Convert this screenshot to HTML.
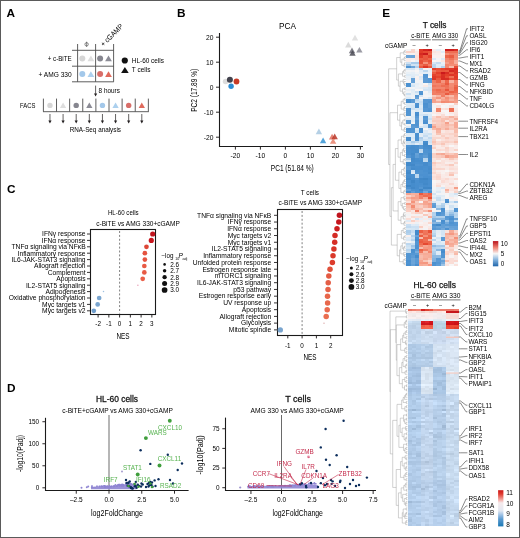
<!DOCTYPE html>
<html><head><meta charset="utf-8"><style>
html,body{margin:0;padding:0;background:#fff;}
svg{display:block;filter:blur(0.35px);}
text{font-family:"Liberation Sans", sans-serif;}
</style></head><body>
<svg width="520" height="538" viewBox="0 0 520 538" font-family='"Liberation Sans", sans-serif'>
<rect width="520" height="538" fill="#fff"/>
<text x="6.60" y="16.90" font-size="11.8" fill="#000" font-weight="bold" >A</text>
<text x="177.00" y="16.80" font-size="11.8" fill="#000" font-weight="bold" >B</text>
<text x="7.00" y="192.90" font-size="11.8" fill="#000" font-weight="bold" >C</text>
<text x="7.00" y="392.00" font-size="11.8" fill="#000" font-weight="bold" >D</text>
<text x="382.20" y="16.80" font-size="11.8" fill="#000" font-weight="bold" >E</text>
<line x1="72.00" y1="50.30" x2="113.80" y2="50.30" stroke="#4d4d4d" stroke-width="0.9" />
<line x1="72.00" y1="66.20" x2="113.80" y2="66.20" stroke="#4d4d4d" stroke-width="0.9" />
<line x1="72.00" y1="81.80" x2="113.80" y2="81.80" stroke="#4d4d4d" stroke-width="0.9" />
<line x1="77.60" y1="44.00" x2="77.60" y2="81.80" stroke="#4d4d4d" stroke-width="0.9" />
<line x1="95.60" y1="44.00" x2="95.60" y2="81.80" stroke="#4d4d4d" stroke-width="0.9" />
<line x1="113.60" y1="44.00" x2="113.60" y2="81.80" stroke="#4d4d4d" stroke-width="0.9" />
<circle cx="86.6" cy="44.3" r="1.7" fill="none" stroke="#333" stroke-width="0.55"/>
<line x1="86.60" y1="41.70" x2="86.60" y2="46.90" stroke="#333" stroke-width="0.55" />
<text x="103.40" y="47.00" font-size="7.4" textLength="28.50" lengthAdjust="spacingAndGlyphs" transform="rotate(-45 103.40 47.00)" >+ cGAMP</text>
<text x="71.70" y="61.00" font-size="6.8" text-anchor="end" textLength="24.00" lengthAdjust="spacingAndGlyphs" >+ c-BiTE</text>
<text x="71.70" y="76.90" font-size="6.8" text-anchor="end" textLength="33.20" lengthAdjust="spacingAndGlyphs" >+ AMG 330</text>
<circle cx="82.30" cy="58.40" r="3.00" fill="#d6d6d6" />
<path d="M87.50,61.35 L90.90,55.45 L94.30,61.35 Z" fill="#dedede" />
<circle cx="100.10" cy="58.40" r="3.00" fill="#86868f" />
<path d="M105.10,61.35 L108.50,55.45 L111.90,61.35 Z" fill="#8b8b95" />
<circle cx="82.30" cy="74.10" r="3.00" fill="#a3c8ea" />
<path d="M87.50,77.05 L90.90,71.15 L94.30,77.05 Z" fill="#acd0ee" />
<circle cx="100.10" cy="74.10" r="3.00" fill="#d86e69" />
<path d="M105.10,77.05 L108.50,71.15 L111.90,77.05 Z" fill="#e06a5c" />
<circle cx="124.80" cy="60.50" r="3.10" fill="#111" />
<path d="M121.10,72.90 L124.90,67.10 L128.70,72.90 Z" fill="#111" />
<text x="131.80" y="62.80" font-size="6.8" textLength="32.20" lengthAdjust="spacingAndGlyphs" >HL-60 cells</text>
<text x="131.80" y="72.20" font-size="6.8" textLength="18.60" lengthAdjust="spacingAndGlyphs" >T cells</text>
<line x1="95.60" y1="85.60" x2="95.60" y2="93.90" stroke="#231f20" stroke-width="0.7" />
<path d="M94.00,93.40 L95.60,96.40 L97.20,93.40 Z" fill="#231f20"/>
<text x="98.60" y="92.70" font-size="6.8" textLength="21.30" lengthAdjust="spacingAndGlyphs" >8 hours</text>
<text x="20.00" y="108.30" font-size="6.8" textLength="15.40" lengthAdjust="spacingAndGlyphs" >FACS</text>
<line x1="43.40" y1="98.60" x2="43.40" y2="111.70" stroke="#4d4d4d" stroke-width="0.9" />
<line x1="56.52" y1="98.60" x2="56.52" y2="111.70" stroke="#4d4d4d" stroke-width="0.9" />
<line x1="69.64" y1="98.60" x2="69.64" y2="111.70" stroke="#4d4d4d" stroke-width="0.9" />
<line x1="82.76" y1="98.60" x2="82.76" y2="111.70" stroke="#4d4d4d" stroke-width="0.9" />
<line x1="95.88" y1="98.60" x2="95.88" y2="111.70" stroke="#4d4d4d" stroke-width="0.9" />
<line x1="109.00" y1="98.60" x2="109.00" y2="111.70" stroke="#4d4d4d" stroke-width="0.9" />
<line x1="122.12" y1="98.60" x2="122.12" y2="111.70" stroke="#4d4d4d" stroke-width="0.9" />
<line x1="135.24" y1="98.60" x2="135.24" y2="111.70" stroke="#4d4d4d" stroke-width="0.9" />
<line x1="148.36" y1="98.60" x2="148.36" y2="111.70" stroke="#4d4d4d" stroke-width="0.9" />
<line x1="43.00" y1="111.70" x2="148.76" y2="111.70" stroke="#4d4d4d" stroke-width="0.9" />
<circle cx="49.96" cy="105.40" r="2.70" fill="#d6d6d6" />
<line x1="49.96" y1="114.00" x2="49.96" y2="121.10" stroke="#231f20" stroke-width="0.7" />
<path d="M48.36,120.60 L49.96,123.60 L51.56,120.60 Z" fill="#231f20"/>
<path d="M59.93,107.95 L63.08,102.45 L66.23,107.95 Z" fill="#dedede" />
<line x1="63.08" y1="114.00" x2="63.08" y2="121.10" stroke="#231f20" stroke-width="0.7" />
<path d="M61.48,120.60 L63.08,123.60 L64.68,120.60 Z" fill="#231f20"/>
<circle cx="76.20" cy="105.40" r="2.70" fill="#86868f" />
<line x1="76.20" y1="114.00" x2="76.20" y2="121.10" stroke="#231f20" stroke-width="0.7" />
<path d="M74.60,120.60 L76.20,123.60 L77.80,120.60 Z" fill="#231f20"/>
<path d="M86.17,107.95 L89.32,102.45 L92.47,107.95 Z" fill="#8b8b95" />
<line x1="89.32" y1="114.00" x2="89.32" y2="121.10" stroke="#231f20" stroke-width="0.7" />
<path d="M87.72,120.60 L89.32,123.60 L90.92,120.60 Z" fill="#231f20"/>
<circle cx="102.44" cy="105.40" r="2.70" fill="#a3c8ea" />
<line x1="102.44" y1="114.00" x2="102.44" y2="121.10" stroke="#231f20" stroke-width="0.7" />
<path d="M100.84,120.60 L102.44,123.60 L104.04,120.60 Z" fill="#231f20"/>
<path d="M112.41,107.95 L115.56,102.45 L118.71,107.95 Z" fill="#acd0ee" />
<line x1="115.56" y1="114.00" x2="115.56" y2="121.10" stroke="#231f20" stroke-width="0.7" />
<path d="M113.96,120.60 L115.56,123.60 L117.16,120.60 Z" fill="#231f20"/>
<circle cx="128.68" cy="105.40" r="2.70" fill="#d86e69" />
<line x1="128.68" y1="114.00" x2="128.68" y2="121.10" stroke="#231f20" stroke-width="0.7" />
<path d="M127.08,120.60 L128.68,123.60 L130.28,120.60 Z" fill="#231f20"/>
<path d="M138.65,107.95 L141.80,102.45 L144.95,107.95 Z" fill="#e06a5c" />
<line x1="141.80" y1="114.00" x2="141.80" y2="121.10" stroke="#231f20" stroke-width="0.7" />
<path d="M140.20,120.60 L141.80,123.60 L143.40,120.60 Z" fill="#231f20"/>
<text x="69.70" y="132.00" font-size="6.8" textLength="51.30" lengthAdjust="spacingAndGlyphs" >RNA-Seq analysis</text>
<text x="287.60" y="29.20" font-size="8.4" text-anchor="middle" textLength="17.00" lengthAdjust="spacingAndGlyphs" >PCA</text>
<line x1="219.50" y1="33.00" x2="219.50" y2="147.00" stroke="#1a1a1a" stroke-width="1.1" />
<line x1="219.00" y1="146.50" x2="363.00" y2="146.50" stroke="#1a1a1a" stroke-width="1.1" />
<line x1="216.00" y1="37.20" x2="219.00" y2="37.20" stroke="#231f20" stroke-width="0.95" />
<text x="213.40" y="39.50" font-size="6.7" text-anchor="end" >20</text>
<line x1="216.00" y1="62.20" x2="219.00" y2="62.20" stroke="#231f20" stroke-width="0.95" />
<text x="213.40" y="64.50" font-size="6.7" text-anchor="end" >10</text>
<line x1="216.00" y1="87.20" x2="219.00" y2="87.20" stroke="#231f20" stroke-width="0.95" />
<text x="213.40" y="89.50" font-size="6.7" text-anchor="end" >0</text>
<line x1="216.00" y1="112.20" x2="219.00" y2="112.20" stroke="#231f20" stroke-width="0.95" />
<text x="213.40" y="114.50" font-size="6.7" text-anchor="end" >-10</text>
<line x1="216.00" y1="137.20" x2="219.00" y2="137.20" stroke="#231f20" stroke-width="0.95" />
<text x="213.40" y="139.50" font-size="6.7" text-anchor="end" >-20</text>
<line x1="235.40" y1="146.50" x2="235.40" y2="149.60" stroke="#231f20" stroke-width="0.95" />
<text x="235.40" y="158.30" font-size="6.7" text-anchor="middle" >-20</text>
<line x1="260.40" y1="146.50" x2="260.40" y2="149.60" stroke="#231f20" stroke-width="0.95" />
<text x="260.40" y="158.30" font-size="6.7" text-anchor="middle" >-10</text>
<line x1="285.40" y1="146.50" x2="285.40" y2="149.60" stroke="#231f20" stroke-width="0.95" />
<text x="285.40" y="158.30" font-size="6.7" text-anchor="middle" >0</text>
<line x1="310.40" y1="146.50" x2="310.40" y2="149.60" stroke="#231f20" stroke-width="0.95" />
<text x="310.40" y="158.30" font-size="6.7" text-anchor="middle" >10</text>
<line x1="335.40" y1="146.50" x2="335.40" y2="149.60" stroke="#231f20" stroke-width="0.95" />
<text x="335.40" y="158.30" font-size="6.7" text-anchor="middle" >20</text>
<line x1="360.40" y1="146.50" x2="360.40" y2="149.60" stroke="#231f20" stroke-width="0.95" />
<text x="360.40" y="158.30" font-size="6.7" text-anchor="middle" >30</text>
<text x="292.30" y="170.90" font-size="8.2" text-anchor="middle" textLength="43.00" lengthAdjust="spacingAndGlyphs" >PC1 (51.84 %)</text>
<text x="197.40" y="90.30" font-size="8.2" text-anchor="middle" textLength="43.00" lengthAdjust="spacingAndGlyphs" transform="rotate(-90 197.40 90.30)" >PC2 (17.89 %)</text>
<circle cx="225.60" cy="81.50" r="2.80" fill="#d8d8d8" fill-opacity="0.9"/>
<circle cx="229.90" cy="79.80" r="3.00" fill="#33333f" fill-opacity="0.92"/>
<circle cx="236.50" cy="81.50" r="2.90" fill="#c4301a" fill-opacity="0.95"/>
<circle cx="231.10" cy="86.30" r="2.70" fill="#2a8cd4" />
<path d="M351.80,40.40 L355.00,34.80 L358.20,40.40 Z" fill="#dcdcdc" fill-opacity="0.85"/>
<path d="M345.10,47.40 L348.30,41.80 L351.50,47.40 Z" fill="#d2d2d2" fill-opacity="0.8"/>
<path d="M348.80,53.20 L352.00,47.60 L355.20,53.20 Z" fill="#6a6a74" fill-opacity="0.85"/>
<path d="M356.20,52.60 L359.40,47.00 L362.60,52.60 Z" fill="#8a8a94" fill-opacity="0.85"/>
<path d="M349.30,55.80 L352.50,50.20 L355.70,55.80 Z" fill="#4a4a54" fill-opacity="0.85"/>
<path d="M315.70,134.20 L318.90,128.60 L322.10,134.20 Z" fill="#a8c8e0" fill-opacity="0.85"/>
<path d="M319.90,143.20 L323.10,137.60 L326.30,143.20 Z" fill="#4a9fd8" fill-opacity="0.95"/>
<path d="M328.90,139.40 L332.10,133.80 L335.30,139.40 Z" fill="#e07060" fill-opacity="0.85"/>
<path d="M331.50,139.20 L334.70,133.60 L337.90,139.20 Z" fill="#b83424" fill-opacity="0.85"/>
<path d="M329.90,143.80 L333.10,138.20 L336.30,143.80 Z" fill="#e8806a" fill-opacity="0.85"/>
<rect x="90.50" y="229.50" width="65.00" height="85.00" fill="none" stroke="#1a1a1a" stroke-width="1.1"/>
<line x1="119.60" y1="231.00" x2="119.60" y2="313.50" stroke="#4a4a4a" stroke-width="0.7" stroke-dasharray="2.0,1.9"/>
<text x="123.30" y="215.10" font-size="6.8" text-anchor="middle" textLength="30.80" lengthAdjust="spacingAndGlyphs" >HL-60 cells</text>
<text x="96.30" y="225.60" font-size="6.8" textLength="83.50" lengthAdjust="spacingAndGlyphs" >c-BiTE vs AMG 330+cGAMP</text>
<line x1="87.00" y1="234.00" x2="90.60" y2="234.00" stroke="#231f20" stroke-width="0.9" />
<text x="85.60" y="236.30" font-size="6.7" text-anchor="end" >IFNγ response</text>
<circle cx="152.71" cy="234.00" r="2.60" fill="#c0141e" />
<line x1="87.00" y1="240.40" x2="90.60" y2="240.40" stroke="#231f20" stroke-width="0.9" />
<text x="85.60" y="242.70" font-size="6.7" text-anchor="end" >IFNα response</text>
<circle cx="151.31" cy="240.40" r="2.60" fill="#c8161e" />
<line x1="87.00" y1="246.80" x2="90.60" y2="246.80" stroke="#231f20" stroke-width="0.9" />
<text x="85.60" y="249.10" font-size="6.7" text-anchor="end" >TNFα signaling via NFκB</text>
<circle cx="146.47" cy="246.80" r="2.35" fill="#dd4637" />
<line x1="87.00" y1="253.20" x2="90.60" y2="253.20" stroke="#231f20" stroke-width="0.9" />
<text x="85.60" y="255.50" font-size="6.7" text-anchor="end" >Inflammatory response</text>
<circle cx="144.86" cy="253.20" r="2.35" fill="#e5533f" />
<line x1="87.00" y1="259.60" x2="90.60" y2="259.60" stroke="#231f20" stroke-width="0.9" />
<text x="85.60" y="261.90" font-size="6.7" text-anchor="end" >IL6-JAK-STAT3 signaling</text>
<circle cx="144.86" cy="259.60" r="2.35" fill="#e5533f" />
<line x1="87.00" y1="266.00" x2="90.60" y2="266.00" stroke="#231f20" stroke-width="0.9" />
<text x="85.60" y="268.30" font-size="6.7" text-anchor="end" >Allograft rejection</text>
<circle cx="144.32" cy="266.00" r="2.35" fill="#e85a44" />
<line x1="87.00" y1="272.40" x2="90.60" y2="272.40" stroke="#231f20" stroke-width="0.9" />
<text x="85.60" y="274.70" font-size="6.7" text-anchor="end" >Complement</text>
<circle cx="144.32" cy="272.40" r="2.35" fill="#e85a44" />
<line x1="87.00" y1="278.80" x2="90.60" y2="278.80" stroke="#231f20" stroke-width="0.9" />
<text x="85.60" y="281.10" font-size="6.7" text-anchor="end" >Apoptosis</text>
<circle cx="142.71" cy="278.80" r="2.35" fill="#ea5f48" />
<line x1="87.00" y1="285.20" x2="90.60" y2="285.20" stroke="#231f20" stroke-width="0.9" />
<text x="85.60" y="287.50" font-size="6.7" text-anchor="end" >IL2-STAT5 signaling</text>
<circle cx="137.88" cy="285.20" r="0.75" fill="#e8a0b8" />
<line x1="87.00" y1="291.60" x2="90.60" y2="291.60" stroke="#231f20" stroke-width="0.9" />
<text x="85.60" y="293.90" font-size="6.7" text-anchor="end" >Adipogenesis</text>
<circle cx="103.47" cy="291.60" r="0.75" fill="#9ec0e0" />
<line x1="87.00" y1="298.00" x2="90.60" y2="298.00" stroke="#231f20" stroke-width="0.9" />
<text x="85.60" y="300.30" font-size="6.7" text-anchor="end" >Oxidative phosphorylation</text>
<circle cx="99.17" cy="298.00" r="2.35" fill="#7aa5cf" />
<line x1="87.00" y1="304.40" x2="90.60" y2="304.40" stroke="#231f20" stroke-width="0.9" />
<text x="85.60" y="306.70" font-size="6.7" text-anchor="end" >Myc targets v1</text>
<circle cx="97.67" cy="304.40" r="2.35" fill="#7aa5cf" />
<line x1="87.00" y1="310.80" x2="90.60" y2="310.80" stroke="#231f20" stroke-width="0.9" />
<text x="85.60" y="313.10" font-size="6.7" text-anchor="end" >Myc targets v2</text>
<circle cx="93.80" cy="310.80" r="2.35" fill="#6d9ccb" />
<line x1="98.10" y1="314.50" x2="98.10" y2="317.50" stroke="#231f20" stroke-width="0.95" />
<text x="98.10" y="325.60" font-size="6.3" text-anchor="middle" >-2</text>
<line x1="108.85" y1="314.50" x2="108.85" y2="317.50" stroke="#231f20" stroke-width="0.95" />
<text x="108.85" y="325.60" font-size="6.3" text-anchor="middle" >-1</text>
<line x1="119.60" y1="314.50" x2="119.60" y2="317.50" stroke="#231f20" stroke-width="0.95" />
<text x="119.60" y="325.60" font-size="6.3" text-anchor="middle" >0</text>
<line x1="130.35" y1="314.50" x2="130.35" y2="317.50" stroke="#231f20" stroke-width="0.95" />
<text x="130.35" y="325.60" font-size="6.3" text-anchor="middle" >1</text>
<line x1="141.10" y1="314.50" x2="141.10" y2="317.50" stroke="#231f20" stroke-width="0.95" />
<text x="141.10" y="325.60" font-size="6.3" text-anchor="middle" >2</text>
<line x1="151.85" y1="314.50" x2="151.85" y2="317.50" stroke="#231f20" stroke-width="0.95" />
<text x="151.85" y="325.60" font-size="6.3" text-anchor="middle" >3</text>
<text x="123.00" y="338.90" font-size="8.4" text-anchor="middle" textLength="13.20" lengthAdjust="spacingAndGlyphs" >NES</text>
<text x="161.40" y="258.00" font-size="6.3" >−log</text>
<text x="175.30" y="259.50" font-size="3.6" >10</text>
<text x="178.60" y="258.00" font-size="6.5" font-style="italic">P</text>
<text x="182.60" y="259.80" font-size="3.6" >adj</text>
<circle cx="164.60" cy="264.40" r="1.30" fill="#111" />
<text x="170.20" y="266.70" font-size="6.4" >2.6</text>
<circle cx="164.60" cy="270.80" r="1.75" fill="#111" />
<text x="170.20" y="273.10" font-size="6.4" >2.7</text>
<circle cx="164.60" cy="277.20" r="2.15" fill="#111" />
<text x="170.20" y="279.50" font-size="6.4" >2.8</text>
<circle cx="164.60" cy="283.60" r="2.50" fill="#111" />
<text x="170.20" y="285.90" font-size="6.4" >2.9</text>
<circle cx="164.60" cy="290.00" r="2.85" fill="#111" />
<text x="170.20" y="292.30" font-size="6.4" >3.0</text>
<rect x="277.50" y="209.50" width="65.00" height="126.00" fill="none" stroke="#1a1a1a" stroke-width="1.1"/>
<line x1="302.10" y1="211.00" x2="302.10" y2="334.50" stroke="#4a4a4a" stroke-width="0.7" stroke-dasharray="2.0,1.9"/>
<text x="309.90" y="194.60" font-size="6.8" text-anchor="middle" textLength="18.20" lengthAdjust="spacingAndGlyphs" >T cells</text>
<text x="278.60" y="204.60" font-size="6.8" textLength="83.40" lengthAdjust="spacingAndGlyphs" >c-BiTE vs AMG 330+cGAMP</text>
<line x1="274.00" y1="215.30" x2="277.70" y2="215.30" stroke="#231f20" stroke-width="0.9" />
<text x="271.20" y="217.60" font-size="6.7" text-anchor="end" >TNFα signaling via NFκB</text>
<circle cx="339.40" cy="215.30" r="2.75" fill="#c0141e" />
<line x1="274.00" y1="222.04" x2="277.70" y2="222.04" stroke="#231f20" stroke-width="0.9" />
<text x="271.20" y="224.34" font-size="6.7" text-anchor="end" >IFNγ response</text>
<circle cx="338.80" cy="222.04" r="2.75" fill="#c6161e" />
<line x1="274.00" y1="228.78" x2="277.70" y2="228.78" stroke="#231f20" stroke-width="0.9" />
<text x="271.20" y="231.08" font-size="6.7" text-anchor="end" >IFNα response</text>
<circle cx="337.00" cy="228.78" r="2.75" fill="#cc1e20" />
<line x1="274.00" y1="235.52" x2="277.70" y2="235.52" stroke="#231f20" stroke-width="0.9" />
<text x="271.20" y="237.82" font-size="6.7" text-anchor="end" >Myc targets v2</text>
<circle cx="335.00" cy="235.52" r="2.75" fill="#d42a24" />
<line x1="274.00" y1="242.26" x2="277.70" y2="242.26" stroke="#231f20" stroke-width="0.9" />
<text x="271.20" y="244.56" font-size="6.7" text-anchor="end" >Myc targets v1</text>
<circle cx="334.70" cy="242.26" r="2.75" fill="#d62e26" />
<line x1="274.00" y1="249.00" x2="277.70" y2="249.00" stroke="#231f20" stroke-width="0.9" />
<text x="271.20" y="251.30" font-size="6.7" text-anchor="end" >IL2-STAT5 signaling</text>
<circle cx="333.90" cy="249.00" r="2.75" fill="#d83428" />
<line x1="274.00" y1="255.74" x2="277.70" y2="255.74" stroke="#231f20" stroke-width="0.9" />
<text x="271.20" y="258.04" font-size="6.7" text-anchor="end" >Inflammatory response</text>
<circle cx="333.00" cy="255.74" r="2.75" fill="#da382a" />
<line x1="274.00" y1="262.48" x2="277.70" y2="262.48" stroke="#231f20" stroke-width="0.9" />
<text x="271.20" y="264.78" font-size="6.7" text-anchor="end" >Unfolded protein response</text>
<circle cx="332.40" cy="262.48" r="2.75" fill="#dc3c2c" />
<line x1="274.00" y1="269.22" x2="277.70" y2="269.22" stroke="#231f20" stroke-width="0.9" />
<text x="271.20" y="271.52" font-size="6.7" text-anchor="end" >Estrogen response late</text>
<circle cx="330.00" cy="269.22" r="2.75" fill="#e0503a" />
<line x1="274.00" y1="275.96" x2="277.70" y2="275.96" stroke="#231f20" stroke-width="0.9" />
<text x="271.20" y="278.26" font-size="6.7" text-anchor="end" >mTORC1 signaling</text>
<circle cx="328.80" cy="275.96" r="2.75" fill="#e45a42" />
<line x1="274.00" y1="282.70" x2="277.70" y2="282.70" stroke="#231f20" stroke-width="0.9" />
<text x="271.20" y="285.00" font-size="6.7" text-anchor="end" >IL6-JAK-STAT3 signaling</text>
<circle cx="328.20" cy="282.70" r="2.75" fill="#e45e46" />
<line x1="274.00" y1="289.44" x2="277.70" y2="289.44" stroke="#231f20" stroke-width="0.9" />
<text x="271.20" y="291.74" font-size="6.7" text-anchor="end" >p53 pathway</text>
<circle cx="328.00" cy="289.44" r="2.75" fill="#e66248" />
<line x1="274.00" y1="296.18" x2="277.70" y2="296.18" stroke="#231f20" stroke-width="0.9" />
<text x="271.20" y="298.48" font-size="6.7" text-anchor="end" >Estrogen response early</text>
<circle cx="327.50" cy="296.18" r="2.75" fill="#e8664a" />
<line x1="274.00" y1="302.92" x2="277.70" y2="302.92" stroke="#231f20" stroke-width="0.9" />
<text x="271.20" y="305.22" font-size="6.7" text-anchor="end" >UV response up</text>
<circle cx="327.60" cy="302.92" r="2.75" fill="#e8684c" />
<line x1="274.00" y1="309.66" x2="277.70" y2="309.66" stroke="#231f20" stroke-width="0.9" />
<text x="271.20" y="311.96" font-size="6.7" text-anchor="end" >Apoptosis</text>
<circle cx="327.20" cy="309.66" r="2.75" fill="#ea6a4e" />
<line x1="274.00" y1="316.40" x2="277.70" y2="316.40" stroke="#231f20" stroke-width="0.9" />
<text x="271.20" y="318.70" font-size="6.7" text-anchor="end" >Allograft rejection</text>
<circle cx="326.20" cy="316.40" r="2.75" fill="#ea6e50" />
<line x1="274.00" y1="323.14" x2="277.70" y2="323.14" stroke="#231f20" stroke-width="0.9" />
<text x="271.20" y="325.44" font-size="6.7" text-anchor="end" >Glycolysis</text>
<circle cx="324.00" cy="323.14" r="0.70" fill="#d8a0a0" />
<line x1="274.00" y1="329.88" x2="277.70" y2="329.88" stroke="#231f20" stroke-width="0.9" />
<text x="271.20" y="332.18" font-size="6.7" text-anchor="end" >Mitotic spindle</text>
<circle cx="280.30" cy="329.88" r="2.70" fill="#7aa5cf" />
<line x1="287.80" y1="335.40" x2="287.80" y2="338.40" stroke="#231f20" stroke-width="0.95" />
<text x="287.80" y="347.60" font-size="6.3" text-anchor="middle" >-1</text>
<line x1="302.10" y1="335.40" x2="302.10" y2="338.40" stroke="#231f20" stroke-width="0.95" />
<text x="302.10" y="347.60" font-size="6.3" text-anchor="middle" >0</text>
<line x1="316.40" y1="335.40" x2="316.40" y2="338.40" stroke="#231f20" stroke-width="0.95" />
<text x="316.40" y="347.60" font-size="6.3" text-anchor="middle" >1</text>
<line x1="330.70" y1="335.40" x2="330.70" y2="338.40" stroke="#231f20" stroke-width="0.95" />
<text x="330.70" y="347.60" font-size="6.3" text-anchor="middle" >2</text>
<text x="310.00" y="360.00" font-size="8.4" text-anchor="middle" textLength="13.00" lengthAdjust="spacingAndGlyphs" >NES</text>
<text x="346.20" y="261.00" font-size="6.3" >−log</text>
<text x="360.10" y="262.50" font-size="3.6" >10</text>
<text x="363.40" y="261.00" font-size="6.5" font-style="italic">P</text>
<text x="367.40" y="262.80" font-size="3.6" >adj</text>
<circle cx="351.40" cy="268.00" r="1.50" fill="#111" />
<text x="355.70" y="270.30" font-size="6.4" >2.4</text>
<circle cx="351.40" cy="274.30" r="2.00" fill="#111" />
<text x="355.70" y="276.60" font-size="6.4" >2.6</text>
<circle cx="351.40" cy="280.60" r="2.45" fill="#111" />
<text x="355.70" y="282.90" font-size="6.4" >2.8</text>
<circle cx="351.40" cy="286.90" r="2.85" fill="#111" />
<text x="355.70" y="289.20" font-size="6.4" >3.0</text>
<text x="117.00" y="402.40" font-size="9.0" text-anchor="middle" textLength="42.00" lengthAdjust="spacingAndGlyphs" stroke="#282828" stroke-width="0.3">HL-60 cells</text>
<text x="62.20" y="412.60" font-size="6.8" textLength="110.60" lengthAdjust="spacingAndGlyphs" >c-BiTE+cGAMP vs AMG 330+cGAMP</text>
<line x1="109.00" y1="415.00" x2="109.00" y2="490.50" stroke="#7a7a7a" stroke-width="1.1" />
<line x1="45.50" y1="417.80" x2="45.50" y2="491.00" stroke="#1a1a1a" stroke-width="1.1" />
<line x1="45.00" y1="490.50" x2="188.60" y2="490.50" stroke="#1a1a1a" stroke-width="1.1" />
<line x1="42.40" y1="487.80" x2="45.70" y2="487.80" stroke="#231f20" stroke-width="0.95" />
<text x="39.20" y="490.00" font-size="6.4" text-anchor="end" >0</text>
<line x1="42.40" y1="465.78" x2="45.70" y2="465.78" stroke="#231f20" stroke-width="0.95" />
<text x="39.20" y="467.98" font-size="6.4" text-anchor="end" >50</text>
<line x1="42.40" y1="443.75" x2="45.70" y2="443.75" stroke="#231f20" stroke-width="0.95" />
<text x="39.20" y="445.95" font-size="6.4" text-anchor="end" >100</text>
<line x1="42.40" y1="421.73" x2="45.70" y2="421.73" stroke="#231f20" stroke-width="0.95" />
<text x="39.20" y="423.93" font-size="6.4" text-anchor="end" >150</text>
<line x1="76.25" y1="490.70" x2="76.25" y2="493.70" stroke="#231f20" stroke-width="0.95" />
<text x="76.25" y="502.10" font-size="6.5" text-anchor="middle" >–2.5</text>
<line x1="109.00" y1="490.70" x2="109.00" y2="493.70" stroke="#231f20" stroke-width="0.95" />
<text x="109.00" y="502.10" font-size="6.5" text-anchor="middle" >0.0</text>
<line x1="141.75" y1="490.70" x2="141.75" y2="493.70" stroke="#231f20" stroke-width="0.95" />
<text x="141.75" y="502.10" font-size="6.5" text-anchor="middle" >2.5</text>
<line x1="174.50" y1="490.70" x2="174.50" y2="493.70" stroke="#231f20" stroke-width="0.95" />
<text x="174.50" y="502.10" font-size="6.5" text-anchor="middle" >5.0</text>
<text x="117.00" y="515.80" font-size="9.0" text-anchor="middle" textLength="52.00" lengthAdjust="spacingAndGlyphs" >log2FoldChange</text>
<text x="22.90" y="453.50" font-size="8.2" text-anchor="middle" textLength="37.00" lengthAdjust="spacingAndGlyphs" transform="rotate(-90 22.90 453.50)" >-log10(Padj)</text>
<path d="M91,489.2 L91,487.0 C98,486.6 104,486.4 110,486.0 C118,485.4 126,484.4 131,483.6 L136,484.6 L136.5,489.2 Z" fill="#8e84d2" fill-opacity="0.9"/>
<circle cx="101.71" cy="486.78" r="0.80" fill="#8e84d2" />
<circle cx="107.65" cy="486.65" r="0.80" fill="#8e84d2" />
<circle cx="119.16" cy="484.64" r="0.80" fill="#8e84d2" />
<circle cx="91.59" cy="487.31" r="0.80" fill="#8e84d2" />
<circle cx="102.67" cy="486.22" r="0.80" fill="#8e84d2" />
<circle cx="135.80" cy="483.87" r="0.80" fill="#8e84d2" />
<circle cx="128.64" cy="484.53" r="0.80" fill="#8e84d2" />
<circle cx="119.76" cy="484.74" r="0.80" fill="#8e84d2" />
<circle cx="119.57" cy="486.05" r="0.80" fill="#8e84d2" />
<circle cx="114.54" cy="486.28" r="0.80" fill="#8e84d2" />
<circle cx="121.21" cy="484.46" r="0.80" fill="#8e84d2" />
<circle cx="125.12" cy="485.05" r="0.80" fill="#8e84d2" />
<circle cx="104.56" cy="485.86" r="0.80" fill="#8e84d2" />
<circle cx="129.95" cy="484.41" r="0.80" fill="#8e84d2" />
<circle cx="123.35" cy="485.73" r="0.80" fill="#8e84d2" />
<circle cx="123.14" cy="485.83" r="0.80" fill="#8e84d2" />
<circle cx="108.77" cy="486.90" r="0.80" fill="#8e84d2" />
<circle cx="111.01" cy="486.94" r="0.80" fill="#8e84d2" />
<circle cx="130.55" cy="483.68" r="0.80" fill="#8e84d2" />
<circle cx="97.12" cy="486.19" r="0.80" fill="#8e84d2" />
<circle cx="134.45" cy="483.93" r="0.80" fill="#8e84d2" />
<circle cx="119.20" cy="485.06" r="0.80" fill="#8e84d2" />
<circle cx="113.83" cy="485.70" r="0.80" fill="#8e84d2" />
<circle cx="106.79" cy="486.69" r="0.80" fill="#8e84d2" />
<circle cx="117.29" cy="486.32" r="0.80" fill="#8e84d2" />
<circle cx="121.69" cy="485.97" r="0.80" fill="#8e84d2" />
<circle cx="129.54" cy="485.38" r="0.80" fill="#8e84d2" />
<circle cx="121.21" cy="484.63" r="0.80" fill="#8e84d2" />
<circle cx="129.73" cy="485.31" r="0.80" fill="#8e84d2" />
<circle cx="131.71" cy="484.42" r="0.80" fill="#8e84d2" />
<circle cx="123.12" cy="484.55" r="0.80" fill="#8e84d2" />
<circle cx="128.42" cy="484.72" r="0.80" fill="#8e84d2" />
<circle cx="103.82" cy="485.91" r="0.80" fill="#8e84d2" />
<circle cx="129.43" cy="485.38" r="0.80" fill="#8e84d2" />
<circle cx="94.98" cy="487.24" r="0.80" fill="#8e84d2" />
<circle cx="109.47" cy="485.67" r="0.80" fill="#8e84d2" />
<circle cx="104.23" cy="487.18" r="0.80" fill="#8e84d2" />
<circle cx="130.27" cy="483.60" r="0.80" fill="#8e84d2" />
<circle cx="118.65" cy="484.65" r="0.80" fill="#8e84d2" />
<circle cx="123.33" cy="484.75" r="0.80" fill="#8e84d2" />
<circle cx="130.64" cy="485.26" r="0.80" fill="#8e84d2" />
<circle cx="113.74" cy="486.81" r="0.80" fill="#8e84d2" />
<circle cx="104.94" cy="485.94" r="0.80" fill="#8e84d2" />
<circle cx="117.99" cy="484.69" r="0.80" fill="#8e84d2" />
<circle cx="99.88" cy="486.53" r="0.80" fill="#8e84d2" />
<circle cx="118.47" cy="484.87" r="0.80" fill="#8e84d2" />
<circle cx="92.91" cy="487.36" r="0.80" fill="#8e84d2" />
<circle cx="105.12" cy="487.51" r="0.80" fill="#8e84d2" />
<circle cx="131.35" cy="484.11" r="0.80" fill="#8e84d2" />
<circle cx="111.72" cy="486.13" r="0.80" fill="#8e84d2" />
<circle cx="119.97" cy="485.52" r="0.80" fill="#8e84d2" />
<circle cx="116.17" cy="485.91" r="0.80" fill="#8e84d2" />
<circle cx="133.33" cy="484.16" r="0.80" fill="#8e84d2" />
<circle cx="110.40" cy="486.61" r="0.80" fill="#8e84d2" />
<circle cx="101.69" cy="486.34" r="0.80" fill="#8e84d2" />
<circle cx="135.00" cy="484.04" r="0.80" fill="#8e84d2" />
<circle cx="115.68" cy="484.86" r="0.80" fill="#8e84d2" />
<circle cx="109.68" cy="486.42" r="0.80" fill="#8e84d2" />
<circle cx="91.90" cy="486.91" r="0.80" fill="#8e84d2" />
<circle cx="119.45" cy="484.61" r="0.80" fill="#8e84d2" />
<circle cx="119.23" cy="485.36" r="0.80" fill="#8e84d2" />
<circle cx="121.57" cy="484.94" r="0.80" fill="#8e84d2" />
<circle cx="122.81" cy="485.53" r="0.80" fill="#8e84d2" />
<circle cx="92.00" cy="485.91" r="0.80" fill="#8e84d2" />
<circle cx="121.42" cy="486.06" r="0.80" fill="#8e84d2" />
<circle cx="102.30" cy="486.62" r="0.80" fill="#8e84d2" />
<circle cx="117.67" cy="485.24" r="0.80" fill="#8e84d2" />
<circle cx="107.38" cy="486.15" r="0.80" fill="#8e84d2" />
<circle cx="107.61" cy="486.64" r="0.80" fill="#8e84d2" />
<circle cx="104.52" cy="486.48" r="0.80" fill="#8e84d2" />
<circle cx="125.75" cy="483.98" r="0.80" fill="#8e84d2" />
<circle cx="116.62" cy="486.08" r="0.80" fill="#8e84d2" />
<circle cx="104.95" cy="486.20" r="0.80" fill="#8e84d2" />
<circle cx="127.17" cy="484.23" r="0.80" fill="#8e84d2" />
<circle cx="99.43" cy="486.58" r="0.80" fill="#8e84d2" />
<circle cx="122.41" cy="484.42" r="0.80" fill="#8e84d2" />
<circle cx="105.49" cy="486.36" r="0.80" fill="#8e84d2" />
<circle cx="128.51" cy="484.47" r="0.80" fill="#8e84d2" />
<circle cx="129.50" cy="483.90" r="0.80" fill="#8e84d2" />
<circle cx="106.15" cy="486.87" r="0.80" fill="#8e84d2" />
<circle cx="130.82" cy="484.29" r="0.80" fill="#8e84d2" />
<circle cx="101.13" cy="486.02" r="0.80" fill="#8e84d2" />
<circle cx="114.83" cy="485.26" r="0.80" fill="#8e84d2" />
<circle cx="127.30" cy="485.30" r="0.80" fill="#8e84d2" />
<circle cx="99.26" cy="486.30" r="0.80" fill="#8e84d2" />
<circle cx="127.33" cy="484.95" r="0.80" fill="#8e84d2" />
<circle cx="127.28" cy="484.42" r="0.80" fill="#8e84d2" />
<circle cx="96.84" cy="486.33" r="0.80" fill="#8e84d2" />
<circle cx="126.72" cy="484.33" r="0.80" fill="#8e84d2" />
<circle cx="106.59" cy="486.41" r="0.80" fill="#8e84d2" />
<circle cx="81.50" cy="487.80" r="1.00" fill="#8e84d2" />
<circle cx="86.80" cy="487.20" r="1.00" fill="#8e84d2" />
<circle cx="88.20" cy="486.60" r="1.00" fill="#8e84d2" />
<circle cx="122.00" cy="471.60" r="1.00" fill="#a89ed0" />
<circle cx="140.60" cy="450.20" r="1.20" fill="#0b2d5c" />
<circle cx="167.80" cy="454.80" r="1.20" fill="#0b2d5c" />
<circle cx="182.00" cy="463.50" r="1.20" fill="#0b2d5c" />
<circle cx="150.30" cy="463.90" r="1.20" fill="#0b2d5c" />
<circle cx="177.70" cy="470.00" r="1.20" fill="#0b2d5c" />
<circle cx="170.00" cy="480.00" r="1.20" fill="#0b2d5c" />
<circle cx="173.00" cy="483.50" r="1.20" fill="#0b2d5c" />
<circle cx="158.50" cy="479.30" r="1.20" fill="#0b2d5c" />
<circle cx="154.60" cy="480.40" r="1.20" fill="#0b2d5c" />
<circle cx="150.30" cy="482.00" r="1.20" fill="#0b2d5c" />
<circle cx="148.50" cy="486.50" r="1.20" fill="#0b2d5c" />
<circle cx="151.50" cy="485.00" r="1.20" fill="#0b2d5c" />
<circle cx="141.50" cy="483.50" r="1.20" fill="#0b2d5c" />
<circle cx="126.00" cy="480.00" r="1.20" fill="#0b2d5c" />
<circle cx="147.50" cy="484.00" r="1.20" fill="#0b2d5c" />
<circle cx="149.50" cy="483.00" r="1.20" fill="#0b2d5c" />
<circle cx="152.50" cy="486.80" r="1.20" fill="#0b2d5c" />
<circle cx="146.00" cy="487.00" r="1.20" fill="#0b2d5c" />
<circle cx="155.50" cy="486.00" r="1.20" fill="#0b2d5c" />
<circle cx="131.89" cy="488.22" r="1.20" fill="#0b2d5c" />
<circle cx="129.28" cy="486.29" r="1.20" fill="#0b2d5c" />
<circle cx="128.21" cy="482.86" r="1.20" fill="#0b2d5c" />
<circle cx="151.98" cy="482.57" r="1.20" fill="#0b2d5c" />
<circle cx="142.69" cy="484.44" r="1.20" fill="#0b2d5c" />
<circle cx="137.78" cy="484.71" r="1.20" fill="#0b2d5c" />
<circle cx="131.00" cy="487.23" r="1.20" fill="#0b2d5c" />
<circle cx="128.33" cy="482.76" r="1.20" fill="#0b2d5c" />
<circle cx="126.52" cy="483.00" r="1.20" fill="#0b2d5c" />
<circle cx="136.60" cy="487.77" r="1.20" fill="#0b2d5c" />
<circle cx="135.86" cy="481.85" r="1.20" fill="#0b2d5c" />
<circle cx="132.72" cy="488.44" r="1.20" fill="#0b2d5c" />
<circle cx="127.64" cy="485.65" r="1.20" fill="#0b2d5c" />
<circle cx="135.81" cy="485.96" r="1.20" fill="#0b2d5c" />
<circle cx="134.80" cy="486.18" r="1.20" fill="#0b2d5c" />
<circle cx="138.94" cy="485.87" r="1.20" fill="#0b2d5c" />
<circle cx="149.44" cy="485.36" r="1.20" fill="#0b2d5c" />
<circle cx="129.70" cy="481.48" r="1.20" fill="#0b2d5c" />
<circle cx="150.60" cy="484.67" r="1.20" fill="#0b2d5c" />
<circle cx="131.04" cy="488.10" r="1.20" fill="#0b2d5c" />
<circle cx="141.05" cy="486.47" r="1.20" fill="#0b2d5c" />
<circle cx="148.90" cy="483.14" r="1.20" fill="#0b2d5c" />
<circle cx="169.80" cy="420.80" r="1.95" fill="#3f9e3c" />
<circle cx="145.90" cy="438.10" r="1.95" fill="#3f9e3c" />
<circle cx="159.50" cy="465.50" r="1.95" fill="#3f9e3c" />
<circle cx="137.70" cy="474.50" r="1.95" fill="#3f9e3c" />
<circle cx="134.60" cy="484.00" r="1.30" fill="#3f9e3c" />
<circle cx="150.30" cy="483.50" r="1.30" fill="#3f9e3c" />
<circle cx="128.50" cy="486.00" r="1.30" fill="#3f9e3c" />
<circle cx="138.50" cy="486.80" r="1.30" fill="#3f9e3c" />
<circle cx="152.00" cy="487.00" r="1.30" fill="#3f9e3c" />
<text x="158.00" y="429.80" font-size="6.9" textLength="23.99" lengthAdjust="spacingAndGlyphs" fill="#55b24e" >CXCL10</text>
<text x="147.90" y="435.20" font-size="6.9" textLength="18.81" lengthAdjust="spacingAndGlyphs" fill="#55b24e" >WARS</text>
<text x="157.70" y="460.70" font-size="6.9" textLength="23.52" lengthAdjust="spacingAndGlyphs" fill="#55b24e" >CXCL11</text>
<text x="123.00" y="469.60" font-size="6.9" textLength="18.81" lengthAdjust="spacingAndGlyphs" fill="#55b24e" >STAT1</text>
<text x="103.80" y="481.90" font-size="6.9" textLength="13.76" lengthAdjust="spacingAndGlyphs" fill="#55b24e" >IRF7</text>
<text x="136.00" y="481.60" font-size="6.9" textLength="14.47" lengthAdjust="spacingAndGlyphs" fill="#55b24e" >IFI16</text>
<text x="160.00" y="487.60" font-size="6.9" textLength="21.17" lengthAdjust="spacingAndGlyphs" fill="#55b24e" >RSAD2</text>
<text x="298.10" y="402.20" font-size="9.0" text-anchor="middle" textLength="25.80" lengthAdjust="spacingAndGlyphs" stroke="#282828" stroke-width="0.3">T cells</text>
<text x="250.50" y="412.80" font-size="6.8" textLength="93.30" lengthAdjust="spacingAndGlyphs" >AMG 330 vs AMG 330+cGAMP</text>
<line x1="281.50" y1="415.00" x2="281.50" y2="490.50" stroke="#6a6a6a" stroke-width="1.0" />
<line x1="225.50" y1="417.60" x2="225.50" y2="491.00" stroke="#1a1a1a" stroke-width="1.1" />
<line x1="225.00" y1="490.50" x2="376.00" y2="490.50" stroke="#1a1a1a" stroke-width="1.1" />
<line x1="222.30" y1="487.70" x2="225.60" y2="487.70" stroke="#231f20" stroke-width="0.95" />
<text x="219.60" y="489.90" font-size="6.4" text-anchor="end" >0</text>
<line x1="222.30" y1="468.05" x2="225.60" y2="468.05" stroke="#231f20" stroke-width="0.95" />
<text x="219.60" y="470.25" font-size="6.4" text-anchor="end" >25</text>
<line x1="222.30" y1="448.40" x2="225.60" y2="448.40" stroke="#231f20" stroke-width="0.95" />
<text x="219.60" y="450.60" font-size="6.4" text-anchor="end" >50</text>
<line x1="222.30" y1="428.75" x2="225.60" y2="428.75" stroke="#231f20" stroke-width="0.95" />
<text x="219.60" y="430.95" font-size="6.4" text-anchor="end" >75</text>
<line x1="250.95" y1="491.00" x2="250.95" y2="494.00" stroke="#231f20" stroke-width="0.95" />
<text x="250.95" y="502.30" font-size="6.5" text-anchor="middle" >–2.5</text>
<line x1="281.50" y1="491.00" x2="281.50" y2="494.00" stroke="#231f20" stroke-width="0.95" />
<text x="281.50" y="502.30" font-size="6.5" text-anchor="middle" >0.0</text>
<line x1="312.05" y1="491.00" x2="312.05" y2="494.00" stroke="#231f20" stroke-width="0.95" />
<text x="312.05" y="502.30" font-size="6.5" text-anchor="middle" >2.5</text>
<line x1="342.60" y1="491.00" x2="342.60" y2="494.00" stroke="#231f20" stroke-width="0.95" />
<text x="342.60" y="502.30" font-size="6.5" text-anchor="middle" >5.0</text>
<line x1="373.15" y1="491.00" x2="373.15" y2="494.00" stroke="#231f20" stroke-width="0.95" />
<text x="373.15" y="502.30" font-size="6.5" text-anchor="middle" >7.5</text>
<text x="297.70" y="515.80" font-size="9.0" text-anchor="middle" textLength="50.50" lengthAdjust="spacingAndGlyphs" >log2FoldChange</text>
<text x="203.50" y="454.90" font-size="8.2" text-anchor="middle" textLength="39.00" lengthAdjust="spacingAndGlyphs" transform="rotate(-90 203.50 454.90)" >-log10(Padj)</text>
<path d="M247.5,488.4 L247.5,486.2 C262,485.9 280,485.6 290,484.8 C296,484.0 300,483.4 305,483.8 L318,485.2 L318,488.4 Z" fill="#8e84d2" fill-opacity="0.9"/>
<circle cx="290.36" cy="485.78" r="0.80" fill="#8e84d2" />
<circle cx="302.07" cy="485.15" r="0.80" fill="#8e84d2" />
<circle cx="298.31" cy="485.42" r="0.80" fill="#8e84d2" />
<circle cx="249.97" cy="486.20" r="0.80" fill="#8e84d2" />
<circle cx="312.15" cy="483.90" r="0.80" fill="#8e84d2" />
<circle cx="309.26" cy="483.33" r="0.80" fill="#8e84d2" />
<circle cx="279.90" cy="485.87" r="0.80" fill="#8e84d2" />
<circle cx="284.98" cy="485.96" r="0.80" fill="#8e84d2" />
<circle cx="248.89" cy="485.83" r="0.80" fill="#8e84d2" />
<circle cx="267.00" cy="486.87" r="0.80" fill="#8e84d2" />
<circle cx="300.07" cy="484.13" r="0.80" fill="#8e84d2" />
<circle cx="302.21" cy="483.93" r="0.80" fill="#8e84d2" />
<circle cx="289.99" cy="484.89" r="0.80" fill="#8e84d2" />
<circle cx="248.12" cy="486.81" r="0.80" fill="#8e84d2" />
<circle cx="262.24" cy="485.82" r="0.80" fill="#8e84d2" />
<circle cx="314.80" cy="484.02" r="0.80" fill="#8e84d2" />
<circle cx="267.67" cy="486.94" r="0.80" fill="#8e84d2" />
<circle cx="284.67" cy="486.14" r="0.80" fill="#8e84d2" />
<circle cx="261.93" cy="486.91" r="0.80" fill="#8e84d2" />
<circle cx="294.96" cy="485.75" r="0.80" fill="#8e84d2" />
<circle cx="308.77" cy="483.65" r="0.80" fill="#8e84d2" />
<circle cx="272.56" cy="485.75" r="0.80" fill="#8e84d2" />
<circle cx="257.91" cy="485.60" r="0.80" fill="#8e84d2" />
<circle cx="268.49" cy="486.40" r="0.80" fill="#8e84d2" />
<circle cx="248.23" cy="486.52" r="0.80" fill="#8e84d2" />
<circle cx="270.98" cy="485.96" r="0.80" fill="#8e84d2" />
<circle cx="303.66" cy="484.33" r="0.80" fill="#8e84d2" />
<circle cx="269.47" cy="486.22" r="0.80" fill="#8e84d2" />
<circle cx="295.92" cy="484.31" r="0.80" fill="#8e84d2" />
<circle cx="314.31" cy="482.79" r="0.80" fill="#8e84d2" />
<circle cx="298.99" cy="485.25" r="0.80" fill="#8e84d2" />
<circle cx="249.23" cy="486.68" r="0.80" fill="#8e84d2" />
<circle cx="272.90" cy="486.37" r="0.80" fill="#8e84d2" />
<circle cx="248.62" cy="485.57" r="0.80" fill="#8e84d2" />
<circle cx="260.30" cy="486.93" r="0.80" fill="#8e84d2" />
<circle cx="261.36" cy="486.63" r="0.80" fill="#8e84d2" />
<circle cx="311.22" cy="484.42" r="0.80" fill="#8e84d2" />
<circle cx="271.42" cy="486.03" r="0.80" fill="#8e84d2" />
<circle cx="283.68" cy="486.37" r="0.80" fill="#8e84d2" />
<circle cx="255.35" cy="486.62" r="0.80" fill="#8e84d2" />
<circle cx="302.21" cy="485.01" r="0.80" fill="#8e84d2" />
<circle cx="250.49" cy="486.92" r="0.80" fill="#8e84d2" />
<circle cx="254.20" cy="486.01" r="0.80" fill="#8e84d2" />
<circle cx="289.54" cy="486.11" r="0.80" fill="#8e84d2" />
<circle cx="271.12" cy="486.89" r="0.80" fill="#8e84d2" />
<circle cx="285.07" cy="485.56" r="0.80" fill="#8e84d2" />
<circle cx="269.54" cy="485.77" r="0.80" fill="#8e84d2" />
<circle cx="253.32" cy="485.72" r="0.80" fill="#8e84d2" />
<circle cx="294.86" cy="485.81" r="0.80" fill="#8e84d2" />
<circle cx="258.98" cy="485.57" r="0.80" fill="#8e84d2" />
<circle cx="315.10" cy="483.49" r="0.80" fill="#8e84d2" />
<circle cx="275.60" cy="485.86" r="0.80" fill="#8e84d2" />
<circle cx="288.39" cy="486.07" r="0.80" fill="#8e84d2" />
<circle cx="278.99" cy="486.13" r="0.80" fill="#8e84d2" />
<circle cx="251.79" cy="486.87" r="0.80" fill="#8e84d2" />
<circle cx="250.23" cy="486.24" r="0.80" fill="#8e84d2" />
<circle cx="305.01" cy="483.69" r="0.80" fill="#8e84d2" />
<circle cx="297.75" cy="485.50" r="0.80" fill="#8e84d2" />
<circle cx="290.87" cy="485.81" r="0.80" fill="#8e84d2" />
<circle cx="255.25" cy="486.15" r="0.80" fill="#8e84d2" />
<circle cx="258.15" cy="486.77" r="0.80" fill="#8e84d2" />
<circle cx="268.05" cy="486.18" r="0.80" fill="#8e84d2" />
<circle cx="315.95" cy="483.90" r="0.80" fill="#8e84d2" />
<circle cx="314.37" cy="483.43" r="0.80" fill="#8e84d2" />
<circle cx="281.19" cy="486.50" r="0.80" fill="#8e84d2" />
<circle cx="280.57" cy="485.89" r="0.80" fill="#8e84d2" />
<circle cx="275.46" cy="485.72" r="0.80" fill="#8e84d2" />
<circle cx="273.64" cy="486.98" r="0.80" fill="#8e84d2" />
<circle cx="313.27" cy="483.78" r="0.80" fill="#8e84d2" />
<circle cx="281.95" cy="485.85" r="0.80" fill="#8e84d2" />
<circle cx="254.06" cy="485.91" r="0.80" fill="#8e84d2" />
<circle cx="301.18" cy="485.11" r="0.80" fill="#8e84d2" />
<circle cx="272.57" cy="486.68" r="0.80" fill="#8e84d2" />
<circle cx="300.69" cy="484.89" r="0.80" fill="#8e84d2" />
<circle cx="293.15" cy="485.59" r="0.80" fill="#8e84d2" />
<circle cx="272.71" cy="486.56" r="0.80" fill="#8e84d2" />
<circle cx="267.10" cy="486.23" r="0.80" fill="#8e84d2" />
<circle cx="300.34" cy="484.91" r="0.80" fill="#8e84d2" />
<circle cx="267.98" cy="486.92" r="0.80" fill="#8e84d2" />
<circle cx="292.18" cy="485.40" r="0.80" fill="#8e84d2" />
<circle cx="240.20" cy="487.50" r="1.10" fill="#9a90cc" />
<circle cx="343.60" cy="420.70" r="1.20" fill="#0b2d5c" />
<circle cx="325.60" cy="429.00" r="1.20" fill="#0b2d5c" />
<circle cx="320.80" cy="447.40" r="1.20" fill="#0b2d5c" />
<circle cx="336.60" cy="455.20" r="1.20" fill="#0b2d5c" />
<circle cx="326.00" cy="459.80" r="1.20" fill="#0b2d5c" />
<circle cx="329.70" cy="465.00" r="1.20" fill="#0b2d5c" />
<circle cx="347.20" cy="467.00" r="1.20" fill="#0b2d5c" />
<circle cx="366.90" cy="477.60" r="1.20" fill="#0b2d5c" />
<circle cx="316.50" cy="471.00" r="1.20" fill="#0b2d5c" />
<circle cx="323.00" cy="478.00" r="1.20" fill="#0b2d5c" />
<circle cx="331.00" cy="480.00" r="1.20" fill="#0b2d5c" />
<circle cx="340.00" cy="482.00" r="1.20" fill="#0b2d5c" />
<circle cx="350.00" cy="484.00" r="1.20" fill="#0b2d5c" />
<circle cx="356.00" cy="486.00" r="1.20" fill="#0b2d5c" />
<circle cx="345.00" cy="488.00" r="1.20" fill="#0b2d5c" />
<circle cx="335.00" cy="486.00" r="1.20" fill="#0b2d5c" />
<circle cx="327.00" cy="484.00" r="1.20" fill="#0b2d5c" />
<circle cx="311.00" cy="483.00" r="1.20" fill="#0b2d5c" />
<circle cx="306.00" cy="486.00" r="1.20" fill="#0b2d5c" />
<circle cx="318.00" cy="487.00" r="1.20" fill="#0b2d5c" />
<circle cx="359.00" cy="485.00" r="1.20" fill="#0b2d5c" />
<circle cx="353.00" cy="480.00" r="1.20" fill="#0b2d5c" />
<circle cx="320.84" cy="483.17" r="1.20" fill="#0b2d5c" />
<circle cx="306.23" cy="487.37" r="1.20" fill="#0b2d5c" />
<circle cx="300.29" cy="484.27" r="1.20" fill="#0b2d5c" />
<circle cx="340.42" cy="480.69" r="1.20" fill="#0b2d5c" />
<circle cx="324.94" cy="485.24" r="1.20" fill="#0b2d5c" />
<circle cx="301.84" cy="483.22" r="1.20" fill="#0b2d5c" />
<circle cx="331.66" cy="483.84" r="1.20" fill="#0b2d5c" />
<circle cx="332.63" cy="481.34" r="1.20" fill="#0b2d5c" />
<circle cx="308.50" cy="456.90" r="1.40" fill="#e890a8" />
<line x1="269.20" y1="473.80" x2="299.00" y2="485.00" stroke="#c42c4c" stroke-width="0.6" />
<line x1="284.00" y1="466.50" x2="297.00" y2="484.50" stroke="#c42c4c" stroke-width="0.6" />
<line x1="291.00" y1="477.50" x2="298.00" y2="485.00" stroke="#c42c4c" stroke-width="0.6" />
<line x1="306.00" y1="469.50" x2="300.00" y2="484.50" stroke="#c42c4c" stroke-width="0.6" />
<line x1="313.00" y1="478.00" x2="304.00" y2="484.50" stroke="#c42c4c" stroke-width="0.6" />
<line x1="338.50" y1="474.50" x2="322.00" y2="484.80" stroke="#c42c4c" stroke-width="0.6" />
<line x1="266.50" y1="485.50" x2="292.00" y2="486.00" stroke="#c42c4c" stroke-width="0.6" />
<line x1="309.00" y1="458.00" x2="308.60" y2="456.90" stroke="#c42c4c" stroke-width="0.6" />
<text x="295.40" y="454.30" font-size="6.9" textLength="18.34" lengthAdjust="spacingAndGlyphs" fill="#c42c4c" >GZMB</text>
<text x="276.80" y="465.90" font-size="6.9" textLength="15.16" lengthAdjust="spacingAndGlyphs" fill="#c42c4c" >IFNG</text>
<text x="301.50" y="468.80" font-size="6.9" textLength="13.41" lengthAdjust="spacingAndGlyphs" fill="#c42c4c" >IL7R</text>
<text x="252.70" y="475.80" font-size="6.9" textLength="17.28" lengthAdjust="spacingAndGlyphs" fill="#c42c4c" >CCR7</text>
<text x="274.30" y="477.90" font-size="6.9" textLength="17.64" lengthAdjust="spacingAndGlyphs" fill="#c42c4c" >IL2RA</text>
<text x="301.30" y="477.90" font-size="6.9" textLength="25.75" lengthAdjust="spacingAndGlyphs" fill="#c42c4c" >CDKN1A</text>
<text x="338.60" y="476.10" font-size="6.9" textLength="23.29" lengthAdjust="spacingAndGlyphs" fill="#c42c4c" >ZBTB32</text>
<text x="248.00" y="487.80" font-size="6.9" textLength="16.23" lengthAdjust="spacingAndGlyphs" fill="#c42c4c" >CD69</text>
<text x="322.50" y="487.70" font-size="6.9" textLength="16.23" lengthAdjust="spacingAndGlyphs" fill="#c42c4c" >LAG3</text>
<g shape-rendering="crispEdges">
<rect x="406.20" y="49.20" width="4.32" height="2.08" fill="#f5f5f6"/>
<rect x="410.52" y="49.20" width="4.32" height="2.08" fill="#f9d5cc"/>
<rect x="414.83" y="49.20" width="4.32" height="2.08" fill="#f8f5f4"/>
<rect x="419.15" y="49.20" width="4.32" height="2.08" fill="#e03a28"/>
<rect x="423.47" y="49.20" width="4.32" height="2.08" fill="#d22420"/>
<rect x="427.78" y="49.20" width="4.32" height="2.08" fill="#cc1a1c"/>
<rect x="432.10" y="49.20" width="4.32" height="2.08" fill="#f9ece9"/>
<rect x="436.42" y="49.20" width="4.32" height="2.08" fill="#e5eef6"/>
<rect x="440.73" y="49.20" width="4.32" height="2.08" fill="#f8f6f6"/>
<rect x="445.05" y="49.20" width="4.32" height="2.08" fill="#cc1b1c"/>
<rect x="449.37" y="49.20" width="4.32" height="2.08" fill="#ce1d1d"/>
<rect x="453.68" y="49.20" width="4.32" height="2.08" fill="#d72c22"/>
<rect x="406.20" y="51.28" width="4.32" height="2.08" fill="#f9d2c7"/>
<rect x="410.52" y="51.28" width="4.32" height="2.08" fill="#f9d5cc"/>
<rect x="414.83" y="51.28" width="4.32" height="2.08" fill="#f9e9e5"/>
<rect x="419.15" y="51.28" width="4.32" height="2.08" fill="#e23c29"/>
<rect x="423.47" y="51.28" width="4.32" height="2.08" fill="#e64932"/>
<rect x="427.78" y="51.28" width="4.32" height="2.08" fill="#e9563c"/>
<rect x="432.10" y="51.28" width="4.32" height="2.08" fill="#fae4df"/>
<rect x="436.42" y="51.28" width="4.32" height="2.08" fill="#f9e9e6"/>
<rect x="440.73" y="51.28" width="4.32" height="2.08" fill="#e1ecf6"/>
<rect x="445.05" y="51.28" width="4.32" height="2.08" fill="#ed6b50"/>
<rect x="449.37" y="51.28" width="4.32" height="2.08" fill="#ee6d52"/>
<rect x="453.68" y="51.28" width="4.32" height="2.08" fill="#ee6d52"/>
<rect x="406.20" y="53.37" width="4.32" height="2.08" fill="#f9f0ee"/>
<rect x="410.52" y="53.37" width="4.32" height="2.08" fill="#f8f1ef"/>
<rect x="414.83" y="53.37" width="4.32" height="2.08" fill="#f9e9e6"/>
<rect x="419.15" y="53.37" width="4.32" height="2.08" fill="#d62a22"/>
<rect x="423.47" y="53.37" width="4.32" height="2.08" fill="#cc1a1c"/>
<rect x="427.78" y="53.37" width="4.32" height="2.08" fill="#ec6246"/>
<rect x="432.10" y="53.37" width="4.32" height="2.08" fill="#f9ece9"/>
<rect x="436.42" y="53.37" width="4.32" height="2.08" fill="#f9edea"/>
<rect x="440.73" y="53.37" width="4.32" height="2.08" fill="#f8f5f5"/>
<rect x="445.05" y="53.37" width="4.32" height="2.08" fill="#f48f77"/>
<rect x="449.37" y="53.37" width="4.32" height="2.08" fill="#f17e65"/>
<rect x="453.68" y="53.37" width="4.32" height="2.08" fill="#f2846b"/>
<rect x="406.20" y="55.45" width="4.32" height="2.08" fill="#6ca5d9"/>
<rect x="410.52" y="55.45" width="4.32" height="2.08" fill="#69a3d8"/>
<rect x="414.83" y="55.45" width="4.32" height="2.08" fill="#fae0da"/>
<rect x="419.15" y="55.45" width="4.32" height="2.08" fill="#e03a28"/>
<rect x="423.47" y="55.45" width="4.32" height="2.08" fill="#ea593f"/>
<rect x="427.78" y="55.45" width="4.32" height="2.08" fill="#e5422c"/>
<rect x="432.10" y="55.45" width="4.32" height="2.08" fill="#f8f1f0"/>
<rect x="436.42" y="55.45" width="4.32" height="2.08" fill="#f9f0ee"/>
<rect x="440.73" y="55.45" width="4.32" height="2.08" fill="#f9f0ee"/>
<rect x="445.05" y="55.45" width="4.32" height="2.08" fill="#ec6549"/>
<rect x="449.37" y="55.45" width="4.32" height="2.08" fill="#ea5c41"/>
<rect x="453.68" y="55.45" width="4.32" height="2.08" fill="#f2876f"/>
<rect x="406.20" y="57.53" width="4.32" height="2.08" fill="#f9ebe8"/>
<rect x="410.52" y="57.53" width="4.32" height="2.08" fill="#f9ecea"/>
<rect x="414.83" y="57.53" width="4.32" height="2.08" fill="#fae2dd"/>
<rect x="419.15" y="57.53" width="4.32" height="2.08" fill="#eb5e43"/>
<rect x="423.47" y="57.53" width="4.32" height="2.08" fill="#e9563d"/>
<rect x="427.78" y="57.53" width="4.32" height="2.08" fill="#ed694d"/>
<rect x="432.10" y="57.53" width="4.32" height="2.08" fill="#ddeaf6"/>
<rect x="436.42" y="57.53" width="4.32" height="2.08" fill="#f2f4f6"/>
<rect x="440.73" y="57.53" width="4.32" height="2.08" fill="#dceaf6"/>
<rect x="445.05" y="57.53" width="4.32" height="2.08" fill="#f2866d"/>
<rect x="449.37" y="57.53" width="4.32" height="2.08" fill="#ef755a"/>
<rect x="453.68" y="57.53" width="4.32" height="2.08" fill="#f48e76"/>
<rect x="406.20" y="59.62" width="4.32" height="2.08" fill="#f9ebe7"/>
<rect x="410.52" y="59.62" width="4.32" height="2.08" fill="#f8f5f5"/>
<rect x="414.83" y="59.62" width="4.32" height="2.08" fill="#eaf0f6"/>
<rect x="419.15" y="59.62" width="4.32" height="2.08" fill="#e74f37"/>
<rect x="423.47" y="59.62" width="4.32" height="2.08" fill="#ec6247"/>
<rect x="427.78" y="59.62" width="4.32" height="2.08" fill="#e85138"/>
<rect x="432.10" y="59.62" width="4.32" height="2.08" fill="#f8f6f6"/>
<rect x="436.42" y="59.62" width="4.32" height="2.08" fill="#f8f1f0"/>
<rect x="440.73" y="59.62" width="4.32" height="2.08" fill="#fae5e0"/>
<rect x="445.05" y="59.62" width="4.32" height="2.08" fill="#f38c74"/>
<rect x="449.37" y="59.62" width="4.32" height="2.08" fill="#f2876e"/>
<rect x="453.68" y="59.62" width="4.32" height="2.08" fill="#f6ac99"/>
<rect x="406.20" y="61.70" width="4.32" height="2.08" fill="#cbe0f2"/>
<rect x="410.52" y="61.70" width="4.32" height="2.08" fill="#a8cbea"/>
<rect x="414.83" y="61.70" width="4.32" height="2.08" fill="#a7cae9"/>
<rect x="419.15" y="61.70" width="4.32" height="2.08" fill="#e85138"/>
<rect x="423.47" y="61.70" width="4.32" height="2.08" fill="#f4927a"/>
<rect x="427.78" y="61.70" width="4.32" height="2.08" fill="#eb6145"/>
<rect x="432.10" y="61.70" width="4.32" height="2.08" fill="#d6e6f5"/>
<rect x="436.42" y="61.70" width="4.32" height="2.08" fill="#c4dcf1"/>
<rect x="440.73" y="61.70" width="4.32" height="2.08" fill="#e8eff6"/>
<rect x="445.05" y="61.70" width="4.32" height="2.08" fill="#f59c86"/>
<rect x="449.37" y="61.70" width="4.32" height="2.08" fill="#f2866d"/>
<rect x="453.68" y="61.70" width="4.32" height="2.08" fill="#f6ae9b"/>
<rect x="406.20" y="63.79" width="4.32" height="2.08" fill="#9cc3e6"/>
<rect x="410.52" y="63.79" width="4.32" height="2.08" fill="#d0e3f3"/>
<rect x="414.83" y="63.79" width="4.32" height="2.08" fill="#cfe2f3"/>
<rect x="419.15" y="63.79" width="4.32" height="2.08" fill="#ef7257"/>
<rect x="423.47" y="63.79" width="4.32" height="2.08" fill="#ea5c41"/>
<rect x="427.78" y="63.79" width="4.32" height="2.08" fill="#f17d64"/>
<rect x="432.10" y="63.79" width="4.32" height="2.08" fill="#bad6ee"/>
<rect x="436.42" y="63.79" width="4.32" height="2.08" fill="#e0ecf6"/>
<rect x="440.73" y="63.79" width="4.32" height="2.08" fill="#dfebf6"/>
<rect x="445.05" y="63.79" width="4.32" height="2.08" fill="#f2856c"/>
<rect x="449.37" y="63.79" width="4.32" height="2.08" fill="#f48e76"/>
<rect x="453.68" y="63.79" width="4.32" height="2.08" fill="#f38b73"/>
<rect x="406.20" y="65.87" width="4.32" height="2.08" fill="#4f93d1"/>
<rect x="410.52" y="65.87" width="4.32" height="2.08" fill="#6da5d9"/>
<rect x="414.83" y="65.87" width="4.32" height="2.08" fill="#b2d1ec"/>
<rect x="419.15" y="65.87" width="4.32" height="2.08" fill="#ea5b40"/>
<rect x="423.47" y="65.87" width="4.32" height="2.08" fill="#dd3626"/>
<rect x="427.78" y="65.87" width="4.32" height="2.08" fill="#ea5a40"/>
<rect x="432.10" y="65.87" width="4.32" height="2.08" fill="#b8d5ee"/>
<rect x="436.42" y="65.87" width="4.32" height="2.08" fill="#dceaf6"/>
<rect x="440.73" y="65.87" width="4.32" height="2.08" fill="#b2d1ed"/>
<rect x="445.05" y="65.87" width="4.32" height="2.08" fill="#f2886f"/>
<rect x="449.37" y="65.87" width="4.32" height="2.08" fill="#f8bcab"/>
<rect x="453.68" y="65.87" width="4.32" height="2.08" fill="#e74c34"/>
<rect x="406.20" y="67.95" width="4.32" height="2.08" fill="#dae9f6"/>
<rect x="410.52" y="67.95" width="4.32" height="2.08" fill="#d6e6f5"/>
<rect x="414.83" y="67.95" width="4.32" height="2.08" fill="#ecf1f6"/>
<rect x="419.15" y="67.95" width="4.32" height="2.08" fill="#bad6ee"/>
<rect x="423.47" y="67.95" width="4.32" height="2.08" fill="#f8f2f1"/>
<rect x="427.78" y="67.95" width="4.32" height="2.08" fill="#ecf1f6"/>
<rect x="432.10" y="67.95" width="4.32" height="2.08" fill="#e4412b"/>
<rect x="436.42" y="67.95" width="4.32" height="2.08" fill="#e74f36"/>
<rect x="440.73" y="67.95" width="4.32" height="2.08" fill="#e5452e"/>
<rect x="445.05" y="67.95" width="4.32" height="2.08" fill="#e23c29"/>
<rect x="449.37" y="67.95" width="4.32" height="2.08" fill="#e03928"/>
<rect x="453.68" y="67.95" width="4.32" height="2.08" fill="#d82d23"/>
<rect x="406.20" y="70.04" width="4.32" height="2.08" fill="#f2f4f6"/>
<rect x="410.52" y="70.04" width="4.32" height="2.08" fill="#f0f2f6"/>
<rect x="414.83" y="70.04" width="4.32" height="2.08" fill="#f8f5f5"/>
<rect x="419.15" y="70.04" width="4.32" height="2.08" fill="#dfebf6"/>
<rect x="423.47" y="70.04" width="4.32" height="2.08" fill="#bdd8ef"/>
<rect x="427.78" y="70.04" width="4.32" height="2.08" fill="#e7eff6"/>
<rect x="432.10" y="70.04" width="4.32" height="2.08" fill="#ef775d"/>
<rect x="436.42" y="70.04" width="4.32" height="2.08" fill="#ea5a40"/>
<rect x="440.73" y="70.04" width="4.32" height="2.08" fill="#e9573d"/>
<rect x="445.05" y="70.04" width="4.32" height="2.08" fill="#ea5b40"/>
<rect x="449.37" y="70.04" width="4.32" height="2.08" fill="#d52821"/>
<rect x="453.68" y="70.04" width="4.32" height="2.08" fill="#dc3325"/>
<rect x="406.20" y="72.12" width="4.32" height="2.08" fill="#e9f0f6"/>
<rect x="410.52" y="72.12" width="4.32" height="2.08" fill="#e5eef6"/>
<rect x="414.83" y="72.12" width="4.32" height="2.08" fill="#f1f3f6"/>
<rect x="419.15" y="72.12" width="4.32" height="2.08" fill="#e5eef6"/>
<rect x="423.47" y="72.12" width="4.32" height="2.08" fill="#e0ecf6"/>
<rect x="427.78" y="72.12" width="4.32" height="2.08" fill="#ebf0f6"/>
<rect x="432.10" y="72.12" width="4.32" height="2.08" fill="#ea5a40"/>
<rect x="436.42" y="72.12" width="4.32" height="2.08" fill="#e43f2a"/>
<rect x="440.73" y="72.12" width="4.32" height="2.08" fill="#cc1a1c"/>
<rect x="445.05" y="72.12" width="4.32" height="2.08" fill="#d92e24"/>
<rect x="449.37" y="72.12" width="4.32" height="2.08" fill="#e9553b"/>
<rect x="453.68" y="72.12" width="4.32" height="2.08" fill="#dd3426"/>
<rect x="406.20" y="74.20" width="4.32" height="2.08" fill="#ddebf6"/>
<rect x="410.52" y="74.20" width="4.32" height="2.08" fill="#e1ecf6"/>
<rect x="414.83" y="74.20" width="4.32" height="2.08" fill="#e4eef6"/>
<rect x="419.15" y="74.20" width="4.32" height="2.08" fill="#f8f1f0"/>
<rect x="423.47" y="74.20" width="4.32" height="2.08" fill="#5295d2"/>
<rect x="427.78" y="74.20" width="4.32" height="2.08" fill="#e5eef6"/>
<rect x="432.10" y="74.20" width="4.32" height="2.08" fill="#e5432d"/>
<rect x="436.42" y="74.20" width="4.32" height="2.08" fill="#e75037"/>
<rect x="440.73" y="74.20" width="4.32" height="2.08" fill="#da3124"/>
<rect x="445.05" y="74.20" width="4.32" height="2.08" fill="#e33f2a"/>
<rect x="449.37" y="74.20" width="4.32" height="2.08" fill="#dd3526"/>
<rect x="453.68" y="74.20" width="4.32" height="2.08" fill="#e23d29"/>
<rect x="406.20" y="76.29" width="4.32" height="2.08" fill="#e9f0f6"/>
<rect x="410.52" y="76.29" width="4.32" height="2.08" fill="#dae9f6"/>
<rect x="414.83" y="76.29" width="4.32" height="2.08" fill="#f8f2f1"/>
<rect x="419.15" y="76.29" width="4.32" height="2.08" fill="#dae9f6"/>
<rect x="423.47" y="76.29" width="4.32" height="2.08" fill="#5496d3"/>
<rect x="427.78" y="76.29" width="4.32" height="2.08" fill="#f7f6f6"/>
<rect x="432.10" y="76.29" width="4.32" height="2.08" fill="#df3927"/>
<rect x="436.42" y="76.29" width="4.32" height="2.08" fill="#e5432c"/>
<rect x="440.73" y="76.29" width="4.32" height="2.08" fill="#d92e23"/>
<rect x="445.05" y="76.29" width="4.32" height="2.08" fill="#e74b33"/>
<rect x="449.37" y="76.29" width="4.32" height="2.08" fill="#ef7257"/>
<rect x="453.68" y="76.29" width="4.32" height="2.08" fill="#df3827"/>
<rect x="406.20" y="78.37" width="4.32" height="2.08" fill="#eaf0f6"/>
<rect x="410.52" y="78.37" width="4.32" height="2.08" fill="#66a1d7"/>
<rect x="414.83" y="78.37" width="4.32" height="2.08" fill="#f9f0ef"/>
<rect x="419.15" y="78.37" width="4.32" height="2.08" fill="#e0ecf6"/>
<rect x="423.47" y="78.37" width="4.32" height="2.08" fill="#5c9bd5"/>
<rect x="427.78" y="78.37" width="4.32" height="2.08" fill="#5597d3"/>
<rect x="432.10" y="78.37" width="4.32" height="2.08" fill="#dd3526"/>
<rect x="436.42" y="78.37" width="4.32" height="2.08" fill="#e9583e"/>
<rect x="440.73" y="78.37" width="4.32" height="2.08" fill="#d72b22"/>
<rect x="445.05" y="78.37" width="4.32" height="2.08" fill="#d82d23"/>
<rect x="449.37" y="78.37" width="4.32" height="2.08" fill="#e74c34"/>
<rect x="453.68" y="78.37" width="4.32" height="2.08" fill="#e23c29"/>
<rect x="406.20" y="80.45" width="4.32" height="2.08" fill="#f7f5f6"/>
<rect x="410.52" y="80.45" width="4.32" height="2.08" fill="#65a0d7"/>
<rect x="414.83" y="80.45" width="4.32" height="2.08" fill="#f1f3f6"/>
<rect x="419.15" y="80.45" width="4.32" height="2.08" fill="#f1f3f6"/>
<rect x="423.47" y="80.45" width="4.32" height="2.08" fill="#5d9bd5"/>
<rect x="427.78" y="80.45" width="4.32" height="2.08" fill="#5999d4"/>
<rect x="432.10" y="80.45" width="4.32" height="2.08" fill="#f07c62"/>
<rect x="436.42" y="80.45" width="4.32" height="2.08" fill="#ec6347"/>
<rect x="440.73" y="80.45" width="4.32" height="2.08" fill="#f4957e"/>
<rect x="445.05" y="80.45" width="4.32" height="2.08" fill="#ed674b"/>
<rect x="449.37" y="80.45" width="4.32" height="2.08" fill="#f7b5a3"/>
<rect x="453.68" y="80.45" width="4.32" height="2.08" fill="#f18168"/>
<rect x="406.20" y="82.54" width="4.32" height="2.08" fill="#4b91d0"/>
<rect x="410.52" y="82.54" width="4.32" height="2.08" fill="#deebf6"/>
<rect x="414.83" y="82.54" width="4.32" height="2.08" fill="#e6eef6"/>
<rect x="419.15" y="82.54" width="4.32" height="2.08" fill="#edf1f6"/>
<rect x="423.47" y="82.54" width="4.32" height="2.08" fill="#f8f5f4"/>
<rect x="427.78" y="82.54" width="4.32" height="2.08" fill="#d4e5f4"/>
<rect x="432.10" y="82.54" width="4.32" height="2.08" fill="#f2866d"/>
<rect x="436.42" y="82.54" width="4.32" height="2.08" fill="#f2866d"/>
<rect x="440.73" y="82.54" width="4.32" height="2.08" fill="#f17e64"/>
<rect x="445.05" y="82.54" width="4.32" height="2.08" fill="#ea5a40"/>
<rect x="449.37" y="82.54" width="4.32" height="2.08" fill="#f38b73"/>
<rect x="453.68" y="82.54" width="4.32" height="2.08" fill="#f17f65"/>
<rect x="406.20" y="84.62" width="4.32" height="2.08" fill="#4d92d1"/>
<rect x="410.52" y="84.62" width="4.32" height="2.08" fill="#d1e4f4"/>
<rect x="414.83" y="84.62" width="4.32" height="2.08" fill="#eaf0f6"/>
<rect x="419.15" y="84.62" width="4.32" height="2.08" fill="#f0f3f6"/>
<rect x="423.47" y="84.62" width="4.32" height="2.08" fill="#f9ebe8"/>
<rect x="427.78" y="84.62" width="4.32" height="2.08" fill="#e1ecf6"/>
<rect x="432.10" y="84.62" width="4.32" height="2.08" fill="#ef765c"/>
<rect x="436.42" y="84.62" width="4.32" height="2.08" fill="#f17d64"/>
<rect x="440.73" y="84.62" width="4.32" height="2.08" fill="#ee6d52"/>
<rect x="445.05" y="84.62" width="4.32" height="2.08" fill="#ee7056"/>
<rect x="449.37" y="84.62" width="4.32" height="2.08" fill="#f38c73"/>
<rect x="453.68" y="84.62" width="4.32" height="2.08" fill="#ed6a4f"/>
<rect x="406.20" y="86.71" width="4.32" height="2.08" fill="#f4f4f6"/>
<rect x="410.52" y="86.71" width="4.32" height="2.08" fill="#f1f3f6"/>
<rect x="414.83" y="86.71" width="4.32" height="2.08" fill="#ebf0f6"/>
<rect x="419.15" y="86.71" width="4.32" height="2.08" fill="#e8eff6"/>
<rect x="423.47" y="86.71" width="4.32" height="2.08" fill="#ddeaf6"/>
<rect x="427.78" y="86.71" width="4.32" height="2.08" fill="#d3e5f4"/>
<rect x="432.10" y="86.71" width="4.32" height="2.08" fill="#f2866d"/>
<rect x="436.42" y="86.71" width="4.32" height="2.08" fill="#f2866e"/>
<rect x="440.73" y="86.71" width="4.32" height="2.08" fill="#f2866d"/>
<rect x="445.05" y="86.71" width="4.32" height="2.08" fill="#ef7459"/>
<rect x="449.37" y="86.71" width="4.32" height="2.08" fill="#f2866d"/>
<rect x="453.68" y="86.71" width="4.32" height="2.08" fill="#ea5d42"/>
<rect x="406.20" y="88.79" width="4.32" height="2.08" fill="#e8eff6"/>
<rect x="410.52" y="88.79" width="4.32" height="2.08" fill="#e0ecf6"/>
<rect x="414.83" y="88.79" width="4.32" height="2.08" fill="#f8f5f5"/>
<rect x="419.15" y="88.79" width="4.32" height="2.08" fill="#f8f6f6"/>
<rect x="423.47" y="88.79" width="4.32" height="2.08" fill="#d2e4f4"/>
<rect x="427.78" y="88.79" width="4.32" height="2.08" fill="#d2e4f4"/>
<rect x="432.10" y="88.79" width="4.32" height="2.08" fill="#ef765b"/>
<rect x="436.42" y="88.79" width="4.32" height="2.08" fill="#ed684c"/>
<rect x="440.73" y="88.79" width="4.32" height="2.08" fill="#f07c62"/>
<rect x="445.05" y="88.79" width="4.32" height="2.08" fill="#e9543b"/>
<rect x="449.37" y="88.79" width="4.32" height="2.08" fill="#f2876e"/>
<rect x="453.68" y="88.79" width="4.32" height="2.08" fill="#ec6347"/>
<rect x="406.20" y="90.87" width="4.32" height="2.08" fill="#f3f4f6"/>
<rect x="410.52" y="90.87" width="4.32" height="2.08" fill="#e4eef6"/>
<rect x="414.83" y="90.87" width="4.32" height="2.08" fill="#cbe0f2"/>
<rect x="419.15" y="90.87" width="4.32" height="2.08" fill="#5496d3"/>
<rect x="423.47" y="90.87" width="4.32" height="2.08" fill="#f3f4f6"/>
<rect x="427.78" y="90.87" width="4.32" height="2.08" fill="#deebf6"/>
<rect x="432.10" y="90.87" width="4.32" height="2.08" fill="#f17f66"/>
<rect x="436.42" y="90.87" width="4.32" height="2.08" fill="#ef745a"/>
<rect x="440.73" y="90.87" width="4.32" height="2.08" fill="#ef755b"/>
<rect x="445.05" y="90.87" width="4.32" height="2.08" fill="#f07b61"/>
<rect x="449.37" y="90.87" width="4.32" height="2.08" fill="#eb6246"/>
<rect x="453.68" y="90.87" width="4.32" height="2.08" fill="#ed6a4f"/>
<rect x="406.20" y="92.96" width="4.32" height="2.08" fill="#cce1f2"/>
<rect x="410.52" y="92.96" width="4.32" height="2.08" fill="#e7eff6"/>
<rect x="414.83" y="92.96" width="4.32" height="2.08" fill="#deebf6"/>
<rect x="419.15" y="92.96" width="4.32" height="2.08" fill="#4e93d1"/>
<rect x="423.47" y="92.96" width="4.32" height="2.08" fill="#eff2f6"/>
<rect x="427.78" y="92.96" width="4.32" height="2.08" fill="#eaf0f6"/>
<rect x="432.10" y="92.96" width="4.32" height="2.08" fill="#f17e64"/>
<rect x="436.42" y="92.96" width="4.32" height="2.08" fill="#f18067"/>
<rect x="440.73" y="92.96" width="4.32" height="2.08" fill="#f2836a"/>
<rect x="445.05" y="92.96" width="4.32" height="2.08" fill="#ea5a40"/>
<rect x="449.37" y="92.96" width="4.32" height="2.08" fill="#f07b61"/>
<rect x="453.68" y="92.96" width="4.32" height="2.08" fill="#f2836a"/>
<rect x="406.20" y="95.04" width="4.32" height="2.08" fill="#eaf0f6"/>
<rect x="410.52" y="95.04" width="4.32" height="2.08" fill="#edf1f6"/>
<rect x="414.83" y="95.04" width="4.32" height="2.08" fill="#5798d3"/>
<rect x="419.15" y="95.04" width="4.32" height="2.08" fill="#d2e4f4"/>
<rect x="423.47" y="95.04" width="4.32" height="2.08" fill="#f3f4f6"/>
<rect x="427.78" y="95.04" width="4.32" height="2.08" fill="#f1f3f6"/>
<rect x="432.10" y="95.04" width="4.32" height="2.08" fill="#f9c9bc"/>
<rect x="436.42" y="95.04" width="4.32" height="2.08" fill="#f7b5a4"/>
<rect x="440.73" y="95.04" width="4.32" height="2.08" fill="#f17d64"/>
<rect x="445.05" y="95.04" width="4.32" height="2.08" fill="#f6ac98"/>
<rect x="449.37" y="95.04" width="4.32" height="2.08" fill="#f8bcab"/>
<rect x="453.68" y="95.04" width="4.32" height="2.08" fill="#f48f77"/>
<rect x="406.20" y="97.12" width="4.32" height="2.08" fill="#ddebf6"/>
<rect x="410.52" y="97.12" width="4.32" height="2.08" fill="#eef2f6"/>
<rect x="414.83" y="97.12" width="4.32" height="2.08" fill="#639fd7"/>
<rect x="419.15" y="97.12" width="4.32" height="2.08" fill="#f6f5f6"/>
<rect x="423.47" y="97.12" width="4.32" height="2.08" fill="#ebf0f6"/>
<rect x="427.78" y="97.12" width="4.32" height="2.08" fill="#dae9f6"/>
<rect x="432.10" y="97.12" width="4.32" height="2.08" fill="#f7af9c"/>
<rect x="436.42" y="97.12" width="4.32" height="2.08" fill="#f4957e"/>
<rect x="440.73" y="97.12" width="4.32" height="2.08" fill="#f7b09d"/>
<rect x="445.05" y="97.12" width="4.32" height="2.08" fill="#f48e75"/>
<rect x="449.37" y="97.12" width="4.32" height="2.08" fill="#f6a691"/>
<rect x="453.68" y="97.12" width="4.32" height="2.08" fill="#f4947c"/>
<rect x="406.20" y="99.21" width="4.32" height="2.08" fill="#4a90d0"/>
<rect x="410.52" y="99.21" width="4.32" height="2.08" fill="#5999d4"/>
<rect x="414.83" y="99.21" width="4.32" height="2.08" fill="#c2dbf0"/>
<rect x="419.15" y="99.21" width="4.32" height="2.08" fill="#dae9f6"/>
<rect x="423.47" y="99.21" width="4.32" height="2.08" fill="#5396d2"/>
<rect x="427.78" y="99.21" width="4.32" height="2.08" fill="#5596d3"/>
<rect x="432.10" y="99.21" width="4.32" height="2.08" fill="#f5a18c"/>
<rect x="436.42" y="99.21" width="4.32" height="2.08" fill="#f9cabd"/>
<rect x="440.73" y="99.21" width="4.32" height="2.08" fill="#f6a48f"/>
<rect x="445.05" y="99.21" width="4.32" height="2.08" fill="#f59881"/>
<rect x="449.37" y="99.21" width="4.32" height="2.08" fill="#f7b4a2"/>
<rect x="453.68" y="99.21" width="4.32" height="2.08" fill="#f59e89"/>
<rect x="406.20" y="101.29" width="4.32" height="2.08" fill="#478ece"/>
<rect x="410.52" y="101.29" width="4.32" height="2.08" fill="#5b9bd5"/>
<rect x="414.83" y="101.29" width="4.32" height="2.08" fill="#d0e3f3"/>
<rect x="419.15" y="101.29" width="4.32" height="2.08" fill="#c9dff2"/>
<rect x="423.47" y="101.29" width="4.32" height="2.08" fill="#5697d3"/>
<rect x="427.78" y="101.29" width="4.32" height="2.08" fill="#5194d2"/>
<rect x="432.10" y="101.29" width="4.32" height="2.08" fill="#f5a18c"/>
<rect x="436.42" y="101.29" width="4.32" height="2.08" fill="#f6ab98"/>
<rect x="440.73" y="101.29" width="4.32" height="2.08" fill="#f38970"/>
<rect x="445.05" y="101.29" width="4.32" height="2.08" fill="#f38d75"/>
<rect x="449.37" y="101.29" width="4.32" height="2.08" fill="#f4957e"/>
<rect x="453.68" y="101.29" width="4.32" height="2.08" fill="#f5a18c"/>
<rect x="406.20" y="103.38" width="4.32" height="2.08" fill="#ddebf6"/>
<rect x="410.52" y="103.38" width="4.32" height="2.08" fill="#ddeaf6"/>
<rect x="414.83" y="103.38" width="4.32" height="2.08" fill="#4f93d1"/>
<rect x="419.15" y="103.38" width="4.32" height="2.08" fill="#d0e3f3"/>
<rect x="423.47" y="103.38" width="4.32" height="2.08" fill="#4b91d0"/>
<rect x="427.78" y="103.38" width="4.32" height="2.08" fill="#5d9bd5"/>
<rect x="432.10" y="103.38" width="4.32" height="2.08" fill="#f9ece9"/>
<rect x="436.42" y="103.38" width="4.32" height="2.08" fill="#f6f5f6"/>
<rect x="440.73" y="103.38" width="4.32" height="2.08" fill="#f9ecea"/>
<rect x="445.05" y="103.38" width="4.32" height="2.08" fill="#f8f3f2"/>
<rect x="449.37" y="103.38" width="4.32" height="2.08" fill="#f8f6f6"/>
<rect x="453.68" y="103.38" width="4.32" height="2.08" fill="#f9d2c8"/>
<rect x="406.20" y="105.46" width="4.32" height="2.08" fill="#dbeaf6"/>
<rect x="410.52" y="105.46" width="4.32" height="2.08" fill="#d5e6f4"/>
<rect x="414.83" y="105.46" width="4.32" height="2.08" fill="#4c91d1"/>
<rect x="419.15" y="105.46" width="4.32" height="2.08" fill="#ddebf6"/>
<rect x="423.47" y="105.46" width="4.32" height="2.08" fill="#4d92d1"/>
<rect x="427.78" y="105.46" width="4.32" height="2.08" fill="#5b9ad4"/>
<rect x="432.10" y="105.46" width="4.32" height="2.08" fill="#f1f3f6"/>
<rect x="436.42" y="105.46" width="4.32" height="2.08" fill="#fae4e0"/>
<rect x="440.73" y="105.46" width="4.32" height="2.08" fill="#f8f6f6"/>
<rect x="445.05" y="105.46" width="4.32" height="2.08" fill="#f4f4f6"/>
<rect x="449.37" y="105.46" width="4.32" height="2.08" fill="#fae5e0"/>
<rect x="453.68" y="105.46" width="4.32" height="2.08" fill="#f3f4f6"/>
<rect x="406.20" y="107.54" width="4.32" height="2.08" fill="#5396d2"/>
<rect x="410.52" y="107.54" width="4.32" height="2.08" fill="#cde1f3"/>
<rect x="414.83" y="107.54" width="4.32" height="2.08" fill="#d8e8f5"/>
<rect x="419.15" y="107.54" width="4.32" height="2.08" fill="#d6e7f5"/>
<rect x="423.47" y="107.54" width="4.32" height="2.08" fill="#5596d3"/>
<rect x="427.78" y="107.54" width="4.32" height="2.08" fill="#5094d2"/>
<rect x="432.10" y="107.54" width="4.32" height="2.08" fill="#f8f5f5"/>
<rect x="436.42" y="107.54" width="4.32" height="2.08" fill="#f2856c"/>
<rect x="440.73" y="107.54" width="4.32" height="2.08" fill="#fae4e0"/>
<rect x="445.05" y="107.54" width="4.32" height="2.08" fill="#faded8"/>
<rect x="449.37" y="107.54" width="4.32" height="2.08" fill="#ee6f54"/>
<rect x="453.68" y="107.54" width="4.32" height="2.08" fill="#f9ebe8"/>
<rect x="406.20" y="109.63" width="4.32" height="2.08" fill="#5194d2"/>
<rect x="410.52" y="109.63" width="4.32" height="2.08" fill="#e8eff6"/>
<rect x="414.83" y="109.63" width="4.32" height="2.08" fill="#d9e8f5"/>
<rect x="419.15" y="109.63" width="4.32" height="2.08" fill="#e6eef6"/>
<rect x="423.47" y="109.63" width="4.32" height="2.08" fill="#5496d3"/>
<rect x="427.78" y="109.63" width="4.32" height="2.08" fill="#4c91d0"/>
<rect x="432.10" y="109.63" width="4.32" height="2.08" fill="#f9efed"/>
<rect x="436.42" y="109.63" width="4.32" height="2.08" fill="#f2856c"/>
<rect x="440.73" y="109.63" width="4.32" height="2.08" fill="#f8f6f6"/>
<rect x="445.05" y="109.63" width="4.32" height="2.08" fill="#f7f6f6"/>
<rect x="449.37" y="109.63" width="4.32" height="2.08" fill="#ee6f54"/>
<rect x="453.68" y="109.63" width="4.32" height="2.08" fill="#f9e7e3"/>
<rect x="406.20" y="111.71" width="4.32" height="2.08" fill="#5295d2"/>
<rect x="410.52" y="111.71" width="4.32" height="2.08" fill="#e5eef6"/>
<rect x="414.83" y="111.71" width="4.32" height="2.08" fill="#4a90d0"/>
<rect x="419.15" y="111.71" width="4.32" height="2.08" fill="#e0ecf6"/>
<rect x="423.47" y="111.71" width="4.32" height="2.08" fill="#e7eff6"/>
<rect x="427.78" y="111.71" width="4.32" height="2.08" fill="#e6eef6"/>
<rect x="432.10" y="111.71" width="4.32" height="2.08" fill="#f9ece9"/>
<rect x="436.42" y="111.71" width="4.32" height="2.08" fill="#f9e7e3"/>
<rect x="440.73" y="111.71" width="4.32" height="2.08" fill="#f9f0ee"/>
<rect x="445.05" y="111.71" width="4.32" height="2.08" fill="#f8f6f6"/>
<rect x="449.37" y="111.71" width="4.32" height="2.08" fill="#f9e9e6"/>
<rect x="453.68" y="111.71" width="4.32" height="2.08" fill="#fae5e0"/>
<rect x="406.20" y="113.79" width="4.32" height="2.08" fill="#5396d2"/>
<rect x="410.52" y="113.79" width="4.32" height="2.08" fill="#e8eff6"/>
<rect x="414.83" y="113.79" width="4.32" height="2.08" fill="#498fcf"/>
<rect x="419.15" y="113.79" width="4.32" height="2.08" fill="#d7e7f5"/>
<rect x="423.47" y="113.79" width="4.32" height="2.08" fill="#cbe0f2"/>
<rect x="427.78" y="113.79" width="4.32" height="2.08" fill="#dbeaf6"/>
<rect x="432.10" y="113.79" width="4.32" height="2.08" fill="#f8f4f3"/>
<rect x="436.42" y="113.79" width="4.32" height="2.08" fill="#f9ecea"/>
<rect x="440.73" y="113.79" width="4.32" height="2.08" fill="#faded7"/>
<rect x="445.05" y="113.79" width="4.32" height="2.08" fill="#f7f5f6"/>
<rect x="449.37" y="113.79" width="4.32" height="2.08" fill="#f9f0ef"/>
<rect x="453.68" y="113.79" width="4.32" height="2.08" fill="#fae1db"/>
<rect x="406.20" y="115.88" width="4.32" height="2.08" fill="#f0f3f6"/>
<rect x="410.52" y="115.88" width="4.32" height="2.08" fill="#deebf6"/>
<rect x="414.83" y="115.88" width="4.32" height="2.08" fill="#5999d4"/>
<rect x="419.15" y="115.88" width="4.32" height="2.08" fill="#e6eef6"/>
<rect x="423.47" y="115.88" width="4.32" height="2.08" fill="#5496d3"/>
<rect x="427.78" y="115.88" width="4.32" height="2.08" fill="#dae9f5"/>
<rect x="432.10" y="115.88" width="4.32" height="2.08" fill="#fad8d0"/>
<rect x="436.42" y="115.88" width="4.32" height="2.08" fill="#f8beae"/>
<rect x="440.73" y="115.88" width="4.32" height="2.08" fill="#f9d7ce"/>
<rect x="445.05" y="115.88" width="4.32" height="2.08" fill="#f9ccc0"/>
<rect x="449.37" y="115.88" width="4.32" height="2.08" fill="#f7b3a1"/>
<rect x="453.68" y="115.88" width="4.32" height="2.08" fill="#f9ccc0"/>
<rect x="406.20" y="117.96" width="4.32" height="2.08" fill="#e2ecf6"/>
<rect x="410.52" y="117.96" width="4.32" height="2.08" fill="#e4edf6"/>
<rect x="414.83" y="117.96" width="4.32" height="2.08" fill="#639fd6"/>
<rect x="419.15" y="117.96" width="4.32" height="2.08" fill="#e4edf6"/>
<rect x="423.47" y="117.96" width="4.32" height="2.08" fill="#5c9bd5"/>
<rect x="427.78" y="117.96" width="4.32" height="2.08" fill="#cbe0f2"/>
<rect x="432.10" y="117.96" width="4.32" height="2.08" fill="#f9d2c7"/>
<rect x="436.42" y="117.96" width="4.32" height="2.08" fill="#f9d0c5"/>
<rect x="440.73" y="117.96" width="4.32" height="2.08" fill="#f8c3b4"/>
<rect x="445.05" y="117.96" width="4.32" height="2.08" fill="#f8c0b0"/>
<rect x="449.37" y="117.96" width="4.32" height="2.08" fill="#f9ccc0"/>
<rect x="453.68" y="117.96" width="4.32" height="2.08" fill="#f6aa97"/>
<rect x="406.20" y="120.04" width="4.32" height="2.08" fill="#5e9cd5"/>
<rect x="410.52" y="120.04" width="4.32" height="2.08" fill="#e0ecf6"/>
<rect x="414.83" y="120.04" width="4.32" height="2.08" fill="#5194d2"/>
<rect x="419.15" y="120.04" width="4.32" height="2.08" fill="#e1ecf6"/>
<rect x="423.47" y="120.04" width="4.32" height="2.08" fill="#4e92d1"/>
<rect x="427.78" y="120.04" width="4.32" height="2.08" fill="#e0ecf6"/>
<rect x="432.10" y="120.04" width="4.32" height="2.08" fill="#f9cbbe"/>
<rect x="436.42" y="120.04" width="4.32" height="2.08" fill="#f9cbbf"/>
<rect x="440.73" y="120.04" width="4.32" height="2.08" fill="#f8beae"/>
<rect x="445.05" y="120.04" width="4.32" height="2.08" fill="#fae3de"/>
<rect x="449.37" y="120.04" width="4.32" height="2.08" fill="#f8c8ba"/>
<rect x="453.68" y="120.04" width="4.32" height="2.08" fill="#f9d0c5"/>
<rect x="406.20" y="122.13" width="4.32" height="2.08" fill="#5a9ad4"/>
<rect x="410.52" y="122.13" width="4.32" height="2.08" fill="#f2f4f6"/>
<rect x="414.83" y="122.13" width="4.32" height="2.08" fill="#5295d2"/>
<rect x="419.15" y="122.13" width="4.32" height="2.08" fill="#e6eef6"/>
<rect x="423.47" y="122.13" width="4.32" height="2.08" fill="#4a90d0"/>
<rect x="427.78" y="122.13" width="4.32" height="2.08" fill="#e4eef6"/>
<rect x="432.10" y="122.13" width="4.32" height="2.08" fill="#fad9d1"/>
<rect x="436.42" y="122.13" width="4.32" height="2.08" fill="#f9cfc4"/>
<rect x="440.73" y="122.13" width="4.32" height="2.08" fill="#f9c9bb"/>
<rect x="445.05" y="122.13" width="4.32" height="2.08" fill="#f59f8a"/>
<rect x="449.37" y="122.13" width="4.32" height="2.08" fill="#fad9d0"/>
<rect x="453.68" y="122.13" width="4.32" height="2.08" fill="#f6a995"/>
<rect x="406.20" y="124.21" width="4.32" height="2.08" fill="#f2f4f6"/>
<rect x="410.52" y="124.21" width="4.32" height="2.08" fill="#5597d3"/>
<rect x="414.83" y="124.21" width="4.32" height="2.08" fill="#5194d2"/>
<rect x="419.15" y="124.21" width="4.32" height="2.08" fill="#eef2f6"/>
<rect x="423.47" y="124.21" width="4.32" height="2.08" fill="#d5e6f4"/>
<rect x="427.78" y="124.21" width="4.32" height="2.08" fill="#5496d3"/>
<rect x="432.10" y="124.21" width="4.32" height="2.08" fill="#f7b9a8"/>
<rect x="436.42" y="124.21" width="4.32" height="2.08" fill="#f9cbbf"/>
<rect x="440.73" y="124.21" width="4.32" height="2.08" fill="#f8c2b3"/>
<rect x="445.05" y="124.21" width="4.32" height="2.08" fill="#f7b5a3"/>
<rect x="449.37" y="124.21" width="4.32" height="2.08" fill="#f8c1b2"/>
<rect x="453.68" y="124.21" width="4.32" height="2.08" fill="#f6a996"/>
<rect x="406.20" y="126.30" width="4.32" height="2.08" fill="#dbe9f6"/>
<rect x="410.52" y="126.30" width="4.32" height="2.08" fill="#5d9bd5"/>
<rect x="414.83" y="126.30" width="4.32" height="2.08" fill="#5898d4"/>
<rect x="419.15" y="126.30" width="4.32" height="2.08" fill="#d7e7f5"/>
<rect x="423.47" y="126.30" width="4.32" height="2.08" fill="#d1e3f3"/>
<rect x="427.78" y="126.30" width="4.32" height="2.08" fill="#5295d2"/>
<rect x="432.10" y="126.30" width="4.32" height="2.08" fill="#f5a18c"/>
<rect x="436.42" y="126.30" width="4.32" height="2.08" fill="#f8c6b8"/>
<rect x="440.73" y="126.30" width="4.32" height="2.08" fill="#f8c1b2"/>
<rect x="445.05" y="126.30" width="4.32" height="2.08" fill="#f8bdad"/>
<rect x="449.37" y="126.30" width="4.32" height="2.08" fill="#f9cdc0"/>
<rect x="453.68" y="126.30" width="4.32" height="2.08" fill="#f6a995"/>
<rect x="406.20" y="128.38" width="4.32" height="2.08" fill="#4a90d0"/>
<rect x="410.52" y="128.38" width="4.32" height="2.08" fill="#4d92d1"/>
<rect x="414.83" y="128.38" width="4.32" height="2.08" fill="#dceaf6"/>
<rect x="419.15" y="128.38" width="4.32" height="2.08" fill="#468ccc"/>
<rect x="423.47" y="128.38" width="4.32" height="2.08" fill="#f5f5f6"/>
<rect x="427.78" y="128.38" width="4.32" height="2.08" fill="#ddeaf6"/>
<rect x="432.10" y="128.38" width="4.32" height="2.08" fill="#f7baa9"/>
<rect x="436.42" y="128.38" width="4.32" height="2.08" fill="#f6aa96"/>
<rect x="440.73" y="128.38" width="4.32" height="2.08" fill="#f8c4b5"/>
<rect x="445.05" y="128.38" width="4.32" height="2.08" fill="#f6ab98"/>
<rect x="449.37" y="128.38" width="4.32" height="2.08" fill="#f8c8ba"/>
<rect x="453.68" y="128.38" width="4.32" height="2.08" fill="#f8bfae"/>
<rect x="406.20" y="130.46" width="4.32" height="2.08" fill="#4f93d1"/>
<rect x="410.52" y="130.46" width="4.32" height="2.08" fill="#5295d2"/>
<rect x="414.83" y="130.46" width="4.32" height="2.08" fill="#cfe3f3"/>
<rect x="419.15" y="130.46" width="4.32" height="2.08" fill="#4a90d0"/>
<rect x="423.47" y="130.46" width="4.32" height="2.08" fill="#ddeaf6"/>
<rect x="427.78" y="130.46" width="4.32" height="2.08" fill="#ebf0f6"/>
<rect x="432.10" y="130.46" width="4.32" height="2.08" fill="#fae4e0"/>
<rect x="436.42" y="130.46" width="4.32" height="2.08" fill="#f7b4a3"/>
<rect x="440.73" y="130.46" width="4.32" height="2.08" fill="#f9e8e4"/>
<rect x="445.05" y="130.46" width="4.32" height="2.08" fill="#fadfd8"/>
<rect x="449.37" y="130.46" width="4.32" height="2.08" fill="#fae2dd"/>
<rect x="453.68" y="130.46" width="4.32" height="2.08" fill="#f8bdac"/>
<rect x="406.20" y="132.55" width="4.32" height="2.08" fill="#dceaf6"/>
<rect x="410.52" y="132.55" width="4.32" height="2.08" fill="#dae9f6"/>
<rect x="414.83" y="132.55" width="4.32" height="2.08" fill="#4b91d0"/>
<rect x="419.15" y="132.55" width="4.32" height="2.08" fill="#e1ecf6"/>
<rect x="423.47" y="132.55" width="4.32" height="2.08" fill="#d3e5f4"/>
<rect x="427.78" y="132.55" width="4.32" height="2.08" fill="#cce1f2"/>
<rect x="432.10" y="132.55" width="4.32" height="2.08" fill="#f9e9e5"/>
<rect x="436.42" y="132.55" width="4.32" height="2.08" fill="#f8c5b6"/>
<rect x="440.73" y="132.55" width="4.32" height="2.08" fill="#fadbd3"/>
<rect x="445.05" y="132.55" width="4.32" height="2.08" fill="#fad9d1"/>
<rect x="449.37" y="132.55" width="4.32" height="2.08" fill="#f9d4ca"/>
<rect x="453.68" y="132.55" width="4.32" height="2.08" fill="#f9cdc1"/>
<rect x="406.20" y="134.63" width="4.32" height="2.08" fill="#e0ecf6"/>
<rect x="410.52" y="134.63" width="4.32" height="2.08" fill="#e0ecf6"/>
<rect x="414.83" y="134.63" width="4.32" height="2.08" fill="#4c91d0"/>
<rect x="419.15" y="134.63" width="4.32" height="2.08" fill="#e3edf6"/>
<rect x="423.47" y="134.63" width="4.32" height="2.08" fill="#c5dcf1"/>
<rect x="427.78" y="134.63" width="4.32" height="2.08" fill="#ddebf6"/>
<rect x="432.10" y="134.63" width="4.32" height="2.08" fill="#fae3de"/>
<rect x="436.42" y="134.63" width="4.32" height="2.08" fill="#f9e7e2"/>
<rect x="440.73" y="134.63" width="4.32" height="2.08" fill="#f9cfc4"/>
<rect x="445.05" y="134.63" width="4.32" height="2.08" fill="#fae2dc"/>
<rect x="449.37" y="134.63" width="4.32" height="2.08" fill="#faddd6"/>
<rect x="453.68" y="134.63" width="4.32" height="2.08" fill="#f8c8ba"/>
<rect x="406.20" y="136.71" width="4.32" height="2.08" fill="#488ece"/>
<rect x="410.52" y="136.71" width="4.32" height="2.08" fill="#d7e7f5"/>
<rect x="414.83" y="136.71" width="4.32" height="2.08" fill="#4d92d1"/>
<rect x="419.15" y="136.71" width="4.32" height="2.08" fill="#accdeb"/>
<rect x="423.47" y="136.71" width="4.32" height="2.08" fill="#dbe9f6"/>
<rect x="427.78" y="136.71" width="4.32" height="2.08" fill="#bfd9f0"/>
<rect x="432.10" y="136.71" width="4.32" height="2.08" fill="#f9d8cf"/>
<rect x="436.42" y="136.71" width="4.32" height="2.08" fill="#f9d7ce"/>
<rect x="440.73" y="136.71" width="4.32" height="2.08" fill="#fadcd5"/>
<rect x="445.05" y="136.71" width="4.32" height="2.08" fill="#f9c9bc"/>
<rect x="449.37" y="136.71" width="4.32" height="2.08" fill="#fad9d1"/>
<rect x="453.68" y="136.71" width="4.32" height="2.08" fill="#fadbd4"/>
<rect x="406.20" y="138.80" width="4.32" height="2.08" fill="#468ccc"/>
<rect x="410.52" y="138.80" width="4.32" height="2.08" fill="#e1ecf6"/>
<rect x="414.83" y="138.80" width="4.32" height="2.08" fill="#4d92d1"/>
<rect x="419.15" y="138.80" width="4.32" height="2.08" fill="#b9d6ee"/>
<rect x="423.47" y="138.80" width="4.32" height="2.08" fill="#cee2f3"/>
<rect x="427.78" y="138.80" width="4.32" height="2.08" fill="#d0e3f3"/>
<rect x="432.10" y="138.80" width="4.32" height="2.08" fill="#f9d2c8"/>
<rect x="436.42" y="138.80" width="4.32" height="2.08" fill="#f9efed"/>
<rect x="440.73" y="138.80" width="4.32" height="2.08" fill="#fae2dc"/>
<rect x="445.05" y="138.80" width="4.32" height="2.08" fill="#fad9d1"/>
<rect x="449.37" y="138.80" width="4.32" height="2.08" fill="#faded7"/>
<rect x="453.68" y="138.80" width="4.32" height="2.08" fill="#f9d5cc"/>
<rect x="406.20" y="140.88" width="4.32" height="2.08" fill="#cbe0f2"/>
<rect x="410.52" y="140.88" width="4.32" height="2.08" fill="#a9ccea"/>
<rect x="414.83" y="140.88" width="4.32" height="2.08" fill="#bdd8ef"/>
<rect x="419.15" y="140.88" width="4.32" height="2.08" fill="#d3e5f4"/>
<rect x="423.47" y="140.88" width="4.32" height="2.08" fill="#488ece"/>
<rect x="427.78" y="140.88" width="4.32" height="2.08" fill="#cde1f3"/>
<rect x="432.10" y="140.88" width="4.32" height="2.08" fill="#f8c2b2"/>
<rect x="436.42" y="140.88" width="4.32" height="2.08" fill="#fadcd5"/>
<rect x="440.73" y="140.88" width="4.32" height="2.08" fill="#f9d3c9"/>
<rect x="445.05" y="140.88" width="4.32" height="2.08" fill="#f9cfc4"/>
<rect x="449.37" y="140.88" width="4.32" height="2.08" fill="#f9d5cb"/>
<rect x="453.68" y="140.88" width="4.32" height="2.08" fill="#f8c2b2"/>
<rect x="406.20" y="142.96" width="4.32" height="2.08" fill="#d1e3f3"/>
<rect x="410.52" y="142.96" width="4.32" height="2.08" fill="#c8def2"/>
<rect x="414.83" y="142.96" width="4.32" height="2.08" fill="#e2ecf6"/>
<rect x="419.15" y="142.96" width="4.32" height="2.08" fill="#cfe2f3"/>
<rect x="423.47" y="142.96" width="4.32" height="2.08" fill="#438aca"/>
<rect x="427.78" y="142.96" width="4.32" height="2.08" fill="#d7e7f5"/>
<rect x="432.10" y="142.96" width="4.32" height="2.08" fill="#f9cdc2"/>
<rect x="436.42" y="142.96" width="4.32" height="2.08" fill="#f9d7ce"/>
<rect x="440.73" y="142.96" width="4.32" height="2.08" fill="#f8c6b8"/>
<rect x="445.05" y="142.96" width="4.32" height="2.08" fill="#fae0da"/>
<rect x="449.37" y="142.96" width="4.32" height="2.08" fill="#fae5e0"/>
<rect x="453.68" y="142.96" width="4.32" height="2.08" fill="#fadcd5"/>
<rect x="406.20" y="145.05" width="4.32" height="2.08" fill="#4c91d0"/>
<rect x="410.52" y="145.05" width="4.32" height="2.08" fill="#478dcd"/>
<rect x="414.83" y="145.05" width="4.32" height="2.08" fill="#488ece"/>
<rect x="419.15" y="145.05" width="4.32" height="2.08" fill="#5798d3"/>
<rect x="423.47" y="145.05" width="4.32" height="2.08" fill="#468ccc"/>
<rect x="427.78" y="145.05" width="4.32" height="2.08" fill="#448bcb"/>
<rect x="432.10" y="145.05" width="4.32" height="2.08" fill="#fae1db"/>
<rect x="436.42" y="145.05" width="4.32" height="2.08" fill="#f9ece9"/>
<rect x="440.73" y="145.05" width="4.32" height="2.08" fill="#faded7"/>
<rect x="445.05" y="145.05" width="4.32" height="2.08" fill="#f9e9e5"/>
<rect x="449.37" y="145.05" width="4.32" height="2.08" fill="#f8f6f6"/>
<rect x="453.68" y="145.05" width="4.32" height="2.08" fill="#f9edeb"/>
<rect x="406.20" y="147.13" width="4.32" height="2.08" fill="#468dcd"/>
<rect x="410.52" y="147.13" width="4.32" height="2.08" fill="#468ccc"/>
<rect x="414.83" y="147.13" width="4.32" height="2.08" fill="#488ece"/>
<rect x="419.15" y="147.13" width="4.32" height="2.08" fill="#5798d3"/>
<rect x="423.47" y="147.13" width="4.32" height="2.08" fill="#488ece"/>
<rect x="427.78" y="147.13" width="4.32" height="2.08" fill="#468ccc"/>
<rect x="432.10" y="147.13" width="4.32" height="2.08" fill="#f9d2c8"/>
<rect x="436.42" y="147.13" width="4.32" height="2.08" fill="#f9eae7"/>
<rect x="440.73" y="147.13" width="4.32" height="2.08" fill="#f9eae7"/>
<rect x="445.05" y="147.13" width="4.32" height="2.08" fill="#f9d2c7"/>
<rect x="449.37" y="147.13" width="4.32" height="2.08" fill="#fae5e1"/>
<rect x="453.68" y="147.13" width="4.32" height="2.08" fill="#f9eeec"/>
<rect x="406.20" y="149.22" width="4.32" height="2.08" fill="#498fcf"/>
<rect x="410.52" y="149.22" width="4.32" height="2.08" fill="#478dcd"/>
<rect x="414.83" y="149.22" width="4.32" height="2.08" fill="#458ccc"/>
<rect x="419.15" y="149.22" width="4.32" height="2.08" fill="#bcd7ef"/>
<rect x="423.47" y="149.22" width="4.32" height="2.08" fill="#4e93d1"/>
<rect x="427.78" y="149.22" width="4.32" height="2.08" fill="#4a90d0"/>
<rect x="432.10" y="149.22" width="4.32" height="2.08" fill="#f9eeec"/>
<rect x="436.42" y="149.22" width="4.32" height="2.08" fill="#fadad2"/>
<rect x="440.73" y="149.22" width="4.32" height="2.08" fill="#faded7"/>
<rect x="445.05" y="149.22" width="4.32" height="2.08" fill="#f9d6cd"/>
<rect x="449.37" y="149.22" width="4.32" height="2.08" fill="#f9e6e1"/>
<rect x="453.68" y="149.22" width="4.32" height="2.08" fill="#f9d3c9"/>
<rect x="406.20" y="151.30" width="4.32" height="2.08" fill="#498fcf"/>
<rect x="410.52" y="151.30" width="4.32" height="2.08" fill="#478ece"/>
<rect x="414.83" y="151.30" width="4.32" height="2.08" fill="#458ccc"/>
<rect x="419.15" y="151.30" width="4.32" height="2.08" fill="#c0daf0"/>
<rect x="423.47" y="151.30" width="4.32" height="2.08" fill="#4f93d1"/>
<rect x="427.78" y="151.30" width="4.32" height="2.08" fill="#4d92d1"/>
<rect x="432.10" y="151.30" width="4.32" height="2.08" fill="#f9eeec"/>
<rect x="436.42" y="151.30" width="4.32" height="2.08" fill="#f9ebe8"/>
<rect x="440.73" y="151.30" width="4.32" height="2.08" fill="#f8f1ef"/>
<rect x="445.05" y="151.30" width="4.32" height="2.08" fill="#fadbd4"/>
<rect x="449.37" y="151.30" width="4.32" height="2.08" fill="#f9ebe8"/>
<rect x="453.68" y="151.30" width="4.32" height="2.08" fill="#f8f4f4"/>
<rect x="406.20" y="153.38" width="4.32" height="2.08" fill="#4a90d0"/>
<rect x="410.52" y="153.38" width="4.32" height="2.08" fill="#438aca"/>
<rect x="414.83" y="153.38" width="4.32" height="2.08" fill="#66a1d7"/>
<rect x="419.15" y="153.38" width="4.32" height="2.08" fill="#4a90d0"/>
<rect x="423.47" y="153.38" width="4.32" height="2.08" fill="#5396d2"/>
<rect x="427.78" y="153.38" width="4.32" height="2.08" fill="#458ccc"/>
<rect x="432.10" y="153.38" width="4.32" height="2.08" fill="#f9d0c5"/>
<rect x="436.42" y="153.38" width="4.32" height="2.08" fill="#f7b19f"/>
<rect x="440.73" y="153.38" width="4.32" height="2.08" fill="#f6a894"/>
<rect x="445.05" y="153.38" width="4.32" height="2.08" fill="#f8c3b4"/>
<rect x="449.37" y="153.38" width="4.32" height="2.08" fill="#f9c9bc"/>
<rect x="453.68" y="153.38" width="4.32" height="2.08" fill="#f7baa9"/>
<rect x="406.20" y="155.47" width="4.32" height="2.08" fill="#5596d3"/>
<rect x="410.52" y="155.47" width="4.32" height="2.08" fill="#478dcd"/>
<rect x="414.83" y="155.47" width="4.32" height="2.08" fill="#609ed6"/>
<rect x="419.15" y="155.47" width="4.32" height="2.08" fill="#5295d2"/>
<rect x="423.47" y="155.47" width="4.32" height="2.08" fill="#5d9cd5"/>
<rect x="427.78" y="155.47" width="4.32" height="2.08" fill="#448bcb"/>
<rect x="432.10" y="155.47" width="4.32" height="2.08" fill="#f9d3c9"/>
<rect x="436.42" y="155.47" width="4.32" height="2.08" fill="#f9ccc0"/>
<rect x="440.73" y="155.47" width="4.32" height="2.08" fill="#f8c3b5"/>
<rect x="445.05" y="155.47" width="4.32" height="2.08" fill="#f59e89"/>
<rect x="449.37" y="155.47" width="4.32" height="2.08" fill="#f6ad9a"/>
<rect x="453.68" y="155.47" width="4.32" height="2.08" fill="#f7b2a0"/>
<rect x="406.20" y="157.55" width="4.32" height="2.08" fill="#aaccea"/>
<rect x="410.52" y="157.55" width="4.32" height="2.08" fill="#4389c9"/>
<rect x="414.83" y="157.55" width="4.32" height="2.08" fill="#488ece"/>
<rect x="419.15" y="157.55" width="4.32" height="2.08" fill="#4c91d1"/>
<rect x="423.47" y="157.55" width="4.32" height="2.08" fill="#b5d3ed"/>
<rect x="427.78" y="157.55" width="4.32" height="2.08" fill="#468dcd"/>
<rect x="432.10" y="157.55" width="4.32" height="2.08" fill="#fae4df"/>
<rect x="436.42" y="157.55" width="4.32" height="2.08" fill="#fadad2"/>
<rect x="440.73" y="157.55" width="4.32" height="2.08" fill="#f9eae7"/>
<rect x="445.05" y="157.55" width="4.32" height="2.08" fill="#fae0da"/>
<rect x="449.37" y="157.55" width="4.32" height="2.08" fill="#f9c9bb"/>
<rect x="453.68" y="157.55" width="4.32" height="2.08" fill="#fad9d0"/>
<rect x="406.20" y="159.63" width="4.32" height="2.08" fill="#d1e4f4"/>
<rect x="410.52" y="159.63" width="4.32" height="2.08" fill="#448bcb"/>
<rect x="414.83" y="159.63" width="4.32" height="2.08" fill="#468dcd"/>
<rect x="419.15" y="159.63" width="4.32" height="2.08" fill="#468dcd"/>
<rect x="423.47" y="159.63" width="4.32" height="2.08" fill="#bfd9ef"/>
<rect x="427.78" y="159.63" width="4.32" height="2.08" fill="#458ccc"/>
<rect x="432.10" y="159.63" width="4.32" height="2.08" fill="#fae5e0"/>
<rect x="436.42" y="159.63" width="4.32" height="2.08" fill="#f8f2f0"/>
<rect x="440.73" y="159.63" width="4.32" height="2.08" fill="#fae1db"/>
<rect x="445.05" y="159.63" width="4.32" height="2.08" fill="#f9e7e3"/>
<rect x="449.37" y="159.63" width="4.32" height="2.08" fill="#fae3de"/>
<rect x="453.68" y="159.63" width="4.32" height="2.08" fill="#f9e9e6"/>
<rect x="406.20" y="161.72" width="4.32" height="2.08" fill="#438aca"/>
<rect x="410.52" y="161.72" width="4.32" height="2.08" fill="#478dcd"/>
<rect x="414.83" y="161.72" width="4.32" height="2.08" fill="#4a90d0"/>
<rect x="419.15" y="161.72" width="4.32" height="2.08" fill="#498fcf"/>
<rect x="423.47" y="161.72" width="4.32" height="2.08" fill="#468ccc"/>
<rect x="427.78" y="161.72" width="4.32" height="2.08" fill="#4e93d1"/>
<rect x="432.10" y="161.72" width="4.32" height="2.08" fill="#f9c9bc"/>
<rect x="436.42" y="161.72" width="4.32" height="2.08" fill="#fadad2"/>
<rect x="440.73" y="161.72" width="4.32" height="2.08" fill="#fae0da"/>
<rect x="445.05" y="161.72" width="4.32" height="2.08" fill="#f9eeec"/>
<rect x="449.37" y="161.72" width="4.32" height="2.08" fill="#f9edea"/>
<rect x="453.68" y="161.72" width="4.32" height="2.08" fill="#f9d7ce"/>
<rect x="406.20" y="163.80" width="4.32" height="2.08" fill="#438aca"/>
<rect x="410.52" y="163.80" width="4.32" height="2.08" fill="#4288c8"/>
<rect x="414.83" y="163.80" width="4.32" height="2.08" fill="#5093d1"/>
<rect x="419.15" y="163.80" width="4.32" height="2.08" fill="#4e92d1"/>
<rect x="423.47" y="163.80" width="4.32" height="2.08" fill="#468ccc"/>
<rect x="427.78" y="163.80" width="4.32" height="2.08" fill="#4e92d1"/>
<rect x="432.10" y="163.80" width="4.32" height="2.08" fill="#f9d6cc"/>
<rect x="436.42" y="163.80" width="4.32" height="2.08" fill="#f9e6e2"/>
<rect x="440.73" y="163.80" width="4.32" height="2.08" fill="#fae2dd"/>
<rect x="445.05" y="163.80" width="4.32" height="2.08" fill="#fadad3"/>
<rect x="449.37" y="163.80" width="4.32" height="2.08" fill="#f9cabd"/>
<rect x="453.68" y="163.80" width="4.32" height="2.08" fill="#f9efed"/>
<rect x="406.20" y="165.88" width="4.32" height="2.08" fill="#5597d3"/>
<rect x="410.52" y="165.88" width="4.32" height="2.08" fill="#488ece"/>
<rect x="414.83" y="165.88" width="4.32" height="2.08" fill="#498fcf"/>
<rect x="419.15" y="165.88" width="4.32" height="2.08" fill="#488ece"/>
<rect x="423.47" y="165.88" width="4.32" height="2.08" fill="#498fcf"/>
<rect x="427.78" y="165.88" width="4.32" height="2.08" fill="#468dcd"/>
<rect x="432.10" y="165.88" width="4.32" height="2.08" fill="#fadcd5"/>
<rect x="436.42" y="165.88" width="4.32" height="2.08" fill="#fae5e0"/>
<rect x="440.73" y="165.88" width="4.32" height="2.08" fill="#f9e9e5"/>
<rect x="445.05" y="165.88" width="4.32" height="2.08" fill="#f9e9e6"/>
<rect x="449.37" y="165.88" width="4.32" height="2.08" fill="#fae2dd"/>
<rect x="453.68" y="165.88" width="4.32" height="2.08" fill="#f9e7e2"/>
<rect x="406.20" y="167.97" width="4.32" height="2.08" fill="#5798d3"/>
<rect x="410.52" y="167.97" width="4.32" height="2.08" fill="#458bcb"/>
<rect x="414.83" y="167.97" width="4.32" height="2.08" fill="#488ece"/>
<rect x="419.15" y="167.97" width="4.32" height="2.08" fill="#488ece"/>
<rect x="423.47" y="167.97" width="4.32" height="2.08" fill="#4a90d0"/>
<rect x="427.78" y="167.97" width="4.32" height="2.08" fill="#458bcb"/>
<rect x="432.10" y="167.97" width="4.32" height="2.08" fill="#f9d7ce"/>
<rect x="436.42" y="167.97" width="4.32" height="2.08" fill="#f9d5cc"/>
<rect x="440.73" y="167.97" width="4.32" height="2.08" fill="#f9d7cf"/>
<rect x="445.05" y="167.97" width="4.32" height="2.08" fill="#f9e9e5"/>
<rect x="449.37" y="167.97" width="4.32" height="2.08" fill="#faddd6"/>
<rect x="453.68" y="167.97" width="4.32" height="2.08" fill="#fae1db"/>
<rect x="406.20" y="170.05" width="4.32" height="2.08" fill="#468ccc"/>
<rect x="410.52" y="170.05" width="4.32" height="2.08" fill="#d2e4f4"/>
<rect x="414.83" y="170.05" width="4.32" height="2.08" fill="#4a90d0"/>
<rect x="419.15" y="170.05" width="4.32" height="2.08" fill="#4f93d1"/>
<rect x="423.47" y="170.05" width="4.32" height="2.08" fill="#4a90d0"/>
<rect x="427.78" y="170.05" width="4.32" height="2.08" fill="#478ece"/>
<rect x="432.10" y="170.05" width="4.32" height="2.08" fill="#fae2dc"/>
<rect x="436.42" y="170.05" width="4.32" height="2.08" fill="#f9eeec"/>
<rect x="440.73" y="170.05" width="4.32" height="2.08" fill="#f9f0ee"/>
<rect x="445.05" y="170.05" width="4.32" height="2.08" fill="#f7f6f6"/>
<rect x="449.37" y="170.05" width="4.32" height="2.08" fill="#f9ebe8"/>
<rect x="453.68" y="170.05" width="4.32" height="2.08" fill="#f9e8e5"/>
<rect x="406.20" y="172.14" width="4.32" height="2.08" fill="#4289c9"/>
<rect x="410.52" y="172.14" width="4.32" height="2.08" fill="#dceaf6"/>
<rect x="414.83" y="172.14" width="4.32" height="2.08" fill="#4f93d1"/>
<rect x="419.15" y="172.14" width="4.32" height="2.08" fill="#4f93d1"/>
<rect x="423.47" y="172.14" width="4.32" height="2.08" fill="#4d92d1"/>
<rect x="427.78" y="172.14" width="4.32" height="2.08" fill="#458bcb"/>
<rect x="432.10" y="172.14" width="4.32" height="2.08" fill="#f9d6cd"/>
<rect x="436.42" y="172.14" width="4.32" height="2.08" fill="#f9e6e1"/>
<rect x="440.73" y="172.14" width="4.32" height="2.08" fill="#f8f1ef"/>
<rect x="445.05" y="172.14" width="4.32" height="2.08" fill="#f9e7e2"/>
<rect x="449.37" y="172.14" width="4.32" height="2.08" fill="#f9d3c9"/>
<rect x="453.68" y="172.14" width="4.32" height="2.08" fill="#fae0db"/>
<rect x="406.20" y="174.22" width="4.32" height="2.08" fill="#498fcf"/>
<rect x="410.52" y="174.22" width="4.32" height="2.08" fill="#4a90d0"/>
<rect x="414.83" y="174.22" width="4.32" height="2.08" fill="#bdd8ef"/>
<rect x="419.15" y="174.22" width="4.32" height="2.08" fill="#4c91d0"/>
<rect x="423.47" y="174.22" width="4.32" height="2.08" fill="#4c91d1"/>
<rect x="427.78" y="174.22" width="4.32" height="2.08" fill="#5094d2"/>
<rect x="432.10" y="174.22" width="4.32" height="2.08" fill="#fae4df"/>
<rect x="436.42" y="174.22" width="4.32" height="2.08" fill="#fadad3"/>
<rect x="440.73" y="174.22" width="4.32" height="2.08" fill="#f9ebe8"/>
<rect x="445.05" y="174.22" width="4.32" height="2.08" fill="#f9e6e2"/>
<rect x="449.37" y="174.22" width="4.32" height="2.08" fill="#f8c3b4"/>
<rect x="453.68" y="174.22" width="4.32" height="2.08" fill="#f7f6f6"/>
<rect x="406.20" y="176.30" width="4.32" height="2.08" fill="#468dcd"/>
<rect x="410.52" y="176.30" width="4.32" height="2.08" fill="#498fcf"/>
<rect x="414.83" y="176.30" width="4.32" height="2.08" fill="#bbd7ef"/>
<rect x="419.15" y="176.30" width="4.32" height="2.08" fill="#5094d2"/>
<rect x="423.47" y="176.30" width="4.32" height="2.08" fill="#4a90d0"/>
<rect x="427.78" y="176.30" width="4.32" height="2.08" fill="#4a90d0"/>
<rect x="432.10" y="176.30" width="4.32" height="2.08" fill="#faded8"/>
<rect x="436.42" y="176.30" width="4.32" height="2.08" fill="#f9d5cc"/>
<rect x="440.73" y="176.30" width="4.32" height="2.08" fill="#f9eae7"/>
<rect x="445.05" y="176.30" width="4.32" height="2.08" fill="#f9ece9"/>
<rect x="449.37" y="176.30" width="4.32" height="2.08" fill="#f9eeec"/>
<rect x="453.68" y="176.30" width="4.32" height="2.08" fill="#f8f3f3"/>
<rect x="406.20" y="178.39" width="4.32" height="2.08" fill="#4288c8"/>
<rect x="410.52" y="178.39" width="4.32" height="2.08" fill="#478dcd"/>
<rect x="414.83" y="178.39" width="4.32" height="2.08" fill="#5093d1"/>
<rect x="419.15" y="178.39" width="4.32" height="2.08" fill="#4188c8"/>
<rect x="423.47" y="178.39" width="4.32" height="2.08" fill="#3f86c6"/>
<rect x="427.78" y="178.39" width="4.32" height="2.08" fill="#468dcd"/>
<rect x="432.10" y="178.39" width="4.32" height="2.08" fill="#fae2dd"/>
<rect x="436.42" y="178.39" width="4.32" height="2.08" fill="#f9d8cf"/>
<rect x="440.73" y="178.39" width="4.32" height="2.08" fill="#fae3de"/>
<rect x="445.05" y="178.39" width="4.32" height="2.08" fill="#fad9d1"/>
<rect x="449.37" y="178.39" width="4.32" height="2.08" fill="#f9e6e2"/>
<rect x="453.68" y="178.39" width="4.32" height="2.08" fill="#fadbd3"/>
<rect x="406.20" y="180.47" width="4.32" height="2.08" fill="#498fcf"/>
<rect x="410.52" y="180.47" width="4.32" height="2.08" fill="#3f86c6"/>
<rect x="414.83" y="180.47" width="4.32" height="2.08" fill="#498fcf"/>
<rect x="419.15" y="180.47" width="4.32" height="2.08" fill="#448bcb"/>
<rect x="423.47" y="180.47" width="4.32" height="2.08" fill="#448bcb"/>
<rect x="427.78" y="180.47" width="4.32" height="2.08" fill="#488ece"/>
<rect x="432.10" y="180.47" width="4.32" height="2.08" fill="#f8f5f5"/>
<rect x="436.42" y="180.47" width="4.32" height="2.08" fill="#f9f0ee"/>
<rect x="440.73" y="180.47" width="4.32" height="2.08" fill="#fadbd4"/>
<rect x="445.05" y="180.47" width="4.32" height="2.08" fill="#fae4df"/>
<rect x="449.37" y="180.47" width="4.32" height="2.08" fill="#f9eae7"/>
<rect x="453.68" y="180.47" width="4.32" height="2.08" fill="#f8f4f4"/>
<rect x="406.20" y="182.55" width="4.32" height="2.08" fill="#4a90d0"/>
<rect x="410.52" y="182.55" width="4.32" height="2.08" fill="#458ccc"/>
<rect x="414.83" y="182.55" width="4.32" height="2.08" fill="#488fcf"/>
<rect x="419.15" y="182.55" width="4.32" height="2.08" fill="#498fcf"/>
<rect x="423.47" y="182.55" width="4.32" height="2.08" fill="#4289c9"/>
<rect x="427.78" y="182.55" width="4.32" height="2.08" fill="#488ece"/>
<rect x="432.10" y="182.55" width="4.32" height="2.08" fill="#f8f2f1"/>
<rect x="436.42" y="182.55" width="4.32" height="2.08" fill="#f9e7e3"/>
<rect x="440.73" y="182.55" width="4.32" height="2.08" fill="#f9e9e6"/>
<rect x="445.05" y="182.55" width="4.32" height="2.08" fill="#f9ebe8"/>
<rect x="449.37" y="182.55" width="4.32" height="2.08" fill="#fadad3"/>
<rect x="453.68" y="182.55" width="4.32" height="2.08" fill="#f9efed"/>
<rect x="406.20" y="184.64" width="4.32" height="2.08" fill="#3f86c6"/>
<rect x="410.52" y="184.64" width="4.32" height="2.08" fill="#458ccc"/>
<rect x="414.83" y="184.64" width="4.32" height="2.08" fill="#488ece"/>
<rect x="419.15" y="184.64" width="4.32" height="2.08" fill="#4c91d0"/>
<rect x="423.47" y="184.64" width="4.32" height="2.08" fill="#478dcd"/>
<rect x="427.78" y="184.64" width="4.32" height="2.08" fill="#498fcf"/>
<rect x="432.10" y="184.64" width="4.32" height="2.08" fill="#f9f0ee"/>
<rect x="436.42" y="184.64" width="4.32" height="2.08" fill="#fadcd4"/>
<rect x="440.73" y="184.64" width="4.32" height="2.08" fill="#f8f2f1"/>
<rect x="445.05" y="184.64" width="4.32" height="2.08" fill="#f9e9e5"/>
<rect x="449.37" y="184.64" width="4.32" height="2.08" fill="#f9ebe8"/>
<rect x="453.68" y="184.64" width="4.32" height="2.08" fill="#f9eae6"/>
<rect x="406.20" y="186.72" width="4.32" height="2.08" fill="#4c91d0"/>
<rect x="410.52" y="186.72" width="4.32" height="2.08" fill="#4288c8"/>
<rect x="414.83" y="186.72" width="4.32" height="2.08" fill="#488ece"/>
<rect x="419.15" y="186.72" width="4.32" height="2.08" fill="#5597d3"/>
<rect x="423.47" y="186.72" width="4.32" height="2.08" fill="#4087c7"/>
<rect x="427.78" y="186.72" width="4.32" height="2.08" fill="#3f86c6"/>
<rect x="432.10" y="186.72" width="4.32" height="2.08" fill="#f1f3f6"/>
<rect x="436.42" y="186.72" width="4.32" height="2.08" fill="#e5eef6"/>
<rect x="440.73" y="186.72" width="4.32" height="2.08" fill="#d7e7f5"/>
<rect x="445.05" y="186.72" width="4.32" height="2.08" fill="#fae4de"/>
<rect x="449.37" y="186.72" width="4.32" height="2.08" fill="#fae2dd"/>
<rect x="453.68" y="186.72" width="4.32" height="2.08" fill="#f59f89"/>
<rect x="406.20" y="188.80" width="4.32" height="2.08" fill="#639fd7"/>
<rect x="410.52" y="188.80" width="4.32" height="2.08" fill="#4d92d1"/>
<rect x="414.83" y="188.80" width="4.32" height="2.08" fill="#4a90d0"/>
<rect x="419.15" y="188.80" width="4.32" height="2.08" fill="#3f86c6"/>
<rect x="423.47" y="188.80" width="4.32" height="2.08" fill="#5798d3"/>
<rect x="427.78" y="188.80" width="4.32" height="2.08" fill="#5c9bd5"/>
<rect x="432.10" y="188.80" width="4.32" height="2.08" fill="#eef2f6"/>
<rect x="436.42" y="188.80" width="4.32" height="2.08" fill="#e7eff6"/>
<rect x="440.73" y="188.80" width="4.32" height="2.08" fill="#f2f3f6"/>
<rect x="445.05" y="188.80" width="4.32" height="2.08" fill="#f7b09e"/>
<rect x="449.37" y="188.80" width="4.32" height="2.08" fill="#fae1db"/>
<rect x="453.68" y="188.80" width="4.32" height="2.08" fill="#faddd5"/>
<rect x="406.20" y="190.89" width="4.32" height="2.08" fill="#448bcb"/>
<rect x="410.52" y="190.89" width="4.32" height="2.08" fill="#609dd6"/>
<rect x="414.83" y="190.89" width="4.32" height="2.08" fill="#4b91d0"/>
<rect x="419.15" y="190.89" width="4.32" height="2.08" fill="#498fcf"/>
<rect x="423.47" y="190.89" width="4.32" height="2.08" fill="#73a9db"/>
<rect x="427.78" y="190.89" width="4.32" height="2.08" fill="#478ece"/>
<rect x="432.10" y="190.89" width="4.32" height="2.08" fill="#edf1f6"/>
<rect x="436.42" y="190.89" width="4.32" height="2.08" fill="#dae9f6"/>
<rect x="440.73" y="190.89" width="4.32" height="2.08" fill="#eef2f6"/>
<rect x="445.05" y="190.89" width="4.32" height="2.08" fill="#f9cdc1"/>
<rect x="449.37" y="190.89" width="4.32" height="2.08" fill="#f9edeb"/>
<rect x="453.68" y="190.89" width="4.32" height="2.08" fill="#f9d2c7"/>
<rect x="406.20" y="192.97" width="4.32" height="2.08" fill="#f6a38f"/>
<rect x="410.52" y="192.97" width="4.32" height="2.08" fill="#f7b09d"/>
<rect x="414.83" y="192.97" width="4.32" height="2.08" fill="#f6ac99"/>
<rect x="419.15" y="192.97" width="4.32" height="2.08" fill="#ea5a3f"/>
<rect x="423.47" y="192.97" width="4.32" height="2.08" fill="#f0795f"/>
<rect x="427.78" y="192.97" width="4.32" height="2.08" fill="#ed674c"/>
<rect x="432.10" y="192.97" width="4.32" height="2.08" fill="#d2e4f4"/>
<rect x="436.42" y="192.97" width="4.32" height="2.08" fill="#f2f3f6"/>
<rect x="440.73" y="192.97" width="4.32" height="2.08" fill="#f2f3f6"/>
<rect x="445.05" y="192.97" width="4.32" height="2.08" fill="#f4f4f6"/>
<rect x="449.37" y="192.97" width="4.32" height="2.08" fill="#e4eef6"/>
<rect x="453.68" y="192.97" width="4.32" height="2.08" fill="#d1e3f3"/>
<rect x="406.20" y="195.06" width="4.32" height="2.08" fill="#f9d3c9"/>
<rect x="410.52" y="195.06" width="4.32" height="2.08" fill="#f8bead"/>
<rect x="414.83" y="195.06" width="4.32" height="2.08" fill="#f6a38e"/>
<rect x="419.15" y="195.06" width="4.32" height="2.08" fill="#f18168"/>
<rect x="423.47" y="195.06" width="4.32" height="2.08" fill="#ed6c51"/>
<rect x="427.78" y="195.06" width="4.32" height="2.08" fill="#ef7258"/>
<rect x="432.10" y="195.06" width="4.32" height="2.08" fill="#e7eff6"/>
<rect x="436.42" y="195.06" width="4.32" height="2.08" fill="#dbe9f6"/>
<rect x="440.73" y="195.06" width="4.32" height="2.08" fill="#e0ecf6"/>
<rect x="445.05" y="195.06" width="4.32" height="2.08" fill="#f6f5f6"/>
<rect x="449.37" y="195.06" width="4.32" height="2.08" fill="#e6eef6"/>
<rect x="453.68" y="195.06" width="4.32" height="2.08" fill="#ecf1f6"/>
<rect x="406.20" y="197.14" width="4.32" height="2.08" fill="#f7b09e"/>
<rect x="410.52" y="197.14" width="4.32" height="2.08" fill="#f59b85"/>
<rect x="414.83" y="197.14" width="4.32" height="2.08" fill="#f5a08b"/>
<rect x="419.15" y="197.14" width="4.32" height="2.08" fill="#f18269"/>
<rect x="423.47" y="197.14" width="4.32" height="2.08" fill="#f6ad99"/>
<rect x="427.78" y="197.14" width="4.32" height="2.08" fill="#e85037"/>
<rect x="432.10" y="197.14" width="4.32" height="2.08" fill="#d8e8f5"/>
<rect x="436.42" y="197.14" width="4.32" height="2.08" fill="#c7def1"/>
<rect x="440.73" y="197.14" width="4.32" height="2.08" fill="#e9f0f6"/>
<rect x="445.05" y="197.14" width="4.32" height="2.08" fill="#f8f2f1"/>
<rect x="449.37" y="197.14" width="4.32" height="2.08" fill="#f9edeb"/>
<rect x="453.68" y="197.14" width="4.32" height="2.08" fill="#f8f5f5"/>
<rect x="406.20" y="199.22" width="4.32" height="2.08" fill="#f9d0c4"/>
<rect x="410.52" y="199.22" width="4.32" height="2.08" fill="#f6ac98"/>
<rect x="414.83" y="199.22" width="4.32" height="2.08" fill="#f6ab97"/>
<rect x="419.15" y="199.22" width="4.32" height="2.08" fill="#f8bead"/>
<rect x="423.47" y="199.22" width="4.32" height="2.08" fill="#f8c2b3"/>
<rect x="427.78" y="199.22" width="4.32" height="2.08" fill="#f59f89"/>
<rect x="432.10" y="199.22" width="4.32" height="2.08" fill="#f9efed"/>
<rect x="436.42" y="199.22" width="4.32" height="2.08" fill="#c5ddf1"/>
<rect x="440.73" y="199.22" width="4.32" height="2.08" fill="#d9e8f5"/>
<rect x="445.05" y="199.22" width="4.32" height="2.08" fill="#5194d2"/>
<rect x="449.37" y="199.22" width="4.32" height="2.08" fill="#f2f3f6"/>
<rect x="453.68" y="199.22" width="4.32" height="2.08" fill="#f9efed"/>
<rect x="406.20" y="201.31" width="4.32" height="2.08" fill="#fae0da"/>
<rect x="410.52" y="201.31" width="4.32" height="2.08" fill="#f4947c"/>
<rect x="414.83" y="201.31" width="4.32" height="2.08" fill="#f9cbbe"/>
<rect x="419.15" y="201.31" width="4.32" height="2.08" fill="#f8f6f6"/>
<rect x="423.47" y="201.31" width="4.32" height="2.08" fill="#f6a38e"/>
<rect x="427.78" y="201.31" width="4.32" height="2.08" fill="#f8bcac"/>
<rect x="432.10" y="201.31" width="4.32" height="2.08" fill="#d2e4f4"/>
<rect x="436.42" y="201.31" width="4.32" height="2.08" fill="#e3edf6"/>
<rect x="440.73" y="201.31" width="4.32" height="2.08" fill="#edf1f6"/>
<rect x="445.05" y="201.31" width="4.32" height="2.08" fill="#498fcf"/>
<rect x="449.37" y="201.31" width="4.32" height="2.08" fill="#d1e4f4"/>
<rect x="453.68" y="201.31" width="4.32" height="2.08" fill="#a7cbea"/>
<rect x="406.20" y="203.39" width="4.32" height="2.08" fill="#f5a08b"/>
<rect x="410.52" y="203.39" width="4.32" height="2.08" fill="#f7b5a3"/>
<rect x="414.83" y="203.39" width="4.32" height="2.08" fill="#f8bfaf"/>
<rect x="419.15" y="203.39" width="4.32" height="2.08" fill="#f7b6a5"/>
<rect x="423.47" y="203.39" width="4.32" height="2.08" fill="#f6a691"/>
<rect x="427.78" y="203.39" width="4.32" height="2.08" fill="#f59b85"/>
<rect x="432.10" y="203.39" width="4.32" height="2.08" fill="#64a0d7"/>
<rect x="436.42" y="203.39" width="4.32" height="2.08" fill="#e0ecf6"/>
<rect x="440.73" y="203.39" width="4.32" height="2.08" fill="#bad6ee"/>
<rect x="445.05" y="203.39" width="4.32" height="2.08" fill="#deebf6"/>
<rect x="449.37" y="203.39" width="4.32" height="2.08" fill="#eaf0f6"/>
<rect x="453.68" y="203.39" width="4.32" height="2.08" fill="#eef2f6"/>
<rect x="406.20" y="205.47" width="4.32" height="2.08" fill="#f8c3b4"/>
<rect x="410.52" y="205.47" width="4.32" height="2.08" fill="#f38b72"/>
<rect x="414.83" y="205.47" width="4.32" height="2.08" fill="#f9c8bb"/>
<rect x="419.15" y="205.47" width="4.32" height="2.08" fill="#f9cfc3"/>
<rect x="423.47" y="205.47" width="4.32" height="2.08" fill="#f7b8a7"/>
<rect x="427.78" y="205.47" width="4.32" height="2.08" fill="#f6a691"/>
<rect x="432.10" y="205.47" width="4.32" height="2.08" fill="#5b9ad4"/>
<rect x="436.42" y="205.47" width="4.32" height="2.08" fill="#bdd8ef"/>
<rect x="440.73" y="205.47" width="4.32" height="2.08" fill="#adceeb"/>
<rect x="445.05" y="205.47" width="4.32" height="2.08" fill="#f1f3f6"/>
<rect x="449.37" y="205.47" width="4.32" height="2.08" fill="#d0e3f3"/>
<rect x="453.68" y="205.47" width="4.32" height="2.08" fill="#e4eef6"/>
<rect x="406.20" y="207.56" width="4.32" height="2.08" fill="#f9ccbf"/>
<rect x="410.52" y="207.56" width="4.32" height="2.08" fill="#f6ad99"/>
<rect x="414.83" y="207.56" width="4.32" height="2.08" fill="#f7b9a8"/>
<rect x="419.15" y="207.56" width="4.32" height="2.08" fill="#f8beae"/>
<rect x="423.47" y="207.56" width="4.32" height="2.08" fill="#fadad3"/>
<rect x="427.78" y="207.56" width="4.32" height="2.08" fill="#fadcd5"/>
<rect x="432.10" y="207.56" width="4.32" height="2.08" fill="#f6f5f6"/>
<rect x="436.42" y="207.56" width="4.32" height="2.08" fill="#8dbae2"/>
<rect x="440.73" y="207.56" width="4.32" height="2.08" fill="#4b90d0"/>
<rect x="445.05" y="207.56" width="4.32" height="2.08" fill="#f4f4f6"/>
<rect x="449.37" y="207.56" width="4.32" height="2.08" fill="#dfebf6"/>
<rect x="453.68" y="207.56" width="4.32" height="2.08" fill="#5496d3"/>
<rect x="406.20" y="209.64" width="4.32" height="2.08" fill="#f9d0c6"/>
<rect x="410.52" y="209.64" width="4.32" height="2.08" fill="#f9e6e2"/>
<rect x="414.83" y="209.64" width="4.32" height="2.08" fill="#f18067"/>
<rect x="419.15" y="209.64" width="4.32" height="2.08" fill="#f9d1c6"/>
<rect x="423.47" y="209.64" width="4.32" height="2.08" fill="#f8bbab"/>
<rect x="427.78" y="209.64" width="4.32" height="2.08" fill="#f49179"/>
<rect x="432.10" y="209.64" width="4.32" height="2.08" fill="#f3f4f6"/>
<rect x="436.42" y="209.64" width="4.32" height="2.08" fill="#ebf0f6"/>
<rect x="440.73" y="209.64" width="4.32" height="2.08" fill="#4d92d1"/>
<rect x="445.05" y="209.64" width="4.32" height="2.08" fill="#d3e5f4"/>
<rect x="449.37" y="209.64" width="4.32" height="2.08" fill="#b8d5ee"/>
<rect x="453.68" y="209.64" width="4.32" height="2.08" fill="#5295d2"/>
<rect x="406.20" y="211.73" width="4.32" height="2.08" fill="#f8f1ef"/>
<rect x="410.52" y="211.73" width="4.32" height="2.08" fill="#fae0d9"/>
<rect x="414.83" y="211.73" width="4.32" height="2.08" fill="#f9d0c4"/>
<rect x="419.15" y="211.73" width="4.32" height="2.08" fill="#f9cdc1"/>
<rect x="423.47" y="211.73" width="4.32" height="2.08" fill="#f8f1ef"/>
<rect x="427.78" y="211.73" width="4.32" height="2.08" fill="#fae2dd"/>
<rect x="432.10" y="211.73" width="4.32" height="2.08" fill="#afd0ec"/>
<rect x="436.42" y="211.73" width="4.32" height="2.08" fill="#4d92d1"/>
<rect x="440.73" y="211.73" width="4.32" height="2.08" fill="#5899d4"/>
<rect x="445.05" y="211.73" width="4.32" height="2.08" fill="#c0d9f0"/>
<rect x="449.37" y="211.73" width="4.32" height="2.08" fill="#a0c6e7"/>
<rect x="453.68" y="211.73" width="4.32" height="2.08" fill="#b8d5ee"/>
<rect x="406.20" y="213.81" width="4.32" height="2.08" fill="#f1f3f6"/>
<rect x="410.52" y="213.81" width="4.32" height="2.08" fill="#f9f0ee"/>
<rect x="414.83" y="213.81" width="4.32" height="2.08" fill="#eef2f6"/>
<rect x="419.15" y="213.81" width="4.32" height="2.08" fill="#f9efed"/>
<rect x="423.47" y="213.81" width="4.32" height="2.08" fill="#f9c9bc"/>
<rect x="427.78" y="213.81" width="4.32" height="2.08" fill="#fae1dc"/>
<rect x="432.10" y="213.81" width="4.32" height="2.08" fill="#b4d2ed"/>
<rect x="436.42" y="213.81" width="4.32" height="2.08" fill="#5597d3"/>
<rect x="440.73" y="213.81" width="4.32" height="2.08" fill="#5e9cd5"/>
<rect x="445.05" y="213.81" width="4.32" height="2.08" fill="#b6d3ed"/>
<rect x="449.37" y="213.81" width="4.32" height="2.08" fill="#86b5e0"/>
<rect x="453.68" y="213.81" width="4.32" height="2.08" fill="#b1d1ec"/>
<rect x="406.20" y="215.89" width="4.32" height="2.08" fill="#f8f2f1"/>
<rect x="410.52" y="215.89" width="4.32" height="2.08" fill="#fadbd3"/>
<rect x="414.83" y="215.89" width="4.32" height="2.08" fill="#fae0da"/>
<rect x="419.15" y="215.89" width="4.32" height="2.08" fill="#fae0da"/>
<rect x="423.47" y="215.89" width="4.32" height="2.08" fill="#eff2f6"/>
<rect x="427.78" y="215.89" width="4.32" height="2.08" fill="#f7b19f"/>
<rect x="432.10" y="215.89" width="4.32" height="2.08" fill="#a5c9e9"/>
<rect x="436.42" y="215.89" width="4.32" height="2.08" fill="#b1d1ec"/>
<rect x="440.73" y="215.89" width="4.32" height="2.08" fill="#b1d1ec"/>
<rect x="445.05" y="215.89" width="4.32" height="2.08" fill="#5597d3"/>
<rect x="449.37" y="215.89" width="4.32" height="2.08" fill="#5295d2"/>
<rect x="453.68" y="215.89" width="4.32" height="2.08" fill="#b8d5ee"/>
<rect x="406.20" y="217.98" width="4.32" height="2.08" fill="#faded7"/>
<rect x="410.52" y="217.98" width="4.32" height="2.08" fill="#f8f3f3"/>
<rect x="414.83" y="217.98" width="4.32" height="2.08" fill="#d0e3f3"/>
<rect x="419.15" y="217.98" width="4.32" height="2.08" fill="#e9eff6"/>
<rect x="423.47" y="217.98" width="4.32" height="2.08" fill="#f9ebe8"/>
<rect x="427.78" y="217.98" width="4.32" height="2.08" fill="#e2edf6"/>
<rect x="432.10" y="217.98" width="4.32" height="2.08" fill="#86b5e0"/>
<rect x="436.42" y="217.98" width="4.32" height="2.08" fill="#87b5e0"/>
<rect x="440.73" y="217.98" width="4.32" height="2.08" fill="#87b6e0"/>
<rect x="445.05" y="217.98" width="4.32" height="2.08" fill="#5b9bd5"/>
<rect x="449.37" y="217.98" width="4.32" height="2.08" fill="#4a90d0"/>
<rect x="453.68" y="217.98" width="4.32" height="2.08" fill="#639fd6"/>
<rect x="406.20" y="220.06" width="4.32" height="2.08" fill="#ddeaf6"/>
<rect x="410.52" y="220.06" width="4.32" height="2.08" fill="#f9cfc4"/>
<rect x="414.83" y="220.06" width="4.32" height="2.08" fill="#fae5e1"/>
<rect x="419.15" y="220.06" width="4.32" height="2.08" fill="#f9ecea"/>
<rect x="423.47" y="220.06" width="4.32" height="2.08" fill="#eef2f6"/>
<rect x="427.78" y="220.06" width="4.32" height="2.08" fill="#f9efee"/>
<rect x="432.10" y="220.06" width="4.32" height="2.08" fill="#6da5d9"/>
<rect x="436.42" y="220.06" width="4.32" height="2.08" fill="#d2e4f4"/>
<rect x="440.73" y="220.06" width="4.32" height="2.08" fill="#488ece"/>
<rect x="445.05" y="220.06" width="4.32" height="2.08" fill="#9dc4e6"/>
<rect x="449.37" y="220.06" width="4.32" height="2.08" fill="#5b9ad4"/>
<rect x="453.68" y="220.06" width="4.32" height="2.08" fill="#b6d4ed"/>
<rect x="406.20" y="222.14" width="4.32" height="2.08" fill="#f9efed"/>
<rect x="410.52" y="222.14" width="4.32" height="2.08" fill="#f9eeec"/>
<rect x="414.83" y="222.14" width="4.32" height="2.08" fill="#ecf1f6"/>
<rect x="419.15" y="222.14" width="4.32" height="2.08" fill="#f8f3f3"/>
<rect x="423.47" y="222.14" width="4.32" height="2.08" fill="#f9edeb"/>
<rect x="427.78" y="222.14" width="4.32" height="2.08" fill="#f9d8cf"/>
<rect x="432.10" y="222.14" width="4.32" height="2.08" fill="#86b5e0"/>
<rect x="436.42" y="222.14" width="4.32" height="2.08" fill="#7eb0de"/>
<rect x="440.73" y="222.14" width="4.32" height="2.08" fill="#4c91d1"/>
<rect x="445.05" y="222.14" width="4.32" height="2.08" fill="#76abdc"/>
<rect x="449.37" y="222.14" width="4.32" height="2.08" fill="#4f93d1"/>
<rect x="453.68" y="222.14" width="4.32" height="2.08" fill="#5898d4"/>
<rect x="406.20" y="224.23" width="4.32" height="2.08" fill="#c9dff2"/>
<rect x="410.52" y="224.23" width="4.32" height="2.08" fill="#dfebf6"/>
<rect x="414.83" y="224.23" width="4.32" height="2.08" fill="#dceaf6"/>
<rect x="419.15" y="224.23" width="4.32" height="2.08" fill="#f9eeec"/>
<rect x="423.47" y="224.23" width="4.32" height="2.08" fill="#f9ebe8"/>
<rect x="427.78" y="224.23" width="4.32" height="2.08" fill="#f4f4f6"/>
<rect x="432.10" y="224.23" width="4.32" height="2.08" fill="#4e92d1"/>
<rect x="436.42" y="224.23" width="4.32" height="2.08" fill="#438aca"/>
<rect x="440.73" y="224.23" width="4.32" height="2.08" fill="#609ed6"/>
<rect x="445.05" y="224.23" width="4.32" height="2.08" fill="#5a9ad4"/>
<rect x="449.37" y="224.23" width="4.32" height="2.08" fill="#5697d3"/>
<rect x="453.68" y="224.23" width="4.32" height="2.08" fill="#5697d3"/>
<rect x="406.20" y="226.31" width="4.32" height="2.08" fill="#c1daf0"/>
<rect x="410.52" y="226.31" width="4.32" height="2.08" fill="#cae0f2"/>
<rect x="414.83" y="226.31" width="4.32" height="2.08" fill="#cae0f2"/>
<rect x="419.15" y="226.31" width="4.32" height="2.08" fill="#f9cfc4"/>
<rect x="423.47" y="226.31" width="4.32" height="2.08" fill="#f9f0ee"/>
<rect x="427.78" y="226.31" width="4.32" height="2.08" fill="#f9e9e6"/>
<rect x="432.10" y="226.31" width="4.32" height="2.08" fill="#5c9bd5"/>
<rect x="436.42" y="226.31" width="4.32" height="2.08" fill="#69a3d8"/>
<rect x="440.73" y="226.31" width="4.32" height="2.08" fill="#64a0d7"/>
<rect x="445.05" y="226.31" width="4.32" height="2.08" fill="#72a8da"/>
<rect x="449.37" y="226.31" width="4.32" height="2.08" fill="#66a1d7"/>
<rect x="453.68" y="226.31" width="4.32" height="2.08" fill="#66a1d7"/>
<rect x="406.20" y="228.39" width="4.32" height="2.08" fill="#d8e8f5"/>
<rect x="410.52" y="228.39" width="4.32" height="2.08" fill="#d4e6f4"/>
<rect x="414.83" y="228.39" width="4.32" height="2.08" fill="#cfe2f3"/>
<rect x="419.15" y="228.39" width="4.32" height="2.08" fill="#f9edea"/>
<rect x="423.47" y="228.39" width="4.32" height="2.08" fill="#f2f3f6"/>
<rect x="427.78" y="228.39" width="4.32" height="2.08" fill="#fae1dc"/>
<rect x="432.10" y="228.39" width="4.32" height="2.08" fill="#5496d3"/>
<rect x="436.42" y="228.39" width="4.32" height="2.08" fill="#5d9cd5"/>
<rect x="440.73" y="228.39" width="4.32" height="2.08" fill="#70a7da"/>
<rect x="445.05" y="228.39" width="4.32" height="2.08" fill="#4c91d0"/>
<rect x="449.37" y="228.39" width="4.32" height="2.08" fill="#6da5d9"/>
<rect x="453.68" y="228.39" width="4.32" height="2.08" fill="#66a1d7"/>
<rect x="406.20" y="230.48" width="4.32" height="2.08" fill="#aaccea"/>
<rect x="410.52" y="230.48" width="4.32" height="2.08" fill="#c4dcf1"/>
<rect x="414.83" y="230.48" width="4.32" height="2.08" fill="#458bcb"/>
<rect x="419.15" y="230.48" width="4.32" height="2.08" fill="#eb5f44"/>
<rect x="423.47" y="230.48" width="4.32" height="2.08" fill="#ef765c"/>
<rect x="427.78" y="230.48" width="4.32" height="2.08" fill="#e85138"/>
<rect x="432.10" y="230.48" width="4.32" height="2.08" fill="#c8def1"/>
<rect x="436.42" y="230.48" width="4.32" height="2.08" fill="#e2ecf6"/>
<rect x="440.73" y="230.48" width="4.32" height="2.08" fill="#d3e5f4"/>
<rect x="445.05" y="230.48" width="4.32" height="2.08" fill="#fae2dc"/>
<rect x="449.37" y="230.48" width="4.32" height="2.08" fill="#f6aa96"/>
<rect x="453.68" y="230.48" width="4.32" height="2.08" fill="#f9d2c8"/>
<rect x="406.20" y="232.56" width="4.32" height="2.08" fill="#b3d2ed"/>
<rect x="410.52" y="232.56" width="4.32" height="2.08" fill="#d6e7f5"/>
<rect x="414.83" y="232.56" width="4.32" height="2.08" fill="#448aca"/>
<rect x="419.15" y="232.56" width="4.32" height="2.08" fill="#f4937b"/>
<rect x="423.47" y="232.56" width="4.32" height="2.08" fill="#ef7257"/>
<rect x="427.78" y="232.56" width="4.32" height="2.08" fill="#f18067"/>
<rect x="432.10" y="232.56" width="4.32" height="2.08" fill="#bad6ee"/>
<rect x="436.42" y="232.56" width="4.32" height="2.08" fill="#e6eef6"/>
<rect x="440.73" y="232.56" width="4.32" height="2.08" fill="#d3e4f4"/>
<rect x="445.05" y="232.56" width="4.32" height="2.08" fill="#f6aa96"/>
<rect x="449.37" y="232.56" width="4.32" height="2.08" fill="#f59983"/>
<rect x="453.68" y="232.56" width="4.32" height="2.08" fill="#f7b6a4"/>
<rect x="406.20" y="234.65" width="4.32" height="2.08" fill="#f9efed"/>
<rect x="410.52" y="234.65" width="4.32" height="2.08" fill="#b1d1ec"/>
<rect x="414.83" y="234.65" width="4.32" height="2.08" fill="#66a1d7"/>
<rect x="419.15" y="234.65" width="4.32" height="2.08" fill="#ea5c41"/>
<rect x="423.47" y="234.65" width="4.32" height="2.08" fill="#f49179"/>
<rect x="427.78" y="234.65" width="4.32" height="2.08" fill="#ec674b"/>
<rect x="432.10" y="234.65" width="4.32" height="2.08" fill="#a8cbea"/>
<rect x="436.42" y="234.65" width="4.32" height="2.08" fill="#edf1f6"/>
<rect x="440.73" y="234.65" width="4.32" height="2.08" fill="#d8e8f5"/>
<rect x="445.05" y="234.65" width="4.32" height="2.08" fill="#f7b9a8"/>
<rect x="449.37" y="234.65" width="4.32" height="2.08" fill="#f8bcab"/>
<rect x="453.68" y="234.65" width="4.32" height="2.08" fill="#f8c4b5"/>
<rect x="406.20" y="236.73" width="4.32" height="2.08" fill="#e1ecf6"/>
<rect x="410.52" y="236.73" width="4.32" height="2.08" fill="#cbe0f2"/>
<rect x="414.83" y="236.73" width="4.32" height="2.08" fill="#4c91d1"/>
<rect x="419.15" y="236.73" width="4.32" height="2.08" fill="#f8bfaf"/>
<rect x="423.47" y="236.73" width="4.32" height="2.08" fill="#ed674c"/>
<rect x="427.78" y="236.73" width="4.32" height="2.08" fill="#ed684c"/>
<rect x="432.10" y="236.73" width="4.32" height="2.08" fill="#eaf0f6"/>
<rect x="436.42" y="236.73" width="4.32" height="2.08" fill="#d6e6f5"/>
<rect x="440.73" y="236.73" width="4.32" height="2.08" fill="#5c9bd5"/>
<rect x="445.05" y="236.73" width="4.32" height="2.08" fill="#f7b6a5"/>
<rect x="449.37" y="236.73" width="4.32" height="2.08" fill="#f8c8ba"/>
<rect x="453.68" y="236.73" width="4.32" height="2.08" fill="#f49179"/>
<rect x="406.20" y="238.81" width="4.32" height="2.08" fill="#dbe9f6"/>
<rect x="410.52" y="238.81" width="4.32" height="2.08" fill="#b7d4ee"/>
<rect x="414.83" y="238.81" width="4.32" height="2.08" fill="#468ccc"/>
<rect x="419.15" y="238.81" width="4.32" height="2.08" fill="#ec6247"/>
<rect x="423.47" y="238.81" width="4.32" height="2.08" fill="#ee7055"/>
<rect x="427.78" y="238.81" width="4.32" height="2.08" fill="#f7b6a5"/>
<rect x="432.10" y="238.81" width="4.32" height="2.08" fill="#b7d4ee"/>
<rect x="436.42" y="238.81" width="4.32" height="2.08" fill="#e5eef6"/>
<rect x="440.73" y="238.81" width="4.32" height="2.08" fill="#5b9ad4"/>
<rect x="445.05" y="238.81" width="4.32" height="2.08" fill="#f8c4b6"/>
<rect x="449.37" y="238.81" width="4.32" height="2.08" fill="#f7b09d"/>
<rect x="453.68" y="238.81" width="4.32" height="2.08" fill="#f6ad9a"/>
<rect x="406.20" y="240.90" width="4.32" height="2.08" fill="#f5f5f6"/>
<rect x="410.52" y="240.90" width="4.32" height="2.08" fill="#e4eef6"/>
<rect x="414.83" y="240.90" width="4.32" height="2.08" fill="#5395d2"/>
<rect x="419.15" y="240.90" width="4.32" height="2.08" fill="#ea5b41"/>
<rect x="423.47" y="240.90" width="4.32" height="2.08" fill="#ed674c"/>
<rect x="427.78" y="240.90" width="4.32" height="2.08" fill="#ed684d"/>
<rect x="432.10" y="240.90" width="4.32" height="2.08" fill="#ebf0f6"/>
<rect x="436.42" y="240.90" width="4.32" height="2.08" fill="#d4e6f4"/>
<rect x="440.73" y="240.90" width="4.32" height="2.08" fill="#e3edf6"/>
<rect x="445.05" y="240.90" width="4.32" height="2.08" fill="#f59e89"/>
<rect x="449.37" y="240.90" width="4.32" height="2.08" fill="#f8bbab"/>
<rect x="453.68" y="240.90" width="4.32" height="2.08" fill="#f6a894"/>
<rect x="406.20" y="242.98" width="4.32" height="2.08" fill="#bcd7ef"/>
<rect x="410.52" y="242.98" width="4.32" height="2.08" fill="#c8def2"/>
<rect x="414.83" y="242.98" width="4.32" height="2.08" fill="#5395d2"/>
<rect x="419.15" y="242.98" width="4.32" height="2.08" fill="#ee6e53"/>
<rect x="423.47" y="242.98" width="4.32" height="2.08" fill="#e64931"/>
<rect x="427.78" y="242.98" width="4.32" height="2.08" fill="#ec6347"/>
<rect x="432.10" y="242.98" width="4.32" height="2.08" fill="#cee2f3"/>
<rect x="436.42" y="242.98" width="4.32" height="2.08" fill="#d9e8f5"/>
<rect x="440.73" y="242.98" width="4.32" height="2.08" fill="#dbeaf6"/>
<rect x="445.05" y="242.98" width="4.32" height="2.08" fill="#f5a08a"/>
<rect x="449.37" y="242.98" width="4.32" height="2.08" fill="#f6a995"/>
<rect x="453.68" y="242.98" width="4.32" height="2.08" fill="#f7b9a8"/>
<rect x="406.20" y="245.06" width="4.32" height="2.08" fill="#cce1f2"/>
<rect x="410.52" y="245.06" width="4.32" height="2.08" fill="#9dc4e7"/>
<rect x="414.83" y="245.06" width="4.32" height="2.08" fill="#4c91d0"/>
<rect x="419.15" y="245.06" width="4.32" height="2.08" fill="#f2876e"/>
<rect x="423.47" y="245.06" width="4.32" height="2.08" fill="#f6a38e"/>
<rect x="427.78" y="245.06" width="4.32" height="2.08" fill="#f59780"/>
<rect x="432.10" y="245.06" width="4.32" height="2.08" fill="#91bce3"/>
<rect x="436.42" y="245.06" width="4.32" height="2.08" fill="#a6c9e9"/>
<rect x="440.73" y="245.06" width="4.32" height="2.08" fill="#a3c8e8"/>
<rect x="445.05" y="245.06" width="4.32" height="2.08" fill="#fae4df"/>
<rect x="449.37" y="245.06" width="4.32" height="2.08" fill="#f7b09e"/>
<rect x="453.68" y="245.06" width="4.32" height="2.08" fill="#f9e7e2"/>
<rect x="406.20" y="247.15" width="4.32" height="2.08" fill="#d3e5f4"/>
<rect x="410.52" y="247.15" width="4.32" height="2.08" fill="#afcfec"/>
<rect x="414.83" y="247.15" width="4.32" height="2.08" fill="#4a90d0"/>
<rect x="419.15" y="247.15" width="4.32" height="2.08" fill="#f8bdad"/>
<rect x="423.47" y="247.15" width="4.32" height="2.08" fill="#f59983"/>
<rect x="427.78" y="247.15" width="4.32" height="2.08" fill="#f59780"/>
<rect x="432.10" y="247.15" width="4.32" height="2.08" fill="#b5d3ed"/>
<rect x="436.42" y="247.15" width="4.32" height="2.08" fill="#bad6ee"/>
<rect x="440.73" y="247.15" width="4.32" height="2.08" fill="#c3dbf0"/>
<rect x="445.05" y="247.15" width="4.32" height="2.08" fill="#f9d1c6"/>
<rect x="449.37" y="247.15" width="4.32" height="2.08" fill="#fad9d1"/>
<rect x="453.68" y="247.15" width="4.32" height="2.08" fill="#f9e8e4"/>
<rect x="406.20" y="249.23" width="4.32" height="2.08" fill="#b8d5ee"/>
<rect x="410.52" y="249.23" width="4.32" height="2.08" fill="#498fcf"/>
<rect x="414.83" y="249.23" width="4.32" height="2.08" fill="#5f9dd5"/>
<rect x="419.15" y="249.23" width="4.32" height="2.08" fill="#ec6549"/>
<rect x="423.47" y="249.23" width="4.32" height="2.08" fill="#f18067"/>
<rect x="427.78" y="249.23" width="4.32" height="2.08" fill="#f59a84"/>
<rect x="432.10" y="249.23" width="4.32" height="2.08" fill="#bed8ef"/>
<rect x="436.42" y="249.23" width="4.32" height="2.08" fill="#8bb8e1"/>
<rect x="440.73" y="249.23" width="4.32" height="2.08" fill="#498fcf"/>
<rect x="445.05" y="249.23" width="4.32" height="2.08" fill="#f9eae7"/>
<rect x="449.37" y="249.23" width="4.32" height="2.08" fill="#f9cdc0"/>
<rect x="453.68" y="249.23" width="4.32" height="2.08" fill="#f8f6f5"/>
<rect x="406.20" y="251.31" width="4.32" height="2.08" fill="#c2dbf0"/>
<rect x="410.52" y="251.31" width="4.32" height="2.08" fill="#4b91d0"/>
<rect x="414.83" y="251.31" width="4.32" height="2.08" fill="#78acdc"/>
<rect x="419.15" y="251.31" width="4.32" height="2.08" fill="#f07b61"/>
<rect x="423.47" y="251.31" width="4.32" height="2.08" fill="#f8bbaa"/>
<rect x="427.78" y="251.31" width="4.32" height="2.08" fill="#f2876e"/>
<rect x="432.10" y="251.31" width="4.32" height="2.08" fill="#b0d0ec"/>
<rect x="436.42" y="251.31" width="4.32" height="2.08" fill="#e0ecf6"/>
<rect x="440.73" y="251.31" width="4.32" height="2.08" fill="#458ccc"/>
<rect x="445.05" y="251.31" width="4.32" height="2.08" fill="#f9d5cc"/>
<rect x="449.37" y="251.31" width="4.32" height="2.08" fill="#f9d7ce"/>
<rect x="453.68" y="251.31" width="4.32" height="2.08" fill="#f8c5b6"/>
<rect x="406.20" y="253.40" width="4.32" height="2.08" fill="#5396d2"/>
<rect x="410.52" y="253.40" width="4.32" height="2.08" fill="#5597d3"/>
<rect x="414.83" y="253.40" width="4.32" height="2.08" fill="#5a9ad4"/>
<rect x="419.15" y="253.40" width="4.32" height="2.08" fill="#f7b19f"/>
<rect x="423.47" y="253.40" width="4.32" height="2.08" fill="#f6ab97"/>
<rect x="427.78" y="253.40" width="4.32" height="2.08" fill="#f6ad9a"/>
<rect x="432.10" y="253.40" width="4.32" height="2.08" fill="#a7cae9"/>
<rect x="436.42" y="253.40" width="4.32" height="2.08" fill="#dfebf6"/>
<rect x="440.73" y="253.40" width="4.32" height="2.08" fill="#5395d2"/>
<rect x="445.05" y="253.40" width="4.32" height="2.08" fill="#f9d1c6"/>
<rect x="449.37" y="253.40" width="4.32" height="2.08" fill="#f9e8e4"/>
<rect x="453.68" y="253.40" width="4.32" height="2.08" fill="#f8bbaa"/>
<rect x="406.20" y="255.48" width="4.32" height="2.08" fill="#5295d2"/>
<rect x="410.52" y="255.48" width="4.32" height="2.08" fill="#5d9cd5"/>
<rect x="414.83" y="255.48" width="4.32" height="2.08" fill="#458ccc"/>
<rect x="419.15" y="255.48" width="4.32" height="2.08" fill="#f8bcac"/>
<rect x="423.47" y="255.48" width="4.32" height="2.08" fill="#f7b09d"/>
<rect x="427.78" y="255.48" width="4.32" height="2.08" fill="#f6ac98"/>
<rect x="432.10" y="255.48" width="4.32" height="2.08" fill="#8ebae2"/>
<rect x="436.42" y="255.48" width="4.32" height="2.08" fill="#90bce3"/>
<rect x="440.73" y="255.48" width="4.32" height="2.08" fill="#5094d2"/>
<rect x="445.05" y="255.48" width="4.32" height="2.08" fill="#f9e7e2"/>
<rect x="449.37" y="255.48" width="4.32" height="2.08" fill="#f8f3f3"/>
<rect x="453.68" y="255.48" width="4.32" height="2.08" fill="#f9e8e4"/>
<rect x="406.20" y="257.57" width="4.32" height="2.08" fill="#5496d3"/>
<rect x="410.52" y="257.57" width="4.32" height="2.08" fill="#6da5d9"/>
<rect x="414.83" y="257.57" width="4.32" height="2.08" fill="#5d9bd5"/>
<rect x="419.15" y="257.57" width="4.32" height="2.08" fill="#f7b8a6"/>
<rect x="423.47" y="257.57" width="4.32" height="2.08" fill="#f6a894"/>
<rect x="427.78" y="257.57" width="4.32" height="2.08" fill="#f8c0af"/>
<rect x="432.10" y="257.57" width="4.32" height="2.08" fill="#83b3df"/>
<rect x="436.42" y="257.57" width="4.32" height="2.08" fill="#5697d3"/>
<rect x="440.73" y="257.57" width="4.32" height="2.08" fill="#96bfe5"/>
<rect x="445.05" y="257.57" width="4.32" height="2.08" fill="#f9e8e5"/>
<rect x="449.37" y="257.57" width="4.32" height="2.08" fill="#fadfd9"/>
<rect x="453.68" y="257.57" width="4.32" height="2.08" fill="#f9e9e6"/>
<rect x="406.20" y="259.65" width="4.32" height="2.08" fill="#4a90d0"/>
<rect x="410.52" y="259.65" width="4.32" height="2.08" fill="#69a3d8"/>
<rect x="414.83" y="259.65" width="4.32" height="2.08" fill="#5899d4"/>
<rect x="419.15" y="259.65" width="4.32" height="2.08" fill="#f6a692"/>
<rect x="423.47" y="259.65" width="4.32" height="2.08" fill="#f8c8ba"/>
<rect x="427.78" y="259.65" width="4.32" height="2.08" fill="#fadbd3"/>
<rect x="432.10" y="259.65" width="4.32" height="2.08" fill="#7eb0de"/>
<rect x="436.42" y="259.65" width="4.32" height="2.08" fill="#5d9bd5"/>
<rect x="440.73" y="259.65" width="4.32" height="2.08" fill="#65a1d7"/>
<rect x="445.05" y="259.65" width="4.32" height="2.08" fill="#f8c2b3"/>
<rect x="449.37" y="259.65" width="4.32" height="2.08" fill="#fadcd5"/>
<rect x="453.68" y="259.65" width="4.32" height="2.08" fill="#f9d7cf"/>
<rect x="406.20" y="261.73" width="4.32" height="2.08" fill="#4d92d1"/>
<rect x="410.52" y="261.73" width="4.32" height="2.08" fill="#6ba4d9"/>
<rect x="414.83" y="261.73" width="4.32" height="2.08" fill="#5899d4"/>
<rect x="419.15" y="261.73" width="4.32" height="2.08" fill="#f59a84"/>
<rect x="423.47" y="261.73" width="4.32" height="2.08" fill="#f59780"/>
<rect x="427.78" y="261.73" width="4.32" height="2.08" fill="#f9cbbf"/>
<rect x="432.10" y="261.73" width="4.32" height="2.08" fill="#4b91d0"/>
<rect x="436.42" y="261.73" width="4.32" height="2.08" fill="#5697d3"/>
<rect x="440.73" y="261.73" width="4.32" height="2.08" fill="#7baedd"/>
<rect x="445.05" y="261.73" width="4.32" height="2.08" fill="#f9eae6"/>
<rect x="449.37" y="261.73" width="4.32" height="2.08" fill="#faddd6"/>
<rect x="453.68" y="261.73" width="4.32" height="2.08" fill="#f7f6f6"/>
<rect x="406.20" y="263.82" width="4.32" height="2.08" fill="#498fcf"/>
<rect x="410.52" y="263.82" width="4.32" height="2.08" fill="#639fd6"/>
<rect x="414.83" y="263.82" width="4.32" height="2.08" fill="#498fcf"/>
<rect x="419.15" y="263.82" width="4.32" height="2.08" fill="#f6ab97"/>
<rect x="423.47" y="263.82" width="4.32" height="2.08" fill="#f7b19e"/>
<rect x="427.78" y="263.82" width="4.32" height="2.08" fill="#f59a84"/>
<rect x="432.10" y="263.82" width="4.32" height="2.08" fill="#4f93d1"/>
<rect x="436.42" y="263.82" width="4.32" height="2.08" fill="#5e9cd5"/>
<rect x="440.73" y="263.82" width="4.32" height="2.08" fill="#9cc3e6"/>
<rect x="445.05" y="263.82" width="4.32" height="2.08" fill="#fae4df"/>
<rect x="449.37" y="263.82" width="4.32" height="2.08" fill="#f8f6f6"/>
<rect x="453.68" y="263.82" width="4.32" height="2.08" fill="#fae2dd"/>
</g>
<text x="434.60" y="27.90" font-size="9.0" text-anchor="middle" textLength="23.80" lengthAdjust="spacingAndGlyphs" stroke="#282828" stroke-width="0.25">T cells</text>
<text x="411.20" y="37.80" font-size="6.3" textLength="18.40" lengthAdjust="spacingAndGlyphs" >c-BiTE</text>
<text x="432.20" y="37.80" font-size="6.3" textLength="26.00" lengthAdjust="spacingAndGlyphs" >AMG 330</text>
<line x1="410.20" y1="39.80" x2="430.80" y2="39.80" stroke="#666" stroke-width="0.9" />
<line x1="432.00" y1="39.80" x2="458.00" y2="39.80" stroke="#666" stroke-width="0.9" />
<text x="385.00" y="48.00" font-size="7.2" textLength="22.30" lengthAdjust="spacingAndGlyphs" >cGAMP</text>
<text x="414.00" y="47.20" font-size="5.5" text-anchor="middle" >–</text>
<text x="427.20" y="47.20" font-size="5.5" text-anchor="middle" >+</text>
<text x="440.20" y="47.20" font-size="5.5" text-anchor="middle" >–</text>
<text x="453.20" y="47.20" font-size="5.5" text-anchor="middle" >+</text>
<path d="M458.30,51.00 L459.90,51.00 L466.60,28.75 L468.00,28.75" fill="none" stroke="#3a3a3a" stroke-width="0.6"/>
<text x="469.40" y="31.10" font-size="6.8" textLength="14.92" lengthAdjust="spacingAndGlyphs" >IFIT2</text>
<path d="M458.30,52.30 L459.90,52.30 L466.60,35.80 L468.00,35.80" fill="none" stroke="#3a3a3a" stroke-width="0.6"/>
<text x="469.40" y="38.15" font-size="6.8" textLength="17.05" lengthAdjust="spacingAndGlyphs" >OASL</text>
<path d="M458.30,53.60 L459.90,53.60 L466.60,42.80 L468.00,42.80" fill="none" stroke="#3a3a3a" stroke-width="0.6"/>
<text x="469.40" y="45.15" font-size="6.8" textLength="18.12" lengthAdjust="spacingAndGlyphs" >ISG20</text>
<path d="M458.30,55.20 L459.90,55.20 L466.60,49.80 L468.00,49.80" fill="none" stroke="#3a3a3a" stroke-width="0.6"/>
<text x="469.40" y="52.15" font-size="6.8" textLength="11.01" lengthAdjust="spacingAndGlyphs" >IFI6</text>
<path d="M458.30,58.00 L459.90,58.00 L466.60,56.80 L468.00,56.80" fill="none" stroke="#3a3a3a" stroke-width="0.6"/>
<text x="469.40" y="59.15" font-size="6.8" textLength="14.92" lengthAdjust="spacingAndGlyphs" >IFIT1</text>
<path d="M458.30,61.00 L459.90,61.00 L466.60,63.80 L468.00,63.80" fill="none" stroke="#3a3a3a" stroke-width="0.6"/>
<text x="469.40" y="66.15" font-size="6.8" textLength="13.14" lengthAdjust="spacingAndGlyphs" >MX1</text>
<path d="M458.30,66.00 L459.90,66.00 L466.60,70.80 L468.00,70.80" fill="none" stroke="#3a3a3a" stroke-width="0.6"/>
<text x="469.40" y="73.15" font-size="6.8" textLength="21.31" lengthAdjust="spacingAndGlyphs" >RSAD2</text>
<path d="M458.30,72.50 L459.90,72.50 L466.60,77.80 L468.00,77.80" fill="none" stroke="#3a3a3a" stroke-width="0.6"/>
<text x="469.40" y="80.15" font-size="6.8" textLength="18.46" lengthAdjust="spacingAndGlyphs" >GZMB</text>
<path d="M458.30,79.50 L459.90,79.50 L466.60,84.90 L468.00,84.90" fill="none" stroke="#3a3a3a" stroke-width="0.6"/>
<text x="469.40" y="87.25" font-size="6.8" textLength="15.27" lengthAdjust="spacingAndGlyphs" >IFNG</text>
<path d="M458.30,86.50 L459.90,86.50 L466.60,91.90 L468.00,91.90" fill="none" stroke="#3a3a3a" stroke-width="0.6"/>
<text x="469.40" y="94.25" font-size="6.8" textLength="23.44" lengthAdjust="spacingAndGlyphs" >NFKBID</text>
<path d="M458.30,93.50 L459.90,93.50 L466.60,98.90 L468.00,98.90" fill="none" stroke="#3a3a3a" stroke-width="0.6"/>
<text x="469.40" y="101.25" font-size="6.8" textLength="12.43" lengthAdjust="spacingAndGlyphs" >TNF</text>
<path d="M458.30,100.50 L459.90,100.50 L466.60,105.90 L468.00,105.90" fill="none" stroke="#3a3a3a" stroke-width="0.6"/>
<text x="469.40" y="108.25" font-size="6.8" textLength="24.87" lengthAdjust="spacingAndGlyphs" >CD40LG</text>
<path d="M458.30,121.20 L459.90,121.20 L466.60,121.20 L468.00,121.20" fill="none" stroke="#3a3a3a" stroke-width="0.6"/>
<text x="469.40" y="123.55" font-size="6.8" textLength="28.76" lengthAdjust="spacingAndGlyphs" >TNFRSF4</text>
<path d="M458.30,128.20 L459.90,128.20 L466.60,128.20 L468.00,128.20" fill="none" stroke="#3a3a3a" stroke-width="0.6"/>
<text x="469.40" y="130.55" font-size="6.8" textLength="17.77" lengthAdjust="spacingAndGlyphs" >IL2RA</text>
<path d="M458.30,136.60 L459.90,136.60 L466.60,136.60 L468.00,136.60" fill="none" stroke="#3a3a3a" stroke-width="0.6"/>
<text x="469.40" y="138.95" font-size="6.8" textLength="19.54" lengthAdjust="spacingAndGlyphs" >TBX21</text>
<path d="M458.30,154.50 L459.90,154.50 L466.60,154.50 L468.00,154.50" fill="none" stroke="#3a3a3a" stroke-width="0.6"/>
<text x="469.40" y="156.85" font-size="6.8" textLength="8.89" lengthAdjust="spacingAndGlyphs" >IL2</text>
<path d="M458.30,192.00 L459.90,192.00 L466.60,184.20 L468.00,184.20" fill="none" stroke="#3a3a3a" stroke-width="0.6"/>
<text x="469.40" y="186.55" font-size="6.8" textLength="25.93" lengthAdjust="spacingAndGlyphs" >CDKN1A</text>
<path d="M458.30,193.50 L459.90,193.50 L466.60,191.10 L468.00,191.10" fill="none" stroke="#3a3a3a" stroke-width="0.6"/>
<text x="469.40" y="193.45" font-size="6.8" textLength="23.45" lengthAdjust="spacingAndGlyphs" >ZBTB32</text>
<path d="M458.30,195.50 L459.90,195.50 L466.60,198.10 L468.00,198.10" fill="none" stroke="#3a3a3a" stroke-width="0.6"/>
<text x="469.40" y="200.45" font-size="6.8" textLength="18.12" lengthAdjust="spacingAndGlyphs" >AREG</text>
<path d="M458.30,236.00 L459.90,236.00 L466.60,218.90 L468.00,218.90" fill="none" stroke="#3a3a3a" stroke-width="0.6"/>
<text x="469.40" y="221.25" font-size="6.8" textLength="27.70" lengthAdjust="spacingAndGlyphs" >TNFSF10</text>
<path d="M458.30,238.00 L459.90,238.00 L466.60,226.00 L468.00,226.00" fill="none" stroke="#3a3a3a" stroke-width="0.6"/>
<text x="469.40" y="228.35" font-size="6.8" textLength="17.05" lengthAdjust="spacingAndGlyphs" >GBP5</text>
<path d="M458.30,240.00 L459.90,240.00 L466.60,233.30 L468.00,233.30" fill="none" stroke="#3a3a3a" stroke-width="0.6"/>
<text x="469.40" y="235.65" font-size="6.8" textLength="22.03" lengthAdjust="spacingAndGlyphs" >EPSTI1</text>
<path d="M458.30,243.00 L459.90,243.00 L466.60,240.50 L468.00,240.50" fill="none" stroke="#3a3a3a" stroke-width="0.6"/>
<text x="469.40" y="242.85" font-size="6.8" textLength="17.05" lengthAdjust="spacingAndGlyphs" >OAS2</text>
<path d="M458.30,246.00 L459.90,246.00 L466.60,247.60 L468.00,247.60" fill="none" stroke="#3a3a3a" stroke-width="0.6"/>
<text x="469.40" y="249.95" font-size="6.8" textLength="18.12" lengthAdjust="spacingAndGlyphs" >IFI44L</text>
<path d="M458.30,249.50 L459.90,249.50 L466.60,254.70 L468.00,254.70" fill="none" stroke="#3a3a3a" stroke-width="0.6"/>
<text x="469.40" y="257.05" font-size="6.8" textLength="13.14" lengthAdjust="spacingAndGlyphs" >MX2</text>
<path d="M458.30,252.00 L459.90,252.00 L466.60,261.60 L468.00,261.60" fill="none" stroke="#3a3a3a" stroke-width="0.6"/>
<text x="469.40" y="263.95" font-size="6.8" textLength="17.05" lengthAdjust="spacingAndGlyphs" >OAS1</text>
<defs><linearGradient id="cbT" x1="0" y1="0" x2="0" y2="1"><stop offset="0.000" stop-color="#b8101a"/><stop offset="0.250" stop-color="#ee8070"/><stop offset="0.500" stop-color="#f7f7f7"/><stop offset="0.750" stop-color="#7fb0dc"/><stop offset="1.000" stop-color="#1f65aa"/></linearGradient></defs>
<rect x="492.90" y="241.10" width="5.40" height="25.20" fill="url(#cbT)"/>
<text x="500.80" y="245.90" font-size="6.3" >10</text>
<text x="500.80" y="256.40" font-size="6.3" >5</text>
<text x="500.80" y="265.80" font-size="6.3" >0</text>
<path d="M405.80,50.24H404.84V52.33H405.80 M404.84,51.28H403.81V54.41H405.80 M405.80,56.49H404.93V58.58H405.80 M404.93,57.53H404.09V60.66H405.80 M405.80,62.74H404.53V64.83H405.80 M404.53,63.79H404.11V66.91H405.80 M404.09,59.10H401.83V65.35H404.11 M403.81,52.85H400.23V62.22H401.83 M405.80,68.99H404.97V71.08H405.80 M404.97,70.04H403.78V73.16H405.80 M405.80,75.25H404.76V77.33H405.80 M403.78,71.60H402.55V76.29H404.76 M405.80,83.58H404.69V85.66H405.80 M405.80,81.50H403.97V84.62H404.69 M405.80,79.41H403.20V83.06H403.97 M405.80,87.75H404.82V89.83H405.80 M405.80,94.00H404.66V96.08H405.80 M405.80,91.91H403.72V95.04H404.66 M404.82,88.79H402.57V93.48H403.72 M403.20,81.24H400.07V91.13H402.57 M402.55,73.94H398.40V86.18H400.07 M400.23,57.53H396.66V80.06H398.40 M405.80,98.17H404.74V100.25H405.80 M405.80,102.33H404.59V104.42H405.80 M404.74,99.21H403.16V103.38H404.59 M405.80,106.50H404.48V108.58H405.80 M404.48,107.54H403.80V110.67H405.80 M403.16,101.29H401.22V109.11H403.80 M405.80,114.84H404.74V116.92H405.80 M405.80,112.75H404.00V115.88H404.74 M405.80,119.00H404.76V121.09H405.80 M405.80,123.17H404.68V125.25H405.80 M404.76,120.04H402.88V124.21H404.68 M405.80,127.34H404.70V129.42H405.80 M404.70,128.38H404.09V131.50H405.80 M402.88,122.13H401.55V129.94H404.09 M404.00,114.31H399.85V126.03H401.55 M401.22,105.20H397.50V120.17H399.85 M405.80,133.59H404.53V135.67H405.80 M404.53,134.63H403.78V137.76H405.80 M405.80,141.92H404.42V144.01H405.80 M405.80,139.84H403.76V142.96H404.42 M403.76,141.40H403.07V146.09H405.80 M403.78,136.19H401.41V143.75H403.07 M405.80,150.26H404.50V152.34H405.80 M405.80,148.17H403.58V151.30H404.50 M405.80,154.42H404.50V156.51H405.80 M403.58,149.74H402.37V155.47H404.50 M405.80,158.59H404.96V160.68H405.80 M405.80,162.76H404.65V164.84H405.80 M404.96,159.63H403.22V163.80H404.65 M402.37,152.60H400.36V161.72H403.22 M401.41,139.97H398.06V157.16H400.36 M405.80,166.93H404.62V169.01H405.80 M404.62,167.97H403.83V171.09H405.80 M405.80,175.26H404.88V177.34H405.80 M405.80,173.18H403.76V176.30H404.88 M403.83,169.53H401.58V174.74H403.76 M405.80,179.43H404.48V181.51H405.80 M404.48,180.47H403.70V183.60H405.80 M405.80,185.68H404.98V187.76H405.80 M403.70,182.03H402.67V186.72H404.98 M405.80,189.85H404.92V191.93H405.80 M404.92,190.89H403.73V194.01H405.80 M402.67,184.38H400.89V192.45H403.73 M401.58,172.14H398.88V188.41H400.89 M398.06,148.56H395.38V180.27H398.88 M405.80,198.18H404.72V200.26H405.80 M405.80,196.10H403.91V199.22H404.72 M405.80,202.35H404.76V204.43H405.80 M405.80,208.60H404.92V210.68H405.80 M405.80,206.52H403.57V209.64H404.92 M404.76,203.39H402.37V208.08H403.57 M403.91,197.66H400.97V205.73H402.37 M405.80,214.85H404.90V216.93H405.80 M405.80,212.77H403.68V215.89H404.90 M403.68,214.33H403.25V219.02H405.80 M405.80,221.10H404.66V223.19H405.80 M404.66,222.14H403.97V225.27H405.80 M403.25,216.67H400.99V223.71H403.97 M400.97,201.70H398.15V220.19H400.99 M395.38,164.42H393.12V210.94H398.15 M405.80,227.35H404.80V229.44H405.80 M405.80,231.52H404.95V233.60H405.80 M404.80,228.39H403.16V232.56H404.95 M405.80,235.69H404.81V237.77H405.80 M404.81,236.73H403.59V239.85H405.80 M403.16,230.48H401.39V238.29H403.59 M405.80,241.94H404.98V244.02H405.80 M405.80,246.11H404.50V248.19H405.80 M404.50,247.15H403.53V250.27H405.80 M404.98,242.98H402.34V248.71H403.53 M405.80,254.44H404.41V256.52H405.80 M405.80,252.36H403.68V255.48H404.41 M402.34,245.84H400.79V253.92H403.68 M405.80,258.61H404.87V260.69H405.80 M405.80,262.77H404.73V264.86H405.80 M404.87,259.65H403.23V263.82H404.73 M400.79,249.88H399.49V261.73H403.23 M401.39,234.38H397.20V255.81H399.49 M393.12,187.68H391.38V245.10H397.20 M397.50,112.69H389.94V216.39H391.38 M396.66,68.80H388.60V164.54H389.94" fill="none" stroke="#9a9a9a" stroke-width="0.45"/>
<g shape-rendering="crispEdges">
<rect x="407.80" y="308.50" width="4.24" height="2.09" fill="#e57161"/>
<rect x="412.04" y="308.50" width="4.24" height="2.09" fill="#ed7b6b"/>
<rect x="416.28" y="308.50" width="4.24" height="2.09" fill="#f08474"/>
<rect x="420.52" y="308.50" width="4.24" height="2.09" fill="#d22222"/>
<rect x="424.77" y="308.50" width="4.24" height="2.09" fill="#dd4131"/>
<rect x="429.01" y="308.50" width="4.24" height="2.09" fill="#e35343"/>
<rect x="433.25" y="308.50" width="4.24" height="2.09" fill="#f08272"/>
<rect x="437.49" y="308.50" width="4.24" height="2.09" fill="#ec7c6c"/>
<rect x="441.73" y="308.50" width="4.24" height="2.09" fill="#eb7d6d"/>
<rect x="445.98" y="308.50" width="4.24" height="2.09" fill="#ea7666"/>
<rect x="450.22" y="308.50" width="4.24" height="2.09" fill="#e87464"/>
<rect x="454.46" y="308.50" width="4.24" height="2.09" fill="#ef7d6d"/>
<rect x="407.80" y="310.59" width="4.24" height="2.09" fill="#fbe2de"/>
<rect x="412.04" y="310.59" width="4.24" height="2.09" fill="#ffe8e4"/>
<rect x="416.28" y="310.59" width="4.24" height="2.09" fill="#f7deda"/>
<rect x="420.52" y="310.59" width="4.24" height="2.09" fill="#f3d6d0"/>
<rect x="424.77" y="310.59" width="4.24" height="2.09" fill="#fbded8"/>
<rect x="429.01" y="310.59" width="4.24" height="2.09" fill="#f4d7d1"/>
<rect x="433.25" y="310.59" width="4.24" height="2.09" fill="#f0dcd8"/>
<rect x="437.49" y="310.59" width="4.24" height="2.09" fill="#f9e5e1"/>
<rect x="441.73" y="310.59" width="4.24" height="2.09" fill="#ffebe7"/>
<rect x="445.98" y="310.59" width="4.24" height="2.09" fill="#ca181e"/>
<rect x="450.22" y="310.59" width="4.24" height="2.09" fill="#c7151b"/>
<rect x="454.46" y="310.59" width="4.24" height="2.09" fill="#c6141a"/>
<rect x="407.80" y="312.68" width="4.24" height="2.09" fill="#f3ebeb"/>
<rect x="412.04" y="312.68" width="4.24" height="2.09" fill="#f1e9e9"/>
<rect x="416.28" y="312.68" width="4.24" height="2.09" fill="#f5eded"/>
<rect x="420.52" y="312.68" width="4.24" height="2.09" fill="#f9eded"/>
<rect x="424.77" y="312.68" width="4.24" height="2.09" fill="#fbefef"/>
<rect x="429.01" y="312.68" width="4.24" height="2.09" fill="#f8ecec"/>
<rect x="433.25" y="312.68" width="4.24" height="2.09" fill="#f4eef0"/>
<rect x="437.49" y="312.68" width="4.24" height="2.09" fill="#f0eaec"/>
<rect x="441.73" y="312.68" width="4.24" height="2.09" fill="#f3edef"/>
<rect x="445.98" y="312.68" width="4.24" height="2.09" fill="#f6dad4"/>
<rect x="450.22" y="312.68" width="4.24" height="2.09" fill="#f9ddd7"/>
<rect x="454.46" y="312.68" width="4.24" height="2.09" fill="#faded8"/>
<rect x="407.80" y="314.77" width="4.24" height="2.09" fill="#f4ecec"/>
<rect x="412.04" y="314.77" width="4.24" height="2.09" fill="#efe7e7"/>
<rect x="416.28" y="314.77" width="4.24" height="2.09" fill="#f8f0f0"/>
<rect x="420.52" y="314.77" width="4.24" height="2.09" fill="#f2e6e6"/>
<rect x="424.77" y="314.77" width="4.24" height="2.09" fill="#f7ebeb"/>
<rect x="429.01" y="314.77" width="4.24" height="2.09" fill="#f8ecec"/>
<rect x="433.25" y="314.77" width="4.24" height="2.09" fill="#f2ecee"/>
<rect x="437.49" y="314.77" width="4.24" height="2.09" fill="#f2ecee"/>
<rect x="441.73" y="314.77" width="4.24" height="2.09" fill="#eee8ea"/>
<rect x="445.98" y="314.77" width="4.24" height="2.09" fill="#faded8"/>
<rect x="450.22" y="314.77" width="4.24" height="2.09" fill="#f6dad4"/>
<rect x="454.46" y="314.77" width="4.24" height="2.09" fill="#f4d8d2"/>
<rect x="407.80" y="316.85" width="4.24" height="2.09" fill="#f9f1f1"/>
<rect x="412.04" y="316.85" width="4.24" height="2.09" fill="#f9f1f1"/>
<rect x="416.28" y="316.85" width="4.24" height="2.09" fill="#f3ebeb"/>
<rect x="420.52" y="316.85" width="4.24" height="2.09" fill="#faeeee"/>
<rect x="424.77" y="316.85" width="4.24" height="2.09" fill="#f8ecec"/>
<rect x="429.01" y="316.85" width="4.24" height="2.09" fill="#fbefef"/>
<rect x="433.25" y="316.85" width="4.24" height="2.09" fill="#f4eef0"/>
<rect x="437.49" y="316.85" width="4.24" height="2.09" fill="#f0eaec"/>
<rect x="441.73" y="316.85" width="4.24" height="2.09" fill="#f0eaec"/>
<rect x="445.98" y="316.85" width="4.24" height="2.09" fill="#f8dcd6"/>
<rect x="450.22" y="316.85" width="4.24" height="2.09" fill="#f7dbd5"/>
<rect x="454.46" y="316.85" width="4.24" height="2.09" fill="#f7dbd5"/>
<rect x="407.80" y="318.94" width="4.24" height="2.09" fill="#e5edf7"/>
<rect x="412.04" y="318.94" width="4.24" height="2.09" fill="#e3ebf5"/>
<rect x="416.28" y="318.94" width="4.24" height="2.09" fill="#e1e9f3"/>
<rect x="420.52" y="318.94" width="4.24" height="2.09" fill="#eaf0f8"/>
<rect x="424.77" y="318.94" width="4.24" height="2.09" fill="#e6ecf4"/>
<rect x="429.01" y="318.94" width="4.24" height="2.09" fill="#ebf1f9"/>
<rect x="433.25" y="318.94" width="4.24" height="2.09" fill="#e0eaf2"/>
<rect x="437.49" y="318.94" width="4.24" height="2.09" fill="#dfe9f1"/>
<rect x="441.73" y="318.94" width="4.24" height="2.09" fill="#e4eef6"/>
<rect x="445.98" y="318.94" width="4.24" height="2.09" fill="#f0f2f6"/>
<rect x="450.22" y="318.94" width="4.24" height="2.09" fill="#ebedf1"/>
<rect x="454.46" y="318.94" width="4.24" height="2.09" fill="#edeff3"/>
<rect x="407.80" y="321.03" width="4.24" height="2.09" fill="#cee2f6"/>
<rect x="412.04" y="321.03" width="4.24" height="2.09" fill="#c5d9ed"/>
<rect x="416.28" y="321.03" width="4.24" height="2.09" fill="#c5d9ed"/>
<rect x="420.52" y="321.03" width="4.24" height="2.09" fill="#d81e24"/>
<rect x="424.77" y="321.03" width="4.24" height="2.09" fill="#e0262c"/>
<rect x="429.01" y="321.03" width="4.24" height="2.09" fill="#d1171d"/>
<rect x="433.25" y="321.03" width="4.24" height="2.09" fill="#b9d3e3"/>
<rect x="437.49" y="321.03" width="4.24" height="2.09" fill="#bdd7e7"/>
<rect x="441.73" y="321.03" width="4.24" height="2.09" fill="#c2dcec"/>
<rect x="445.98" y="321.03" width="4.24" height="2.09" fill="#d2161a"/>
<rect x="450.22" y="321.03" width="4.24" height="2.09" fill="#d5191d"/>
<rect x="454.46" y="321.03" width="4.24" height="2.09" fill="#d11519"/>
<rect x="407.80" y="323.12" width="4.24" height="2.09" fill="#c4d8ec"/>
<rect x="412.04" y="323.12" width="4.24" height="2.09" fill="#bfd3e7"/>
<rect x="416.28" y="323.12" width="4.24" height="2.09" fill="#bed2e6"/>
<rect x="420.52" y="323.12" width="4.24" height="2.09" fill="#d0161c"/>
<rect x="424.77" y="323.12" width="4.24" height="2.09" fill="#d2181e"/>
<rect x="429.01" y="323.12" width="4.24" height="2.09" fill="#cd1319"/>
<rect x="433.25" y="323.12" width="4.24" height="2.09" fill="#bad4e4"/>
<rect x="437.49" y="323.12" width="4.24" height="2.09" fill="#b8d2e2"/>
<rect x="441.73" y="323.12" width="4.24" height="2.09" fill="#b8d2e2"/>
<rect x="445.98" y="323.12" width="4.24" height="2.09" fill="#cd1115"/>
<rect x="450.22" y="323.12" width="4.24" height="2.09" fill="#d11519"/>
<rect x="454.46" y="323.12" width="4.24" height="2.09" fill="#cc1014"/>
<rect x="407.80" y="325.21" width="4.24" height="2.09" fill="#bdd1e7"/>
<rect x="412.04" y="325.21" width="4.24" height="2.09" fill="#b9cde3"/>
<rect x="416.28" y="325.21" width="4.24" height="2.09" fill="#c4d8ee"/>
<rect x="420.52" y="325.21" width="4.24" height="2.09" fill="#ed5d45"/>
<rect x="424.77" y="325.21" width="4.24" height="2.09" fill="#f6664e"/>
<rect x="429.01" y="325.21" width="4.24" height="2.09" fill="#ee5e46"/>
<rect x="433.25" y="325.21" width="4.24" height="2.09" fill="#b5d1e1"/>
<rect x="437.49" y="325.21" width="4.24" height="2.09" fill="#bcd8e8"/>
<rect x="441.73" y="325.21" width="4.24" height="2.09" fill="#b9d5e5"/>
<rect x="445.98" y="325.21" width="4.24" height="2.09" fill="#e9452f"/>
<rect x="450.22" y="325.21" width="4.24" height="2.09" fill="#ee4a34"/>
<rect x="454.46" y="325.21" width="4.24" height="2.09" fill="#ed4933"/>
<rect x="407.80" y="327.30" width="4.24" height="2.09" fill="#bed2e8"/>
<rect x="412.04" y="327.30" width="4.24" height="2.09" fill="#bacee4"/>
<rect x="416.28" y="327.30" width="4.24" height="2.09" fill="#c0d4ea"/>
<rect x="420.52" y="327.30" width="4.24" height="2.09" fill="#f4644c"/>
<rect x="424.77" y="327.30" width="4.24" height="2.09" fill="#f5654d"/>
<rect x="429.01" y="327.30" width="4.24" height="2.09" fill="#f6664e"/>
<rect x="433.25" y="327.30" width="4.24" height="2.09" fill="#b5d1e1"/>
<rect x="437.49" y="327.30" width="4.24" height="2.09" fill="#bad6e6"/>
<rect x="441.73" y="327.30" width="4.24" height="2.09" fill="#b1cddd"/>
<rect x="445.98" y="327.30" width="4.24" height="2.09" fill="#ee4a34"/>
<rect x="450.22" y="327.30" width="4.24" height="2.09" fill="#eb4731"/>
<rect x="454.46" y="327.30" width="4.24" height="2.09" fill="#e33f29"/>
<rect x="407.80" y="329.38" width="4.24" height="2.09" fill="#c0d4ea"/>
<rect x="412.04" y="329.38" width="4.24" height="2.09" fill="#c3d7ed"/>
<rect x="416.28" y="329.38" width="4.24" height="2.09" fill="#c0d4ea"/>
<rect x="420.52" y="329.38" width="4.24" height="2.09" fill="#c8d8eb"/>
<rect x="424.77" y="329.38" width="4.24" height="2.09" fill="#cfdff2"/>
<rect x="429.01" y="329.38" width="4.24" height="2.09" fill="#cadaed"/>
<rect x="433.25" y="329.38" width="4.24" height="2.09" fill="#c2d1e6"/>
<rect x="437.49" y="329.38" width="4.24" height="2.09" fill="#c3d2e7"/>
<rect x="441.73" y="329.38" width="4.24" height="2.09" fill="#d2e1f6"/>
<rect x="445.98" y="329.38" width="4.24" height="2.09" fill="#d0def0"/>
<rect x="450.22" y="329.38" width="4.24" height="2.09" fill="#cfddef"/>
<rect x="454.46" y="329.38" width="4.24" height="2.09" fill="#cbd9eb"/>
<rect x="407.80" y="331.47" width="4.24" height="2.09" fill="#bcd0e6"/>
<rect x="412.04" y="331.47" width="4.24" height="2.09" fill="#c4d8ee"/>
<rect x="416.28" y="331.47" width="4.24" height="2.09" fill="#bdd1e7"/>
<rect x="420.52" y="331.47" width="4.24" height="2.09" fill="#d1e1f4"/>
<rect x="424.77" y="331.47" width="4.24" height="2.09" fill="#bfcfe2"/>
<rect x="429.01" y="331.47" width="4.24" height="2.09" fill="#c2d2e5"/>
<rect x="433.25" y="331.47" width="4.24" height="2.09" fill="#d7e6fb"/>
<rect x="437.49" y="331.47" width="4.24" height="2.09" fill="#c6d5ea"/>
<rect x="441.73" y="331.47" width="4.24" height="2.09" fill="#c0cfe4"/>
<rect x="445.98" y="331.47" width="4.24" height="2.09" fill="#d4e2f4"/>
<rect x="450.22" y="331.47" width="4.24" height="2.09" fill="#c9d7e9"/>
<rect x="454.46" y="331.47" width="4.24" height="2.09" fill="#c8d6e8"/>
<rect x="407.80" y="333.56" width="4.24" height="2.09" fill="#c3d7ed"/>
<rect x="412.04" y="333.56" width="4.24" height="2.09" fill="#bed2e8"/>
<rect x="416.28" y="333.56" width="4.24" height="2.09" fill="#c4d8ee"/>
<rect x="420.52" y="333.56" width="4.24" height="2.09" fill="#cbdbee"/>
<rect x="424.77" y="333.56" width="4.24" height="2.09" fill="#cadaed"/>
<rect x="429.01" y="333.56" width="4.24" height="2.09" fill="#d0e0f3"/>
<rect x="433.25" y="333.56" width="4.24" height="2.09" fill="#cbdaef"/>
<rect x="437.49" y="333.56" width="4.24" height="2.09" fill="#c9d8ed"/>
<rect x="441.73" y="333.56" width="4.24" height="2.09" fill="#cddcf1"/>
<rect x="445.98" y="333.56" width="4.24" height="2.09" fill="#cad8ea"/>
<rect x="450.22" y="333.56" width="4.24" height="2.09" fill="#d6e4f6"/>
<rect x="454.46" y="333.56" width="4.24" height="2.09" fill="#d4e2f4"/>
<rect x="407.80" y="335.65" width="4.24" height="2.09" fill="#bfd3e9"/>
<rect x="412.04" y="335.65" width="4.24" height="2.09" fill="#bdd1e7"/>
<rect x="416.28" y="335.65" width="4.24" height="2.09" fill="#c3d7ed"/>
<rect x="420.52" y="335.65" width="4.24" height="2.09" fill="#c9d9ec"/>
<rect x="424.77" y="335.65" width="4.24" height="2.09" fill="#d0e0f3"/>
<rect x="429.01" y="335.65" width="4.24" height="2.09" fill="#c5d5e8"/>
<rect x="433.25" y="335.65" width="4.24" height="2.09" fill="#cbdaef"/>
<rect x="437.49" y="335.65" width="4.24" height="2.09" fill="#c8d7ec"/>
<rect x="441.73" y="335.65" width="4.24" height="2.09" fill="#cad9ee"/>
<rect x="445.98" y="335.65" width="4.24" height="2.09" fill="#d1dff1"/>
<rect x="450.22" y="335.65" width="4.24" height="2.09" fill="#d8e6f8"/>
<rect x="454.46" y="335.65" width="4.24" height="2.09" fill="#c7d5e7"/>
<rect x="407.80" y="337.74" width="4.24" height="2.09" fill="#c2d6ec"/>
<rect x="412.04" y="337.74" width="4.24" height="2.09" fill="#bfd3e9"/>
<rect x="416.28" y="337.74" width="4.24" height="2.09" fill="#c7dbf1"/>
<rect x="420.52" y="337.74" width="4.24" height="2.09" fill="#cadaed"/>
<rect x="424.77" y="337.74" width="4.24" height="2.09" fill="#ccdcef"/>
<rect x="429.01" y="337.74" width="4.24" height="2.09" fill="#cdddf0"/>
<rect x="433.25" y="337.74" width="4.24" height="2.09" fill="#c6d5ea"/>
<rect x="437.49" y="337.74" width="4.24" height="2.09" fill="#c8d7ec"/>
<rect x="441.73" y="337.74" width="4.24" height="2.09" fill="#cad9ee"/>
<rect x="445.98" y="337.74" width="4.24" height="2.09" fill="#cedcee"/>
<rect x="450.22" y="337.74" width="4.24" height="2.09" fill="#cfddef"/>
<rect x="454.46" y="337.74" width="4.24" height="2.09" fill="#d6e4f6"/>
<rect x="407.80" y="339.83" width="4.24" height="2.09" fill="#c1d5eb"/>
<rect x="412.04" y="339.83" width="4.24" height="2.09" fill="#cce0f6"/>
<rect x="416.28" y="339.83" width="4.24" height="2.09" fill="#c4d8ee"/>
<rect x="420.52" y="339.83" width="4.24" height="2.09" fill="#d3e3f6"/>
<rect x="424.77" y="339.83" width="4.24" height="2.09" fill="#d1e1f4"/>
<rect x="429.01" y="339.83" width="4.24" height="2.09" fill="#cfdff2"/>
<rect x="433.25" y="339.83" width="4.24" height="2.09" fill="#c5d4e9"/>
<rect x="437.49" y="339.83" width="4.24" height="2.09" fill="#cddcf1"/>
<rect x="441.73" y="339.83" width="4.24" height="2.09" fill="#c2d1e6"/>
<rect x="445.98" y="339.83" width="4.24" height="2.09" fill="#d4e2f4"/>
<rect x="450.22" y="339.83" width="4.24" height="2.09" fill="#d9e7f9"/>
<rect x="454.46" y="339.83" width="4.24" height="2.09" fill="#d8e6f8"/>
<rect x="407.80" y="341.92" width="4.24" height="2.09" fill="#d1e5fb"/>
<rect x="412.04" y="341.92" width="4.24" height="2.09" fill="#c1d5eb"/>
<rect x="416.28" y="341.92" width="4.24" height="2.09" fill="#c5d9ef"/>
<rect x="420.52" y="341.92" width="4.24" height="2.09" fill="#c8d8eb"/>
<rect x="424.77" y="341.92" width="4.24" height="2.09" fill="#c9d9ec"/>
<rect x="429.01" y="341.92" width="4.24" height="2.09" fill="#d5e5f8"/>
<rect x="433.25" y="341.92" width="4.24" height="2.09" fill="#cddcf1"/>
<rect x="437.49" y="341.92" width="4.24" height="2.09" fill="#d1e0f5"/>
<rect x="441.73" y="341.92" width="4.24" height="2.09" fill="#ceddf2"/>
<rect x="445.98" y="341.92" width="4.24" height="2.09" fill="#d7e5f7"/>
<rect x="450.22" y="341.92" width="4.24" height="2.09" fill="#ccdaec"/>
<rect x="454.46" y="341.92" width="4.24" height="2.09" fill="#d3e1f3"/>
<rect x="407.80" y="344.00" width="4.24" height="2.09" fill="#adc7e3"/>
<rect x="412.04" y="344.00" width="4.24" height="2.09" fill="#aec8e4"/>
<rect x="416.28" y="344.00" width="4.24" height="2.09" fill="#b2cce8"/>
<rect x="420.52" y="344.00" width="4.24" height="2.09" fill="#b5cde7"/>
<rect x="424.77" y="344.00" width="4.24" height="2.09" fill="#bad2ec"/>
<rect x="429.01" y="344.00" width="4.24" height="2.09" fill="#b1c9e3"/>
<rect x="433.25" y="344.00" width="4.24" height="2.09" fill="#d3e1f1"/>
<rect x="437.49" y="344.00" width="4.24" height="2.09" fill="#d1dfef"/>
<rect x="441.73" y="344.00" width="4.24" height="2.09" fill="#d1dfef"/>
<rect x="445.98" y="344.00" width="4.24" height="2.09" fill="#d8e4f2"/>
<rect x="450.22" y="344.00" width="4.24" height="2.09" fill="#d6e2f0"/>
<rect x="454.46" y="344.00" width="4.24" height="2.09" fill="#d9e5f3"/>
<rect x="407.80" y="346.09" width="4.24" height="2.09" fill="#b0cae6"/>
<rect x="412.04" y="346.09" width="4.24" height="2.09" fill="#abc5e1"/>
<rect x="416.28" y="346.09" width="4.24" height="2.09" fill="#b2cce8"/>
<rect x="420.52" y="346.09" width="4.24" height="2.09" fill="#bfd7f1"/>
<rect x="424.77" y="346.09" width="4.24" height="2.09" fill="#aec6e0"/>
<rect x="429.01" y="346.09" width="4.24" height="2.09" fill="#b1c9e3"/>
<rect x="433.25" y="346.09" width="4.24" height="2.09" fill="#d4e2f2"/>
<rect x="437.49" y="346.09" width="4.24" height="2.09" fill="#dae8f8"/>
<rect x="441.73" y="346.09" width="4.24" height="2.09" fill="#d3e1f1"/>
<rect x="445.98" y="346.09" width="4.24" height="2.09" fill="#d7e3f1"/>
<rect x="450.22" y="346.09" width="4.24" height="2.09" fill="#e2eefc"/>
<rect x="454.46" y="346.09" width="4.24" height="2.09" fill="#dae6f4"/>
<rect x="407.80" y="348.18" width="4.24" height="2.09" fill="#adc7e3"/>
<rect x="412.04" y="348.18" width="4.24" height="2.09" fill="#b5cfeb"/>
<rect x="416.28" y="348.18" width="4.24" height="2.09" fill="#afc9e5"/>
<rect x="420.52" y="348.18" width="4.24" height="2.09" fill="#bbd3ed"/>
<rect x="424.77" y="348.18" width="4.24" height="2.09" fill="#b5cde7"/>
<rect x="429.01" y="348.18" width="4.24" height="2.09" fill="#b7cfe9"/>
<rect x="433.25" y="348.18" width="4.24" height="2.09" fill="#d7e5f5"/>
<rect x="437.49" y="348.18" width="4.24" height="2.09" fill="#d5e3f3"/>
<rect x="441.73" y="348.18" width="4.24" height="2.09" fill="#d0deee"/>
<rect x="445.98" y="348.18" width="4.24" height="2.09" fill="#d9e5f3"/>
<rect x="450.22" y="348.18" width="4.24" height="2.09" fill="#d8e4f2"/>
<rect x="454.46" y="348.18" width="4.24" height="2.09" fill="#dce8f6"/>
<rect x="407.80" y="350.27" width="4.24" height="2.09" fill="#b5cfeb"/>
<rect x="412.04" y="350.27" width="4.24" height="2.09" fill="#b0cae6"/>
<rect x="416.28" y="350.27" width="4.24" height="2.09" fill="#b7d1ed"/>
<rect x="420.52" y="350.27" width="4.24" height="2.09" fill="#b7cfe9"/>
<rect x="424.77" y="350.27" width="4.24" height="2.09" fill="#bed6f0"/>
<rect x="429.01" y="350.27" width="4.24" height="2.09" fill="#b5cde7"/>
<rect x="433.25" y="350.27" width="4.24" height="2.09" fill="#d6e4f4"/>
<rect x="437.49" y="350.27" width="4.24" height="2.09" fill="#cbd9e9"/>
<rect x="441.73" y="350.27" width="4.24" height="2.09" fill="#ddebfb"/>
<rect x="445.98" y="350.27" width="4.24" height="2.09" fill="#e1edfb"/>
<rect x="450.22" y="350.27" width="4.24" height="2.09" fill="#dae6f4"/>
<rect x="454.46" y="350.27" width="4.24" height="2.09" fill="#dfebf9"/>
<rect x="407.80" y="352.36" width="4.24" height="2.09" fill="#acc6e2"/>
<rect x="412.04" y="352.36" width="4.24" height="2.09" fill="#adc7e3"/>
<rect x="416.28" y="352.36" width="4.24" height="2.09" fill="#adc7e3"/>
<rect x="420.52" y="352.36" width="4.24" height="2.09" fill="#bad2ec"/>
<rect x="424.77" y="352.36" width="4.24" height="2.09" fill="#b0c8e2"/>
<rect x="429.01" y="352.36" width="4.24" height="2.09" fill="#b1c9e3"/>
<rect x="433.25" y="352.36" width="4.24" height="2.09" fill="#cddbeb"/>
<rect x="437.49" y="352.36" width="4.24" height="2.09" fill="#d4e2f2"/>
<rect x="441.73" y="352.36" width="4.24" height="2.09" fill="#d3e1f1"/>
<rect x="445.98" y="352.36" width="4.24" height="2.09" fill="#d6e2f0"/>
<rect x="450.22" y="352.36" width="4.24" height="2.09" fill="#dbe7f5"/>
<rect x="454.46" y="352.36" width="4.24" height="2.09" fill="#dae6f4"/>
<rect x="407.80" y="354.45" width="4.24" height="2.09" fill="#b8d2ee"/>
<rect x="412.04" y="354.45" width="4.24" height="2.09" fill="#a7c1dd"/>
<rect x="416.28" y="354.45" width="4.24" height="2.09" fill="#b4ceea"/>
<rect x="420.52" y="354.45" width="4.24" height="2.09" fill="#b0c8e2"/>
<rect x="424.77" y="354.45" width="4.24" height="2.09" fill="#b6cee8"/>
<rect x="429.01" y="354.45" width="4.24" height="2.09" fill="#b3cbe5"/>
<rect x="433.25" y="354.45" width="4.24" height="2.09" fill="#d2e0f0"/>
<rect x="437.49" y="354.45" width="4.24" height="2.09" fill="#ddebfb"/>
<rect x="441.73" y="354.45" width="4.24" height="2.09" fill="#d2e0f0"/>
<rect x="445.98" y="354.45" width="4.24" height="2.09" fill="#d5e1ef"/>
<rect x="450.22" y="354.45" width="4.24" height="2.09" fill="#dbe7f5"/>
<rect x="454.46" y="354.45" width="4.24" height="2.09" fill="#dbe7f5"/>
<rect x="407.80" y="356.53" width="4.24" height="2.09" fill="#abc5e1"/>
<rect x="412.04" y="356.53" width="4.24" height="2.09" fill="#abc5e1"/>
<rect x="416.28" y="356.53" width="4.24" height="2.09" fill="#acc6e2"/>
<rect x="420.52" y="356.53" width="4.24" height="2.09" fill="#aec6e0"/>
<rect x="424.77" y="356.53" width="4.24" height="2.09" fill="#acc4de"/>
<rect x="429.01" y="356.53" width="4.24" height="2.09" fill="#acc4de"/>
<rect x="433.25" y="356.53" width="4.24" height="2.09" fill="#d6e4f4"/>
<rect x="437.49" y="356.53" width="4.24" height="2.09" fill="#cddbeb"/>
<rect x="441.73" y="356.53" width="4.24" height="2.09" fill="#dceafa"/>
<rect x="445.98" y="356.53" width="4.24" height="2.09" fill="#d6e2f0"/>
<rect x="450.22" y="356.53" width="4.24" height="2.09" fill="#d4e0ee"/>
<rect x="454.46" y="356.53" width="4.24" height="2.09" fill="#cdd9e7"/>
<rect x="407.80" y="358.62" width="4.24" height="2.09" fill="#b4ceea"/>
<rect x="412.04" y="358.62" width="4.24" height="2.09" fill="#aec8e4"/>
<rect x="416.28" y="358.62" width="4.24" height="2.09" fill="#b8d2ee"/>
<rect x="420.52" y="358.62" width="4.24" height="2.09" fill="#c3dbf5"/>
<rect x="424.77" y="358.62" width="4.24" height="2.09" fill="#b7cfe9"/>
<rect x="429.01" y="358.62" width="4.24" height="2.09" fill="#c0d8f2"/>
<rect x="433.25" y="358.62" width="4.24" height="2.09" fill="#dceafa"/>
<rect x="437.49" y="358.62" width="4.24" height="2.09" fill="#d0deee"/>
<rect x="441.73" y="358.62" width="4.24" height="2.09" fill="#dbe9f9"/>
<rect x="445.98" y="358.62" width="4.24" height="2.09" fill="#d8e4f2"/>
<rect x="450.22" y="358.62" width="4.24" height="2.09" fill="#e0ecfa"/>
<rect x="454.46" y="358.62" width="4.24" height="2.09" fill="#dae6f4"/>
<rect x="407.80" y="360.71" width="4.24" height="2.09" fill="#adc7e3"/>
<rect x="412.04" y="360.71" width="4.24" height="2.09" fill="#b8d2ee"/>
<rect x="416.28" y="360.71" width="4.24" height="2.09" fill="#b3cde9"/>
<rect x="420.52" y="360.71" width="4.24" height="2.09" fill="#b6cee8"/>
<rect x="424.77" y="360.71" width="4.24" height="2.09" fill="#b8d0ea"/>
<rect x="429.01" y="360.71" width="4.24" height="2.09" fill="#aec6e0"/>
<rect x="433.25" y="360.71" width="4.24" height="2.09" fill="#d2e0f0"/>
<rect x="437.49" y="360.71" width="4.24" height="2.09" fill="#d4e2f2"/>
<rect x="441.73" y="360.71" width="4.24" height="2.09" fill="#d8e6f6"/>
<rect x="445.98" y="360.71" width="4.24" height="2.09" fill="#dbe7f5"/>
<rect x="450.22" y="360.71" width="4.24" height="2.09" fill="#dfebf9"/>
<rect x="454.46" y="360.71" width="4.24" height="2.09" fill="#d7e3f1"/>
<rect x="407.80" y="362.80" width="4.24" height="2.09" fill="#b0cae6"/>
<rect x="412.04" y="362.80" width="4.24" height="2.09" fill="#acc6e2"/>
<rect x="416.28" y="362.80" width="4.24" height="2.09" fill="#b5cfeb"/>
<rect x="420.52" y="362.80" width="4.24" height="2.09" fill="#b7cfe9"/>
<rect x="424.77" y="362.80" width="4.24" height="2.09" fill="#b3cbe5"/>
<rect x="429.01" y="362.80" width="4.24" height="2.09" fill="#b9d1eb"/>
<rect x="433.25" y="362.80" width="4.24" height="2.09" fill="#d1dfef"/>
<rect x="437.49" y="362.80" width="4.24" height="2.09" fill="#dbe9f9"/>
<rect x="441.73" y="362.80" width="4.24" height="2.09" fill="#d7e5f5"/>
<rect x="445.98" y="362.80" width="4.24" height="2.09" fill="#d4e0ee"/>
<rect x="450.22" y="362.80" width="4.24" height="2.09" fill="#dfebf9"/>
<rect x="454.46" y="362.80" width="4.24" height="2.09" fill="#dfebf9"/>
<rect x="407.80" y="364.89" width="4.24" height="2.09" fill="#adc7e3"/>
<rect x="412.04" y="364.89" width="4.24" height="2.09" fill="#aac4e0"/>
<rect x="416.28" y="364.89" width="4.24" height="2.09" fill="#afc9e5"/>
<rect x="420.52" y="364.89" width="4.24" height="2.09" fill="#b0c8e2"/>
<rect x="424.77" y="364.89" width="4.24" height="2.09" fill="#b3cbe5"/>
<rect x="429.01" y="364.89" width="4.24" height="2.09" fill="#b0c8e2"/>
<rect x="433.25" y="364.89" width="4.24" height="2.09" fill="#d0deee"/>
<rect x="437.49" y="364.89" width="4.24" height="2.09" fill="#d1dfef"/>
<rect x="441.73" y="364.89" width="4.24" height="2.09" fill="#d1dfef"/>
<rect x="445.98" y="364.89" width="4.24" height="2.09" fill="#d9e5f3"/>
<rect x="450.22" y="364.89" width="4.24" height="2.09" fill="#d3dfed"/>
<rect x="454.46" y="364.89" width="4.24" height="2.09" fill="#dce8f6"/>
<rect x="407.80" y="366.98" width="4.24" height="2.09" fill="#a5c1e1"/>
<rect x="412.04" y="366.98" width="4.24" height="2.09" fill="#9db9d9"/>
<rect x="416.28" y="366.98" width="4.24" height="2.09" fill="#a1bddd"/>
<rect x="420.52" y="366.98" width="4.24" height="2.09" fill="#d5e1ee"/>
<rect x="424.77" y="366.98" width="4.24" height="2.09" fill="#dfebf8"/>
<rect x="429.01" y="366.98" width="4.24" height="2.09" fill="#ccd8e5"/>
<rect x="433.25" y="366.98" width="4.24" height="2.09" fill="#a9c5e3"/>
<rect x="437.49" y="366.98" width="4.24" height="2.09" fill="#a4c0de"/>
<rect x="441.73" y="366.98" width="4.24" height="2.09" fill="#aecae8"/>
<rect x="445.98" y="366.98" width="4.24" height="2.09" fill="#dae6f2"/>
<rect x="450.22" y="366.98" width="4.24" height="2.09" fill="#dde9f5"/>
<rect x="454.46" y="366.98" width="4.24" height="2.09" fill="#d9e5f1"/>
<rect x="407.80" y="369.07" width="4.24" height="2.09" fill="#a5c1e1"/>
<rect x="412.04" y="369.07" width="4.24" height="2.09" fill="#a7c3e3"/>
<rect x="416.28" y="369.07" width="4.24" height="2.09" fill="#a7c3e3"/>
<rect x="420.52" y="369.07" width="4.24" height="2.09" fill="#d4e0ed"/>
<rect x="424.77" y="369.07" width="4.24" height="2.09" fill="#d8e4f1"/>
<rect x="429.01" y="369.07" width="4.24" height="2.09" fill="#d4e0ed"/>
<rect x="433.25" y="369.07" width="4.24" height="2.09" fill="#a2bedc"/>
<rect x="437.49" y="369.07" width="4.24" height="2.09" fill="#a2bedc"/>
<rect x="441.73" y="369.07" width="4.24" height="2.09" fill="#b2ceec"/>
<rect x="445.98" y="369.07" width="4.24" height="2.09" fill="#d7e3ef"/>
<rect x="450.22" y="369.07" width="4.24" height="2.09" fill="#d3dfeb"/>
<rect x="454.46" y="369.07" width="4.24" height="2.09" fill="#dae6f2"/>
<rect x="407.80" y="371.15" width="4.24" height="2.09" fill="#b1cded"/>
<rect x="412.04" y="371.15" width="4.24" height="2.09" fill="#acc8e8"/>
<rect x="416.28" y="371.15" width="4.24" height="2.09" fill="#abc7e7"/>
<rect x="420.52" y="371.15" width="4.24" height="2.09" fill="#dde9f6"/>
<rect x="424.77" y="371.15" width="4.24" height="2.09" fill="#dbe7f4"/>
<rect x="429.01" y="371.15" width="4.24" height="2.09" fill="#dae6f3"/>
<rect x="433.25" y="371.15" width="4.24" height="2.09" fill="#a4c0de"/>
<rect x="437.49" y="371.15" width="4.24" height="2.09" fill="#a6c2e0"/>
<rect x="441.73" y="371.15" width="4.24" height="2.09" fill="#a9c5e3"/>
<rect x="445.98" y="371.15" width="4.24" height="2.09" fill="#e4f0fc"/>
<rect x="450.22" y="371.15" width="4.24" height="2.09" fill="#e6f2fe"/>
<rect x="454.46" y="371.15" width="4.24" height="2.09" fill="#dde9f5"/>
<rect x="407.80" y="373.24" width="4.24" height="2.09" fill="#abc7e7"/>
<rect x="412.04" y="373.24" width="4.24" height="2.09" fill="#a9c5e5"/>
<rect x="416.28" y="373.24" width="4.24" height="2.09" fill="#a4c0e0"/>
<rect x="420.52" y="373.24" width="4.24" height="2.09" fill="#dbe7f4"/>
<rect x="424.77" y="373.24" width="4.24" height="2.09" fill="#d1ddea"/>
<rect x="429.01" y="373.24" width="4.24" height="2.09" fill="#d6e2ef"/>
<rect x="433.25" y="373.24" width="4.24" height="2.09" fill="#acc8e6"/>
<rect x="437.49" y="373.24" width="4.24" height="2.09" fill="#abc7e5"/>
<rect x="441.73" y="373.24" width="4.24" height="2.09" fill="#9cb8d6"/>
<rect x="445.98" y="373.24" width="4.24" height="2.09" fill="#d2deea"/>
<rect x="450.22" y="373.24" width="4.24" height="2.09" fill="#deeaf6"/>
<rect x="454.46" y="373.24" width="4.24" height="2.09" fill="#d4e0ec"/>
<rect x="407.80" y="375.33" width="4.24" height="2.09" fill="#adc9e9"/>
<rect x="412.04" y="375.33" width="4.24" height="2.09" fill="#a3bfdf"/>
<rect x="416.28" y="375.33" width="4.24" height="2.09" fill="#a0bcdc"/>
<rect x="420.52" y="375.33" width="4.24" height="2.09" fill="#dde9f6"/>
<rect x="424.77" y="375.33" width="4.24" height="2.09" fill="#d2deeb"/>
<rect x="429.01" y="375.33" width="4.24" height="2.09" fill="#d8e4f1"/>
<rect x="433.25" y="375.33" width="4.24" height="2.09" fill="#aac6e4"/>
<rect x="437.49" y="375.33" width="4.24" height="2.09" fill="#acc8e6"/>
<rect x="441.73" y="375.33" width="4.24" height="2.09" fill="#a7c3e1"/>
<rect x="445.98" y="375.33" width="4.24" height="2.09" fill="#d8e4f0"/>
<rect x="450.22" y="375.33" width="4.24" height="2.09" fill="#dce8f4"/>
<rect x="454.46" y="375.33" width="4.24" height="2.09" fill="#d8e4f0"/>
<rect x="407.80" y="377.42" width="4.24" height="2.09" fill="#a5c1e1"/>
<rect x="412.04" y="377.42" width="4.24" height="2.09" fill="#aac6e6"/>
<rect x="416.28" y="377.42" width="4.24" height="2.09" fill="#a8c4e4"/>
<rect x="420.52" y="377.42" width="4.24" height="2.09" fill="#e1edfa"/>
<rect x="424.77" y="377.42" width="4.24" height="2.09" fill="#d3dfec"/>
<rect x="429.01" y="377.42" width="4.24" height="2.09" fill="#dde9f6"/>
<rect x="433.25" y="377.42" width="4.24" height="2.09" fill="#b1cdeb"/>
<rect x="437.49" y="377.42" width="4.24" height="2.09" fill="#b4d0ee"/>
<rect x="441.73" y="377.42" width="4.24" height="2.09" fill="#b0ccea"/>
<rect x="445.98" y="377.42" width="4.24" height="2.09" fill="#d8e4f0"/>
<rect x="450.22" y="377.42" width="4.24" height="2.09" fill="#d5e1ed"/>
<rect x="454.46" y="377.42" width="4.24" height="2.09" fill="#dbe7f3"/>
<rect x="407.80" y="379.51" width="4.24" height="2.09" fill="#a3bfdf"/>
<rect x="412.04" y="379.51" width="4.24" height="2.09" fill="#acc8e8"/>
<rect x="416.28" y="379.51" width="4.24" height="2.09" fill="#a0bcdc"/>
<rect x="420.52" y="379.51" width="4.24" height="2.09" fill="#d8e4f1"/>
<rect x="424.77" y="379.51" width="4.24" height="2.09" fill="#dae6f3"/>
<rect x="429.01" y="379.51" width="4.24" height="2.09" fill="#dde9f6"/>
<rect x="433.25" y="379.51" width="4.24" height="2.09" fill="#a5c1df"/>
<rect x="437.49" y="379.51" width="4.24" height="2.09" fill="#a7c3e1"/>
<rect x="441.73" y="379.51" width="4.24" height="2.09" fill="#a3bfdd"/>
<rect x="445.98" y="379.51" width="4.24" height="2.09" fill="#d4e0ec"/>
<rect x="450.22" y="379.51" width="4.24" height="2.09" fill="#dae6f2"/>
<rect x="454.46" y="379.51" width="4.24" height="2.09" fill="#d7e3ef"/>
<rect x="407.80" y="381.60" width="4.24" height="2.09" fill="#9cb8d8"/>
<rect x="412.04" y="381.60" width="4.24" height="2.09" fill="#a2bede"/>
<rect x="416.28" y="381.60" width="4.24" height="2.09" fill="#a0bcdc"/>
<rect x="420.52" y="381.60" width="4.24" height="2.09" fill="#d9e5f2"/>
<rect x="424.77" y="381.60" width="4.24" height="2.09" fill="#d8e4f1"/>
<rect x="429.01" y="381.60" width="4.24" height="2.09" fill="#d5e1ee"/>
<rect x="433.25" y="381.60" width="4.24" height="2.09" fill="#abc7e5"/>
<rect x="437.49" y="381.60" width="4.24" height="2.09" fill="#a1bddb"/>
<rect x="441.73" y="381.60" width="4.24" height="2.09" fill="#aecae8"/>
<rect x="445.98" y="381.60" width="4.24" height="2.09" fill="#dbe7f3"/>
<rect x="450.22" y="381.60" width="4.24" height="2.09" fill="#dbe7f3"/>
<rect x="454.46" y="381.60" width="4.24" height="2.09" fill="#dae6f2"/>
<rect x="407.80" y="383.68" width="4.24" height="2.09" fill="#b8d4f4"/>
<rect x="412.04" y="383.68" width="4.24" height="2.09" fill="#aac6e6"/>
<rect x="416.28" y="383.68" width="4.24" height="2.09" fill="#b7d3f3"/>
<rect x="420.52" y="383.68" width="4.24" height="2.09" fill="#e8f4ff"/>
<rect x="424.77" y="383.68" width="4.24" height="2.09" fill="#e4f0fd"/>
<rect x="429.01" y="383.68" width="4.24" height="2.09" fill="#e3effc"/>
<rect x="433.25" y="383.68" width="4.24" height="2.09" fill="#b0ccea"/>
<rect x="437.49" y="383.68" width="4.24" height="2.09" fill="#a3bfdd"/>
<rect x="441.73" y="383.68" width="4.24" height="2.09" fill="#a9c5e3"/>
<rect x="445.98" y="383.68" width="4.24" height="2.09" fill="#deeaf6"/>
<rect x="450.22" y="383.68" width="4.24" height="2.09" fill="#d8e4f0"/>
<rect x="454.46" y="383.68" width="4.24" height="2.09" fill="#e3effb"/>
<rect x="407.80" y="385.77" width="4.24" height="2.09" fill="#aac6e6"/>
<rect x="412.04" y="385.77" width="4.24" height="2.09" fill="#a8c4e4"/>
<rect x="416.28" y="385.77" width="4.24" height="2.09" fill="#a7c3e3"/>
<rect x="420.52" y="385.77" width="4.24" height="2.09" fill="#dfebf8"/>
<rect x="424.77" y="385.77" width="4.24" height="2.09" fill="#d5e1ee"/>
<rect x="429.01" y="385.77" width="4.24" height="2.09" fill="#deeaf7"/>
<rect x="433.25" y="385.77" width="4.24" height="2.09" fill="#aac6e4"/>
<rect x="437.49" y="385.77" width="4.24" height="2.09" fill="#aecae8"/>
<rect x="441.73" y="385.77" width="4.24" height="2.09" fill="#a2bedc"/>
<rect x="445.98" y="385.77" width="4.24" height="2.09" fill="#dce8f4"/>
<rect x="450.22" y="385.77" width="4.24" height="2.09" fill="#deeaf6"/>
<rect x="454.46" y="385.77" width="4.24" height="2.09" fill="#dce8f4"/>
<rect x="407.80" y="387.86" width="4.24" height="2.09" fill="#9db9d9"/>
<rect x="412.04" y="387.86" width="4.24" height="2.09" fill="#9fbbdb"/>
<rect x="416.28" y="387.86" width="4.24" height="2.09" fill="#a1bddd"/>
<rect x="420.52" y="387.86" width="4.24" height="2.09" fill="#d4e0ed"/>
<rect x="424.77" y="387.86" width="4.24" height="2.09" fill="#dae6f3"/>
<rect x="429.01" y="387.86" width="4.24" height="2.09" fill="#d2deeb"/>
<rect x="433.25" y="387.86" width="4.24" height="2.09" fill="#98b4d2"/>
<rect x="437.49" y="387.86" width="4.24" height="2.09" fill="#b0ccea"/>
<rect x="441.73" y="387.86" width="4.24" height="2.09" fill="#a2bedc"/>
<rect x="445.98" y="387.86" width="4.24" height="2.09" fill="#dfebf7"/>
<rect x="450.22" y="387.86" width="4.24" height="2.09" fill="#d1dde9"/>
<rect x="454.46" y="387.86" width="4.24" height="2.09" fill="#d7e3ef"/>
<rect x="407.80" y="389.95" width="4.24" height="2.09" fill="#a1bddd"/>
<rect x="412.04" y="389.95" width="4.24" height="2.09" fill="#a8c4e4"/>
<rect x="416.28" y="389.95" width="4.24" height="2.09" fill="#a5c1e1"/>
<rect x="420.52" y="389.95" width="4.24" height="2.09" fill="#d5e1ee"/>
<rect x="424.77" y="389.95" width="4.24" height="2.09" fill="#d3dfec"/>
<rect x="429.01" y="389.95" width="4.24" height="2.09" fill="#d4e0ed"/>
<rect x="433.25" y="389.95" width="4.24" height="2.09" fill="#afcbe9"/>
<rect x="437.49" y="389.95" width="4.24" height="2.09" fill="#adc9e7"/>
<rect x="441.73" y="389.95" width="4.24" height="2.09" fill="#abc7e5"/>
<rect x="445.98" y="389.95" width="4.24" height="2.09" fill="#dbe7f3"/>
<rect x="450.22" y="389.95" width="4.24" height="2.09" fill="#e3effb"/>
<rect x="454.46" y="389.95" width="4.24" height="2.09" fill="#e2eefa"/>
<rect x="407.80" y="392.04" width="4.24" height="2.09" fill="#a8c4e4"/>
<rect x="412.04" y="392.04" width="4.24" height="2.09" fill="#b2ceee"/>
<rect x="416.28" y="392.04" width="4.24" height="2.09" fill="#aac6e6"/>
<rect x="420.52" y="392.04" width="4.24" height="2.09" fill="#dae6f3"/>
<rect x="424.77" y="392.04" width="4.24" height="2.09" fill="#d7e3f0"/>
<rect x="429.01" y="392.04" width="4.24" height="2.09" fill="#d5e1ee"/>
<rect x="433.25" y="392.04" width="4.24" height="2.09" fill="#a6c2e0"/>
<rect x="437.49" y="392.04" width="4.24" height="2.09" fill="#abc7e5"/>
<rect x="441.73" y="392.04" width="4.24" height="2.09" fill="#aac6e4"/>
<rect x="445.98" y="392.04" width="4.24" height="2.09" fill="#e5f1fd"/>
<rect x="450.22" y="392.04" width="4.24" height="2.09" fill="#e0ecf8"/>
<rect x="454.46" y="392.04" width="4.24" height="2.09" fill="#e6f2fe"/>
<rect x="407.80" y="394.13" width="4.24" height="2.09" fill="#aac5e2"/>
<rect x="412.04" y="394.13" width="4.24" height="2.09" fill="#b2cdea"/>
<rect x="416.28" y="394.13" width="4.24" height="2.09" fill="#aec9e6"/>
<rect x="420.52" y="394.13" width="4.24" height="2.09" fill="#c0d4ec"/>
<rect x="424.77" y="394.13" width="4.24" height="2.09" fill="#c0d4ec"/>
<rect x="429.01" y="394.13" width="4.24" height="2.09" fill="#bacee6"/>
<rect x="433.25" y="394.13" width="4.24" height="2.09" fill="#aec6e1"/>
<rect x="437.49" y="394.13" width="4.24" height="2.09" fill="#b1c9e4"/>
<rect x="441.73" y="394.13" width="4.24" height="2.09" fill="#b0c8e3"/>
<rect x="445.98" y="394.13" width="4.24" height="2.09" fill="#cee1f6"/>
<rect x="450.22" y="394.13" width="4.24" height="2.09" fill="#c0d3e8"/>
<rect x="454.46" y="394.13" width="4.24" height="2.09" fill="#c6d9ee"/>
<rect x="407.80" y="396.22" width="4.24" height="2.09" fill="#afcae7"/>
<rect x="412.04" y="396.22" width="4.24" height="2.09" fill="#b5d0ed"/>
<rect x="416.28" y="396.22" width="4.24" height="2.09" fill="#b6d1ee"/>
<rect x="420.52" y="396.22" width="4.24" height="2.09" fill="#b5c9e1"/>
<rect x="424.77" y="396.22" width="4.24" height="2.09" fill="#c3d7ef"/>
<rect x="429.01" y="396.22" width="4.24" height="2.09" fill="#bfd3eb"/>
<rect x="433.25" y="396.22" width="4.24" height="2.09" fill="#bcd4ef"/>
<rect x="437.49" y="396.22" width="4.24" height="2.09" fill="#b5cde8"/>
<rect x="441.73" y="396.22" width="4.24" height="2.09" fill="#b3cbe6"/>
<rect x="445.98" y="396.22" width="4.24" height="2.09" fill="#c2d5ea"/>
<rect x="450.22" y="396.22" width="4.24" height="2.09" fill="#c7daef"/>
<rect x="454.46" y="396.22" width="4.24" height="2.09" fill="#cbdef3"/>
<rect x="407.80" y="398.30" width="4.24" height="2.09" fill="#afcae7"/>
<rect x="412.04" y="398.30" width="4.24" height="2.09" fill="#b4cfec"/>
<rect x="416.28" y="398.30" width="4.24" height="2.09" fill="#a9c4e1"/>
<rect x="420.52" y="398.30" width="4.24" height="2.09" fill="#c8dcf4"/>
<rect x="424.77" y="398.30" width="4.24" height="2.09" fill="#b9cde5"/>
<rect x="429.01" y="398.30" width="4.24" height="2.09" fill="#b3c7df"/>
<rect x="433.25" y="398.30" width="4.24" height="2.09" fill="#b2cae5"/>
<rect x="437.49" y="398.30" width="4.24" height="2.09" fill="#b4cce7"/>
<rect x="441.73" y="398.30" width="4.24" height="2.09" fill="#b5cde8"/>
<rect x="445.98" y="398.30" width="4.24" height="2.09" fill="#bfd2e7"/>
<rect x="450.22" y="398.30" width="4.24" height="2.09" fill="#c6d9ee"/>
<rect x="454.46" y="398.30" width="4.24" height="2.09" fill="#ccdff4"/>
<rect x="407.80" y="400.39" width="4.24" height="2.09" fill="#b3ceeb"/>
<rect x="412.04" y="400.39" width="4.24" height="2.09" fill="#aac5e2"/>
<rect x="416.28" y="400.39" width="4.24" height="2.09" fill="#bfdaf7"/>
<rect x="420.52" y="400.39" width="4.24" height="2.09" fill="#cadef6"/>
<rect x="424.77" y="400.39" width="4.24" height="2.09" fill="#c3d7ef"/>
<rect x="429.01" y="400.39" width="4.24" height="2.09" fill="#cce0f8"/>
<rect x="433.25" y="400.39" width="4.24" height="2.09" fill="#c3dbf6"/>
<rect x="437.49" y="400.39" width="4.24" height="2.09" fill="#bbd3ee"/>
<rect x="441.73" y="400.39" width="4.24" height="2.09" fill="#b3cbe6"/>
<rect x="445.98" y="400.39" width="4.24" height="2.09" fill="#cbdef3"/>
<rect x="450.22" y="400.39" width="4.24" height="2.09" fill="#c3d6eb"/>
<rect x="454.46" y="400.39" width="4.24" height="2.09" fill="#c7daef"/>
<rect x="407.80" y="402.48" width="4.24" height="2.09" fill="#b4cfec"/>
<rect x="412.04" y="402.48" width="4.24" height="2.09" fill="#adc8e5"/>
<rect x="416.28" y="402.48" width="4.24" height="2.09" fill="#b5d0ed"/>
<rect x="420.52" y="402.48" width="4.24" height="2.09" fill="#c4d8f0"/>
<rect x="424.77" y="402.48" width="4.24" height="2.09" fill="#bed2ea"/>
<rect x="429.01" y="402.48" width="4.24" height="2.09" fill="#c5d9f1"/>
<rect x="433.25" y="402.48" width="4.24" height="2.09" fill="#c9e1fc"/>
<rect x="437.49" y="402.48" width="4.24" height="2.09" fill="#c1d9f4"/>
<rect x="441.73" y="402.48" width="4.24" height="2.09" fill="#bed6f1"/>
<rect x="445.98" y="402.48" width="4.24" height="2.09" fill="#cee1f6"/>
<rect x="450.22" y="402.48" width="4.24" height="2.09" fill="#d7eaff"/>
<rect x="454.46" y="402.48" width="4.24" height="2.09" fill="#bed1e6"/>
<rect x="407.80" y="404.57" width="4.24" height="2.09" fill="#b0cbe8"/>
<rect x="412.04" y="404.57" width="4.24" height="2.09" fill="#b6d1ee"/>
<rect x="416.28" y="404.57" width="4.24" height="2.09" fill="#b1cce9"/>
<rect x="420.52" y="404.57" width="4.24" height="2.09" fill="#bfd3eb"/>
<rect x="424.77" y="404.57" width="4.24" height="2.09" fill="#b2c6de"/>
<rect x="429.01" y="404.57" width="4.24" height="2.09" fill="#c4d8f0"/>
<rect x="433.25" y="404.57" width="4.24" height="2.09" fill="#bcd4ef"/>
<rect x="437.49" y="404.57" width="4.24" height="2.09" fill="#b3cbe6"/>
<rect x="441.73" y="404.57" width="4.24" height="2.09" fill="#acc4df"/>
<rect x="445.98" y="404.57" width="4.24" height="2.09" fill="#c6d9ee"/>
<rect x="450.22" y="404.57" width="4.24" height="2.09" fill="#b8cbe0"/>
<rect x="454.46" y="404.57" width="4.24" height="2.09" fill="#c2d5ea"/>
<rect x="407.80" y="406.66" width="4.24" height="2.09" fill="#b5d0ed"/>
<rect x="412.04" y="406.66" width="4.24" height="2.09" fill="#b5d0ed"/>
<rect x="416.28" y="406.66" width="4.24" height="2.09" fill="#b3ceeb"/>
<rect x="420.52" y="406.66" width="4.24" height="2.09" fill="#c0d4ec"/>
<rect x="424.77" y="406.66" width="4.24" height="2.09" fill="#c4d8f0"/>
<rect x="429.01" y="406.66" width="4.24" height="2.09" fill="#c7dbf3"/>
<rect x="433.25" y="406.66" width="4.24" height="2.09" fill="#bdd5f0"/>
<rect x="437.49" y="406.66" width="4.24" height="2.09" fill="#b9d1ec"/>
<rect x="441.73" y="406.66" width="4.24" height="2.09" fill="#b8d0eb"/>
<rect x="445.98" y="406.66" width="4.24" height="2.09" fill="#caddf2"/>
<rect x="450.22" y="406.66" width="4.24" height="2.09" fill="#bed1e6"/>
<rect x="454.46" y="406.66" width="4.24" height="2.09" fill="#c5d8ed"/>
<rect x="407.80" y="408.75" width="4.24" height="2.09" fill="#a6c1de"/>
<rect x="412.04" y="408.75" width="4.24" height="2.09" fill="#9ab5d2"/>
<rect x="416.28" y="408.75" width="4.24" height="2.09" fill="#a8c3e0"/>
<rect x="420.52" y="408.75" width="4.24" height="2.09" fill="#bfd3eb"/>
<rect x="424.77" y="408.75" width="4.24" height="2.09" fill="#bdd1e9"/>
<rect x="429.01" y="408.75" width="4.24" height="2.09" fill="#c0d4ec"/>
<rect x="433.25" y="408.75" width="4.24" height="2.09" fill="#b3cbe6"/>
<rect x="437.49" y="408.75" width="4.24" height="2.09" fill="#b2cae5"/>
<rect x="441.73" y="408.75" width="4.24" height="2.09" fill="#a1b9d4"/>
<rect x="445.98" y="408.75" width="4.24" height="2.09" fill="#bccfe4"/>
<rect x="450.22" y="408.75" width="4.24" height="2.09" fill="#c0d3e8"/>
<rect x="454.46" y="408.75" width="4.24" height="2.09" fill="#bccfe4"/>
<rect x="407.80" y="410.83" width="4.24" height="2.09" fill="#b1cce9"/>
<rect x="412.04" y="410.83" width="4.24" height="2.09" fill="#c0dbf8"/>
<rect x="416.28" y="410.83" width="4.24" height="2.09" fill="#bcd7f4"/>
<rect x="420.52" y="410.83" width="4.24" height="2.09" fill="#c3d7ef"/>
<rect x="424.77" y="410.83" width="4.24" height="2.09" fill="#b9cde5"/>
<rect x="429.01" y="410.83" width="4.24" height="2.09" fill="#bcd0e8"/>
<rect x="433.25" y="410.83" width="4.24" height="2.09" fill="#b6cee9"/>
<rect x="437.49" y="410.83" width="4.24" height="2.09" fill="#bbd3ee"/>
<rect x="441.73" y="410.83" width="4.24" height="2.09" fill="#cce4ff"/>
<rect x="445.98" y="410.83" width="4.24" height="2.09" fill="#c3d6eb"/>
<rect x="450.22" y="410.83" width="4.24" height="2.09" fill="#d6e9fe"/>
<rect x="454.46" y="410.83" width="4.24" height="2.09" fill="#ccdff4"/>
<rect x="407.80" y="412.92" width="4.24" height="2.09" fill="#b0cbe8"/>
<rect x="412.04" y="412.92" width="4.24" height="2.09" fill="#b1cce9"/>
<rect x="416.28" y="412.92" width="4.24" height="2.09" fill="#b3ceeb"/>
<rect x="420.52" y="412.92" width="4.24" height="2.09" fill="#bfd3eb"/>
<rect x="424.77" y="412.92" width="4.24" height="2.09" fill="#bacee6"/>
<rect x="429.01" y="412.92" width="4.24" height="2.09" fill="#c4d8f0"/>
<rect x="433.25" y="412.92" width="4.24" height="2.09" fill="#b6cee9"/>
<rect x="437.49" y="412.92" width="4.24" height="2.09" fill="#b8d0eb"/>
<rect x="441.73" y="412.92" width="4.24" height="2.09" fill="#adc5e0"/>
<rect x="445.98" y="412.92" width="4.24" height="2.09" fill="#c1d4e9"/>
<rect x="450.22" y="412.92" width="4.24" height="2.09" fill="#bfd2e7"/>
<rect x="454.46" y="412.92" width="4.24" height="2.09" fill="#c6d9ee"/>
<rect x="407.80" y="415.01" width="4.24" height="2.09" fill="#b0cbe8"/>
<rect x="412.04" y="415.01" width="4.24" height="2.09" fill="#b2cdea"/>
<rect x="416.28" y="415.01" width="4.24" height="2.09" fill="#b0cbe8"/>
<rect x="420.52" y="415.01" width="4.24" height="2.09" fill="#cadef6"/>
<rect x="424.77" y="415.01" width="4.24" height="2.09" fill="#bbcfe7"/>
<rect x="429.01" y="415.01" width="4.24" height="2.09" fill="#c6daf2"/>
<rect x="433.25" y="415.01" width="4.24" height="2.09" fill="#b2cae5"/>
<rect x="437.49" y="415.01" width="4.24" height="2.09" fill="#b2cae5"/>
<rect x="441.73" y="415.01" width="4.24" height="2.09" fill="#aec6e1"/>
<rect x="445.98" y="415.01" width="4.24" height="2.09" fill="#d2e5fa"/>
<rect x="450.22" y="415.01" width="4.24" height="2.09" fill="#c0d3e8"/>
<rect x="454.46" y="415.01" width="4.24" height="2.09" fill="#c3d6eb"/>
<rect x="407.80" y="417.10" width="4.24" height="2.09" fill="#aac5e2"/>
<rect x="412.04" y="417.10" width="4.24" height="2.09" fill="#a5c0dd"/>
<rect x="416.28" y="417.10" width="4.24" height="2.09" fill="#bad5f2"/>
<rect x="420.52" y="417.10" width="4.24" height="2.09" fill="#bed2ea"/>
<rect x="424.77" y="417.10" width="4.24" height="2.09" fill="#cde1f9"/>
<rect x="429.01" y="417.10" width="4.24" height="2.09" fill="#c5d9f1"/>
<rect x="433.25" y="417.10" width="4.24" height="2.09" fill="#a7bfda"/>
<rect x="437.49" y="417.10" width="4.24" height="2.09" fill="#b7cfea"/>
<rect x="441.73" y="417.10" width="4.24" height="2.09" fill="#b9d1ec"/>
<rect x="445.98" y="417.10" width="4.24" height="2.09" fill="#c8dbf0"/>
<rect x="450.22" y="417.10" width="4.24" height="2.09" fill="#c2d5ea"/>
<rect x="454.46" y="417.10" width="4.24" height="2.09" fill="#c8dbf0"/>
<rect x="407.80" y="419.19" width="4.24" height="2.09" fill="#b6d1ee"/>
<rect x="412.04" y="419.19" width="4.24" height="2.09" fill="#bed9f6"/>
<rect x="416.28" y="419.19" width="4.24" height="2.09" fill="#bed9f6"/>
<rect x="420.52" y="419.19" width="4.24" height="2.09" fill="#d3e7ff"/>
<rect x="424.77" y="419.19" width="4.24" height="2.09" fill="#c4d8f0"/>
<rect x="429.01" y="419.19" width="4.24" height="2.09" fill="#c8dcf4"/>
<rect x="433.25" y="419.19" width="4.24" height="2.09" fill="#b8d0eb"/>
<rect x="437.49" y="419.19" width="4.24" height="2.09" fill="#b5cde8"/>
<rect x="441.73" y="419.19" width="4.24" height="2.09" fill="#b3cbe6"/>
<rect x="445.98" y="419.19" width="4.24" height="2.09" fill="#c8dbf0"/>
<rect x="450.22" y="419.19" width="4.24" height="2.09" fill="#d2e5fa"/>
<rect x="454.46" y="419.19" width="4.24" height="2.09" fill="#c7daef"/>
<rect x="407.80" y="421.28" width="4.24" height="2.09" fill="#b0cbe8"/>
<rect x="412.04" y="421.28" width="4.24" height="2.09" fill="#aac5e2"/>
<rect x="416.28" y="421.28" width="4.24" height="2.09" fill="#b0cbe8"/>
<rect x="420.52" y="421.28" width="4.24" height="2.09" fill="#b7cbe3"/>
<rect x="424.77" y="421.28" width="4.24" height="2.09" fill="#bbcfe7"/>
<rect x="429.01" y="421.28" width="4.24" height="2.09" fill="#bdd1e9"/>
<rect x="433.25" y="421.28" width="4.24" height="2.09" fill="#b7cfea"/>
<rect x="437.49" y="421.28" width="4.24" height="2.09" fill="#aec6e1"/>
<rect x="441.73" y="421.28" width="4.24" height="2.09" fill="#b6cee9"/>
<rect x="445.98" y="421.28" width="4.24" height="2.09" fill="#bacde2"/>
<rect x="450.22" y="421.28" width="4.24" height="2.09" fill="#b7cadf"/>
<rect x="454.46" y="421.28" width="4.24" height="2.09" fill="#c4d7ec"/>
<rect x="407.80" y="423.37" width="4.24" height="2.09" fill="#bfdaf7"/>
<rect x="412.04" y="423.37" width="4.24" height="2.09" fill="#bad5f2"/>
<rect x="416.28" y="423.37" width="4.24" height="2.09" fill="#b5d0ed"/>
<rect x="420.52" y="423.37" width="4.24" height="2.09" fill="#d1e5fd"/>
<rect x="424.77" y="423.37" width="4.24" height="2.09" fill="#c5d9f1"/>
<rect x="429.01" y="423.37" width="4.24" height="2.09" fill="#bfd3eb"/>
<rect x="433.25" y="423.37" width="4.24" height="2.09" fill="#c1d9f4"/>
<rect x="437.49" y="423.37" width="4.24" height="2.09" fill="#b5cde8"/>
<rect x="441.73" y="423.37" width="4.24" height="2.09" fill="#b2cae5"/>
<rect x="445.98" y="423.37" width="4.24" height="2.09" fill="#cee1f6"/>
<rect x="450.22" y="423.37" width="4.24" height="2.09" fill="#d1e4f9"/>
<rect x="454.46" y="423.37" width="4.24" height="2.09" fill="#c7daef"/>
<rect x="407.80" y="425.45" width="4.24" height="2.09" fill="#aec9e6"/>
<rect x="412.04" y="425.45" width="4.24" height="2.09" fill="#b2cdea"/>
<rect x="416.28" y="425.45" width="4.24" height="2.09" fill="#a6c1de"/>
<rect x="420.52" y="425.45" width="4.24" height="2.09" fill="#bbcfe7"/>
<rect x="424.77" y="425.45" width="4.24" height="2.09" fill="#c1d5ed"/>
<rect x="429.01" y="425.45" width="4.24" height="2.09" fill="#c0d4ec"/>
<rect x="433.25" y="425.45" width="4.24" height="2.09" fill="#c0d8f3"/>
<rect x="437.49" y="425.45" width="4.24" height="2.09" fill="#bad2ed"/>
<rect x="441.73" y="425.45" width="4.24" height="2.09" fill="#a1b9d4"/>
<rect x="445.98" y="425.45" width="4.24" height="2.09" fill="#ccdff4"/>
<rect x="450.22" y="425.45" width="4.24" height="2.09" fill="#bed1e6"/>
<rect x="454.46" y="425.45" width="4.24" height="2.09" fill="#c6d9ee"/>
<rect x="407.80" y="427.54" width="4.24" height="2.09" fill="#afcae7"/>
<rect x="412.04" y="427.54" width="4.24" height="2.09" fill="#9fbad7"/>
<rect x="416.28" y="427.54" width="4.24" height="2.09" fill="#b0cbe8"/>
<rect x="420.52" y="427.54" width="4.24" height="2.09" fill="#c6daf2"/>
<rect x="424.77" y="427.54" width="4.24" height="2.09" fill="#b9cde5"/>
<rect x="429.01" y="427.54" width="4.24" height="2.09" fill="#c0d4ec"/>
<rect x="433.25" y="427.54" width="4.24" height="2.09" fill="#b2cae5"/>
<rect x="437.49" y="427.54" width="4.24" height="2.09" fill="#b0c8e3"/>
<rect x="441.73" y="427.54" width="4.24" height="2.09" fill="#aac2dd"/>
<rect x="445.98" y="427.54" width="4.24" height="2.09" fill="#c0d3e8"/>
<rect x="450.22" y="427.54" width="4.24" height="2.09" fill="#c3d6eb"/>
<rect x="454.46" y="427.54" width="4.24" height="2.09" fill="#b7cadf"/>
<rect x="407.80" y="429.63" width="4.24" height="2.09" fill="#aec9e6"/>
<rect x="412.04" y="429.63" width="4.24" height="2.09" fill="#b5d0ed"/>
<rect x="416.28" y="429.63" width="4.24" height="2.09" fill="#b5d0ed"/>
<rect x="420.52" y="429.63" width="4.24" height="2.09" fill="#c5d9f1"/>
<rect x="424.77" y="429.63" width="4.24" height="2.09" fill="#c4d8f0"/>
<rect x="429.01" y="429.63" width="4.24" height="2.09" fill="#d5e9ff"/>
<rect x="433.25" y="429.63" width="4.24" height="2.09" fill="#bbd3ee"/>
<rect x="437.49" y="429.63" width="4.24" height="2.09" fill="#bbd3ee"/>
<rect x="441.73" y="429.63" width="4.24" height="2.09" fill="#c1d9f4"/>
<rect x="445.98" y="429.63" width="4.24" height="2.09" fill="#c9dcf1"/>
<rect x="450.22" y="429.63" width="4.24" height="2.09" fill="#c2d5ea"/>
<rect x="454.46" y="429.63" width="4.24" height="2.09" fill="#d7eaff"/>
<rect x="407.80" y="431.72" width="4.24" height="2.09" fill="#b7d2ef"/>
<rect x="412.04" y="431.72" width="4.24" height="2.09" fill="#b8d3f0"/>
<rect x="416.28" y="431.72" width="4.24" height="2.09" fill="#bdd8f5"/>
<rect x="420.52" y="431.72" width="4.24" height="2.09" fill="#c5d9f1"/>
<rect x="424.77" y="431.72" width="4.24" height="2.09" fill="#c1d5ed"/>
<rect x="429.01" y="431.72" width="4.24" height="2.09" fill="#b3c7df"/>
<rect x="433.25" y="431.72" width="4.24" height="2.09" fill="#bcd4ef"/>
<rect x="437.49" y="431.72" width="4.24" height="2.09" fill="#afc7e2"/>
<rect x="441.73" y="431.72" width="4.24" height="2.09" fill="#bfd7f2"/>
<rect x="445.98" y="431.72" width="4.24" height="2.09" fill="#c2d5ea"/>
<rect x="450.22" y="431.72" width="4.24" height="2.09" fill="#bfd2e7"/>
<rect x="454.46" y="431.72" width="4.24" height="2.09" fill="#c6d9ee"/>
<rect x="407.80" y="433.81" width="4.24" height="2.09" fill="#b1cce9"/>
<rect x="412.04" y="433.81" width="4.24" height="2.09" fill="#b6d1ee"/>
<rect x="416.28" y="433.81" width="4.24" height="2.09" fill="#bad5f2"/>
<rect x="420.52" y="433.81" width="4.24" height="2.09" fill="#c1d5ed"/>
<rect x="424.77" y="433.81" width="4.24" height="2.09" fill="#cadef6"/>
<rect x="429.01" y="433.81" width="4.24" height="2.09" fill="#c1d5ed"/>
<rect x="433.25" y="433.81" width="4.24" height="2.09" fill="#abc3de"/>
<rect x="437.49" y="433.81" width="4.24" height="2.09" fill="#afc7e2"/>
<rect x="441.73" y="433.81" width="4.24" height="2.09" fill="#b5cde8"/>
<rect x="445.98" y="433.81" width="4.24" height="2.09" fill="#c5d8ed"/>
<rect x="450.22" y="433.81" width="4.24" height="2.09" fill="#caddf2"/>
<rect x="454.46" y="433.81" width="4.24" height="2.09" fill="#bfd2e7"/>
<rect x="407.80" y="435.90" width="4.24" height="2.09" fill="#b3cdea"/>
<rect x="412.04" y="435.90" width="4.24" height="2.09" fill="#acc6e3"/>
<rect x="416.28" y="435.90" width="4.24" height="2.09" fill="#bad4f1"/>
<rect x="420.52" y="435.90" width="4.24" height="2.09" fill="#bacde4"/>
<rect x="424.77" y="435.90" width="4.24" height="2.09" fill="#bdd0e7"/>
<rect x="429.01" y="435.90" width="4.24" height="2.09" fill="#cfe2f9"/>
<rect x="433.25" y="435.90" width="4.24" height="2.09" fill="#a9c1db"/>
<rect x="437.49" y="435.90" width="4.24" height="2.09" fill="#aac2dc"/>
<rect x="441.73" y="435.90" width="4.24" height="2.09" fill="#b5cde7"/>
<rect x="445.98" y="435.90" width="4.24" height="2.09" fill="#bfd2e6"/>
<rect x="450.22" y="435.90" width="4.24" height="2.09" fill="#c3d6ea"/>
<rect x="454.46" y="435.90" width="4.24" height="2.09" fill="#ccdff3"/>
<rect x="407.80" y="437.98" width="4.24" height="2.09" fill="#b1cbe8"/>
<rect x="412.04" y="437.98" width="4.24" height="2.09" fill="#b6d0ed"/>
<rect x="416.28" y="437.98" width="4.24" height="2.09" fill="#acc6e3"/>
<rect x="420.52" y="437.98" width="4.24" height="2.09" fill="#b9cce3"/>
<rect x="424.77" y="437.98" width="4.24" height="2.09" fill="#c5d8ef"/>
<rect x="429.01" y="437.98" width="4.24" height="2.09" fill="#c3d6ed"/>
<rect x="433.25" y="437.98" width="4.24" height="2.09" fill="#bbd3ed"/>
<rect x="437.49" y="437.98" width="4.24" height="2.09" fill="#b3cbe5"/>
<rect x="441.73" y="437.98" width="4.24" height="2.09" fill="#b5cde7"/>
<rect x="445.98" y="437.98" width="4.24" height="2.09" fill="#c6d9ed"/>
<rect x="450.22" y="437.98" width="4.24" height="2.09" fill="#c9dcf0"/>
<rect x="454.46" y="437.98" width="4.24" height="2.09" fill="#cde0f4"/>
<rect x="407.80" y="440.07" width="4.24" height="2.09" fill="#a4bedb"/>
<rect x="412.04" y="440.07" width="4.24" height="2.09" fill="#b0cae7"/>
<rect x="416.28" y="440.07" width="4.24" height="2.09" fill="#afc9e6"/>
<rect x="420.52" y="440.07" width="4.24" height="2.09" fill="#c0d3ea"/>
<rect x="424.77" y="440.07" width="4.24" height="2.09" fill="#c1d4eb"/>
<rect x="429.01" y="440.07" width="4.24" height="2.09" fill="#c7daf1"/>
<rect x="433.25" y="440.07" width="4.24" height="2.09" fill="#aac2dc"/>
<rect x="437.49" y="440.07" width="4.24" height="2.09" fill="#bbd3ed"/>
<rect x="441.73" y="440.07" width="4.24" height="2.09" fill="#bed6f0"/>
<rect x="445.98" y="440.07" width="4.24" height="2.09" fill="#cde0f4"/>
<rect x="450.22" y="440.07" width="4.24" height="2.09" fill="#c5d8ec"/>
<rect x="454.46" y="440.07" width="4.24" height="2.09" fill="#c0d3e7"/>
<rect x="407.80" y="442.16" width="4.24" height="2.09" fill="#abc5e2"/>
<rect x="412.04" y="442.16" width="4.24" height="2.09" fill="#bad4f1"/>
<rect x="416.28" y="442.16" width="4.24" height="2.09" fill="#a9c3e0"/>
<rect x="420.52" y="442.16" width="4.24" height="2.09" fill="#c0d3ea"/>
<rect x="424.77" y="442.16" width="4.24" height="2.09" fill="#c7daf1"/>
<rect x="429.01" y="442.16" width="4.24" height="2.09" fill="#c7daf1"/>
<rect x="433.25" y="442.16" width="4.24" height="2.09" fill="#b4cce6"/>
<rect x="437.49" y="442.16" width="4.24" height="2.09" fill="#b8d0ea"/>
<rect x="441.73" y="442.16" width="4.24" height="2.09" fill="#bdd5ef"/>
<rect x="445.98" y="442.16" width="4.24" height="2.09" fill="#c7daee"/>
<rect x="450.22" y="442.16" width="4.24" height="2.09" fill="#c5d8ec"/>
<rect x="454.46" y="442.16" width="4.24" height="2.09" fill="#bfd2e6"/>
<rect x="407.80" y="444.25" width="4.24" height="2.09" fill="#afc9e6"/>
<rect x="412.04" y="444.25" width="4.24" height="2.09" fill="#a8c2df"/>
<rect x="416.28" y="444.25" width="4.24" height="2.09" fill="#adc7e4"/>
<rect x="420.52" y="444.25" width="4.24" height="2.09" fill="#cde0f7"/>
<rect x="424.77" y="444.25" width="4.24" height="2.09" fill="#bed1e8"/>
<rect x="429.01" y="444.25" width="4.24" height="2.09" fill="#bccfe6"/>
<rect x="433.25" y="444.25" width="4.24" height="2.09" fill="#b1c9e3"/>
<rect x="437.49" y="444.25" width="4.24" height="2.09" fill="#b9d1eb"/>
<rect x="441.73" y="444.25" width="4.24" height="2.09" fill="#bdd5ef"/>
<rect x="445.98" y="444.25" width="4.24" height="2.09" fill="#cbdef2"/>
<rect x="450.22" y="444.25" width="4.24" height="2.09" fill="#d3e6fa"/>
<rect x="454.46" y="444.25" width="4.24" height="2.09" fill="#c4d7eb"/>
<rect x="407.80" y="446.34" width="4.24" height="2.09" fill="#b4ceeb"/>
<rect x="412.04" y="446.34" width="4.24" height="2.09" fill="#b2cce9"/>
<rect x="416.28" y="446.34" width="4.24" height="2.09" fill="#bcd6f3"/>
<rect x="420.52" y="446.34" width="4.24" height="2.09" fill="#c2d5ec"/>
<rect x="424.77" y="446.34" width="4.24" height="2.09" fill="#c6d9f0"/>
<rect x="429.01" y="446.34" width="4.24" height="2.09" fill="#bed1e8"/>
<rect x="433.25" y="446.34" width="4.24" height="2.09" fill="#bdd5ef"/>
<rect x="437.49" y="446.34" width="4.24" height="2.09" fill="#b9d1eb"/>
<rect x="441.73" y="446.34" width="4.24" height="2.09" fill="#b3cbe5"/>
<rect x="445.98" y="446.34" width="4.24" height="2.09" fill="#c4d7eb"/>
<rect x="450.22" y="446.34" width="4.24" height="2.09" fill="#c2d5e9"/>
<rect x="454.46" y="446.34" width="4.24" height="2.09" fill="#c8dbef"/>
<rect x="407.80" y="448.43" width="4.24" height="2.09" fill="#b1cbe8"/>
<rect x="412.04" y="448.43" width="4.24" height="2.09" fill="#aec8e5"/>
<rect x="416.28" y="448.43" width="4.24" height="2.09" fill="#b8d2ef"/>
<rect x="420.52" y="448.43" width="4.24" height="2.09" fill="#c6d9f0"/>
<rect x="424.77" y="448.43" width="4.24" height="2.09" fill="#c6d9f0"/>
<rect x="429.01" y="448.43" width="4.24" height="2.09" fill="#c4d7ee"/>
<rect x="433.25" y="448.43" width="4.24" height="2.09" fill="#b2cae4"/>
<rect x="437.49" y="448.43" width="4.24" height="2.09" fill="#bcd4ee"/>
<rect x="441.73" y="448.43" width="4.24" height="2.09" fill="#c3dbf5"/>
<rect x="445.98" y="448.43" width="4.24" height="2.09" fill="#d1e4f8"/>
<rect x="450.22" y="448.43" width="4.24" height="2.09" fill="#ccdff3"/>
<rect x="454.46" y="448.43" width="4.24" height="2.09" fill="#c2d5e9"/>
<rect x="407.80" y="450.52" width="4.24" height="2.09" fill="#adc7e4"/>
<rect x="412.04" y="450.52" width="4.24" height="2.09" fill="#b3cdea"/>
<rect x="416.28" y="450.52" width="4.24" height="2.09" fill="#afc9e6"/>
<rect x="420.52" y="450.52" width="4.24" height="2.09" fill="#c0d3ea"/>
<rect x="424.77" y="450.52" width="4.24" height="2.09" fill="#c6d9f0"/>
<rect x="429.01" y="450.52" width="4.24" height="2.09" fill="#c7daf1"/>
<rect x="433.25" y="450.52" width="4.24" height="2.09" fill="#b0c8e2"/>
<rect x="437.49" y="450.52" width="4.24" height="2.09" fill="#b1c9e3"/>
<rect x="441.73" y="450.52" width="4.24" height="2.09" fill="#b9d1eb"/>
<rect x="445.98" y="450.52" width="4.24" height="2.09" fill="#c9dcf0"/>
<rect x="450.22" y="450.52" width="4.24" height="2.09" fill="#c3d6ea"/>
<rect x="454.46" y="450.52" width="4.24" height="2.09" fill="#c8dbef"/>
<rect x="407.80" y="452.60" width="4.24" height="2.09" fill="#a8c2df"/>
<rect x="412.04" y="452.60" width="4.24" height="2.09" fill="#afc9e6"/>
<rect x="416.28" y="452.60" width="4.24" height="2.09" fill="#a7c1de"/>
<rect x="420.52" y="452.60" width="4.24" height="2.09" fill="#c2d5ec"/>
<rect x="424.77" y="452.60" width="4.24" height="2.09" fill="#bccfe6"/>
<rect x="429.01" y="452.60" width="4.24" height="2.09" fill="#c7daf1"/>
<rect x="433.25" y="452.60" width="4.24" height="2.09" fill="#afc7e1"/>
<rect x="437.49" y="452.60" width="4.24" height="2.09" fill="#b6cee8"/>
<rect x="441.73" y="452.60" width="4.24" height="2.09" fill="#b4cce6"/>
<rect x="445.98" y="452.60" width="4.24" height="2.09" fill="#bdd0e4"/>
<rect x="450.22" y="452.60" width="4.24" height="2.09" fill="#b7cade"/>
<rect x="454.46" y="452.60" width="4.24" height="2.09" fill="#c5d8ec"/>
<rect x="407.80" y="454.69" width="4.24" height="2.09" fill="#b1cbe8"/>
<rect x="412.04" y="454.69" width="4.24" height="2.09" fill="#bcd6f3"/>
<rect x="416.28" y="454.69" width="4.24" height="2.09" fill="#a5bfdc"/>
<rect x="420.52" y="454.69" width="4.24" height="2.09" fill="#c3d6ed"/>
<rect x="424.77" y="454.69" width="4.24" height="2.09" fill="#bbcee5"/>
<rect x="429.01" y="454.69" width="4.24" height="2.09" fill="#bdd0e7"/>
<rect x="433.25" y="454.69" width="4.24" height="2.09" fill="#adc5df"/>
<rect x="437.49" y="454.69" width="4.24" height="2.09" fill="#b2cae4"/>
<rect x="441.73" y="454.69" width="4.24" height="2.09" fill="#bed6f0"/>
<rect x="445.98" y="454.69" width="4.24" height="2.09" fill="#cee1f5"/>
<rect x="450.22" y="454.69" width="4.24" height="2.09" fill="#c2d5e9"/>
<rect x="454.46" y="454.69" width="4.24" height="2.09" fill="#c2d5e9"/>
<rect x="407.80" y="456.78" width="4.24" height="2.09" fill="#adc7e4"/>
<rect x="412.04" y="456.78" width="4.24" height="2.09" fill="#acc6e3"/>
<rect x="416.28" y="456.78" width="4.24" height="2.09" fill="#b0cae7"/>
<rect x="420.52" y="456.78" width="4.24" height="2.09" fill="#bacde4"/>
<rect x="424.77" y="456.78" width="4.24" height="2.09" fill="#c7daf1"/>
<rect x="429.01" y="456.78" width="4.24" height="2.09" fill="#c1d4eb"/>
<rect x="433.25" y="456.78" width="4.24" height="2.09" fill="#b5cde7"/>
<rect x="437.49" y="456.78" width="4.24" height="2.09" fill="#b4cce6"/>
<rect x="441.73" y="456.78" width="4.24" height="2.09" fill="#acc4de"/>
<rect x="445.98" y="456.78" width="4.24" height="2.09" fill="#caddf1"/>
<rect x="450.22" y="456.78" width="4.24" height="2.09" fill="#c5d8ec"/>
<rect x="454.46" y="456.78" width="4.24" height="2.09" fill="#cde0f4"/>
<rect x="407.80" y="458.87" width="4.24" height="2.09" fill="#b8d2ef"/>
<rect x="412.04" y="458.87" width="4.24" height="2.09" fill="#b7d1ee"/>
<rect x="416.28" y="458.87" width="4.24" height="2.09" fill="#b2cce9"/>
<rect x="420.52" y="458.87" width="4.24" height="2.09" fill="#c6d9f0"/>
<rect x="424.77" y="458.87" width="4.24" height="2.09" fill="#c3d6ed"/>
<rect x="429.01" y="458.87" width="4.24" height="2.09" fill="#bbcee5"/>
<rect x="433.25" y="458.87" width="4.24" height="2.09" fill="#b3cbe5"/>
<rect x="437.49" y="458.87" width="4.24" height="2.09" fill="#bcd4ee"/>
<rect x="441.73" y="458.87" width="4.24" height="2.09" fill="#b3cbe5"/>
<rect x="445.98" y="458.87" width="4.24" height="2.09" fill="#c1d4e8"/>
<rect x="450.22" y="458.87" width="4.24" height="2.09" fill="#c3d6ea"/>
<rect x="454.46" y="458.87" width="4.24" height="2.09" fill="#c9dcf0"/>
<rect x="407.80" y="460.96" width="4.24" height="2.09" fill="#a9c3e0"/>
<rect x="412.04" y="460.96" width="4.24" height="2.09" fill="#abc5e2"/>
<rect x="416.28" y="460.96" width="4.24" height="2.09" fill="#abc5e2"/>
<rect x="420.52" y="460.96" width="4.24" height="2.09" fill="#b8cbe2"/>
<rect x="424.77" y="460.96" width="4.24" height="2.09" fill="#aec1d8"/>
<rect x="429.01" y="460.96" width="4.24" height="2.09" fill="#bacde4"/>
<rect x="433.25" y="460.96" width="4.24" height="2.09" fill="#bad2ec"/>
<rect x="437.49" y="460.96" width="4.24" height="2.09" fill="#bbd3ed"/>
<rect x="441.73" y="460.96" width="4.24" height="2.09" fill="#afc7e1"/>
<rect x="445.98" y="460.96" width="4.24" height="2.09" fill="#ccdff3"/>
<rect x="450.22" y="460.96" width="4.24" height="2.09" fill="#c8dbef"/>
<rect x="454.46" y="460.96" width="4.24" height="2.09" fill="#c2d5e9"/>
<rect x="407.80" y="463.05" width="4.24" height="2.09" fill="#acc6e3"/>
<rect x="412.04" y="463.05" width="4.24" height="2.09" fill="#abc5e2"/>
<rect x="416.28" y="463.05" width="4.24" height="2.09" fill="#afc9e6"/>
<rect x="420.52" y="463.05" width="4.24" height="2.09" fill="#b8cbe2"/>
<rect x="424.77" y="463.05" width="4.24" height="2.09" fill="#b8cbe2"/>
<rect x="429.01" y="463.05" width="4.24" height="2.09" fill="#bed1e8"/>
<rect x="433.25" y="463.05" width="4.24" height="2.09" fill="#b0c8e2"/>
<rect x="437.49" y="463.05" width="4.24" height="2.09" fill="#b7cfe9"/>
<rect x="441.73" y="463.05" width="4.24" height="2.09" fill="#afc7e1"/>
<rect x="445.98" y="463.05" width="4.24" height="2.09" fill="#caddf1"/>
<rect x="450.22" y="463.05" width="4.24" height="2.09" fill="#cbdef2"/>
<rect x="454.46" y="463.05" width="4.24" height="2.09" fill="#bed1e5"/>
<rect x="407.80" y="465.13" width="4.24" height="2.09" fill="#bbd5f2"/>
<rect x="412.04" y="465.13" width="4.24" height="2.09" fill="#b2cce9"/>
<rect x="416.28" y="465.13" width="4.24" height="2.09" fill="#b8d2ef"/>
<rect x="420.52" y="465.13" width="4.24" height="2.09" fill="#c3d6ed"/>
<rect x="424.77" y="465.13" width="4.24" height="2.09" fill="#c5d8ef"/>
<rect x="429.01" y="465.13" width="4.24" height="2.09" fill="#c3d6ed"/>
<rect x="433.25" y="465.13" width="4.24" height="2.09" fill="#b6cee8"/>
<rect x="437.49" y="465.13" width="4.24" height="2.09" fill="#c2daf4"/>
<rect x="441.73" y="465.13" width="4.24" height="2.09" fill="#b5cde7"/>
<rect x="445.98" y="465.13" width="4.24" height="2.09" fill="#bed1e5"/>
<rect x="450.22" y="465.13" width="4.24" height="2.09" fill="#c5d8ec"/>
<rect x="454.46" y="465.13" width="4.24" height="2.09" fill="#ccdff3"/>
<rect x="407.80" y="467.22" width="4.24" height="2.09" fill="#b5cfec"/>
<rect x="412.04" y="467.22" width="4.24" height="2.09" fill="#b5cfec"/>
<rect x="416.28" y="467.22" width="4.24" height="2.09" fill="#b1cbe8"/>
<rect x="420.52" y="467.22" width="4.24" height="2.09" fill="#c0d3ea"/>
<rect x="424.77" y="467.22" width="4.24" height="2.09" fill="#bfd2e9"/>
<rect x="429.01" y="467.22" width="4.24" height="2.09" fill="#bdd0e7"/>
<rect x="433.25" y="467.22" width="4.24" height="2.09" fill="#c1d9f3"/>
<rect x="437.49" y="467.22" width="4.24" height="2.09" fill="#bad2ec"/>
<rect x="441.73" y="467.22" width="4.24" height="2.09" fill="#b4cce6"/>
<rect x="445.98" y="467.22" width="4.24" height="2.09" fill="#c7daee"/>
<rect x="450.22" y="467.22" width="4.24" height="2.09" fill="#c8dbef"/>
<rect x="454.46" y="467.22" width="4.24" height="2.09" fill="#cfe2f6"/>
<rect x="407.80" y="469.31" width="4.24" height="2.09" fill="#b4ceeb"/>
<rect x="412.04" y="469.31" width="4.24" height="2.09" fill="#b0cae7"/>
<rect x="416.28" y="469.31" width="4.24" height="2.09" fill="#acc6e3"/>
<rect x="420.52" y="469.31" width="4.24" height="2.09" fill="#c7daf1"/>
<rect x="424.77" y="469.31" width="4.24" height="2.09" fill="#d2e5fc"/>
<rect x="429.01" y="469.31" width="4.24" height="2.09" fill="#c9dcf3"/>
<rect x="433.25" y="469.31" width="4.24" height="2.09" fill="#bdd5ef"/>
<rect x="437.49" y="469.31" width="4.24" height="2.09" fill="#b8d0ea"/>
<rect x="441.73" y="469.31" width="4.24" height="2.09" fill="#b8d0ea"/>
<rect x="445.98" y="469.31" width="4.24" height="2.09" fill="#c2d5e9"/>
<rect x="450.22" y="469.31" width="4.24" height="2.09" fill="#c4d7eb"/>
<rect x="454.46" y="469.31" width="4.24" height="2.09" fill="#d5e8fc"/>
<rect x="407.80" y="471.40" width="4.24" height="2.09" fill="#b9d3f0"/>
<rect x="412.04" y="471.40" width="4.24" height="2.09" fill="#b0cae7"/>
<rect x="416.28" y="471.40" width="4.24" height="2.09" fill="#b9d3f0"/>
<rect x="420.52" y="471.40" width="4.24" height="2.09" fill="#c8dbf2"/>
<rect x="424.77" y="471.40" width="4.24" height="2.09" fill="#bdd0e7"/>
<rect x="429.01" y="471.40" width="4.24" height="2.09" fill="#b7cae1"/>
<rect x="433.25" y="471.40" width="4.24" height="2.09" fill="#adc5df"/>
<rect x="437.49" y="471.40" width="4.24" height="2.09" fill="#b9d1eb"/>
<rect x="441.73" y="471.40" width="4.24" height="2.09" fill="#bdd5ef"/>
<rect x="445.98" y="471.40" width="4.24" height="2.09" fill="#c6d9ed"/>
<rect x="450.22" y="471.40" width="4.24" height="2.09" fill="#c6d9ed"/>
<rect x="454.46" y="471.40" width="4.24" height="2.09" fill="#cee1f5"/>
<rect x="407.80" y="473.49" width="4.24" height="2.09" fill="#abc5e2"/>
<rect x="412.04" y="473.49" width="4.24" height="2.09" fill="#b4ceeb"/>
<rect x="416.28" y="473.49" width="4.24" height="2.09" fill="#b8d2ef"/>
<rect x="420.52" y="473.49" width="4.24" height="2.09" fill="#b8cbe2"/>
<rect x="424.77" y="473.49" width="4.24" height="2.09" fill="#c2d5ec"/>
<rect x="429.01" y="473.49" width="4.24" height="2.09" fill="#c0d3ea"/>
<rect x="433.25" y="473.49" width="4.24" height="2.09" fill="#b2cae4"/>
<rect x="437.49" y="473.49" width="4.24" height="2.09" fill="#bfd7f1"/>
<rect x="441.73" y="473.49" width="4.24" height="2.09" fill="#bad2ec"/>
<rect x="445.98" y="473.49" width="4.24" height="2.09" fill="#d4e7fb"/>
<rect x="450.22" y="473.49" width="4.24" height="2.09" fill="#caddf1"/>
<rect x="454.46" y="473.49" width="4.24" height="2.09" fill="#c4d7eb"/>
<rect x="407.80" y="475.58" width="4.24" height="2.09" fill="#b4ceeb"/>
<rect x="412.04" y="475.58" width="4.24" height="2.09" fill="#b0cae7"/>
<rect x="416.28" y="475.58" width="4.24" height="2.09" fill="#afc9e6"/>
<rect x="420.52" y="475.58" width="4.24" height="2.09" fill="#c2d5ec"/>
<rect x="424.77" y="475.58" width="4.24" height="2.09" fill="#c1d4eb"/>
<rect x="429.01" y="475.58" width="4.24" height="2.09" fill="#c7daf1"/>
<rect x="433.25" y="475.58" width="4.24" height="2.09" fill="#b0c8e2"/>
<rect x="437.49" y="475.58" width="4.24" height="2.09" fill="#b4cce6"/>
<rect x="441.73" y="475.58" width="4.24" height="2.09" fill="#b5cde7"/>
<rect x="445.98" y="475.58" width="4.24" height="2.09" fill="#ccdff3"/>
<rect x="450.22" y="475.58" width="4.24" height="2.09" fill="#c8dbef"/>
<rect x="454.46" y="475.58" width="4.24" height="2.09" fill="#cfe2f6"/>
<rect x="407.80" y="477.67" width="4.24" height="2.09" fill="#b3cdea"/>
<rect x="412.04" y="477.67" width="4.24" height="2.09" fill="#b0cae7"/>
<rect x="416.28" y="477.67" width="4.24" height="2.09" fill="#b3cdea"/>
<rect x="420.52" y="477.67" width="4.24" height="2.09" fill="#c4d7ee"/>
<rect x="424.77" y="477.67" width="4.24" height="2.09" fill="#c2d5ec"/>
<rect x="429.01" y="477.67" width="4.24" height="2.09" fill="#c0d3ea"/>
<rect x="433.25" y="477.67" width="4.24" height="2.09" fill="#b6cee8"/>
<rect x="437.49" y="477.67" width="4.24" height="2.09" fill="#c0d8f2"/>
<rect x="441.73" y="477.67" width="4.24" height="2.09" fill="#b6cee8"/>
<rect x="445.98" y="477.67" width="4.24" height="2.09" fill="#c3d6ea"/>
<rect x="450.22" y="477.67" width="4.24" height="2.09" fill="#c3d6ea"/>
<rect x="454.46" y="477.67" width="4.24" height="2.09" fill="#c9dcf0"/>
<rect x="407.80" y="479.75" width="4.24" height="2.09" fill="#adc7e4"/>
<rect x="412.04" y="479.75" width="4.24" height="2.09" fill="#acc6e3"/>
<rect x="416.28" y="479.75" width="4.24" height="2.09" fill="#b3cdea"/>
<rect x="420.52" y="479.75" width="4.24" height="2.09" fill="#b8cee8"/>
<rect x="424.77" y="479.75" width="4.24" height="2.09" fill="#bed4ee"/>
<rect x="429.01" y="479.75" width="4.24" height="2.09" fill="#bfd5ef"/>
<rect x="433.25" y="479.75" width="4.24" height="2.09" fill="#b0c9e6"/>
<rect x="437.49" y="479.75" width="4.24" height="2.09" fill="#abc4e1"/>
<rect x="441.73" y="479.75" width="4.24" height="2.09" fill="#adc6e3"/>
<rect x="445.98" y="479.75" width="4.24" height="2.09" fill="#cadef4"/>
<rect x="450.22" y="479.75" width="4.24" height="2.09" fill="#c9ddf3"/>
<rect x="454.46" y="479.75" width="4.24" height="2.09" fill="#bacee4"/>
<rect x="407.80" y="481.84" width="4.24" height="2.09" fill="#aec8e5"/>
<rect x="412.04" y="481.84" width="4.24" height="2.09" fill="#bed8f5"/>
<rect x="416.28" y="481.84" width="4.24" height="2.09" fill="#b3cdea"/>
<rect x="420.52" y="481.84" width="4.24" height="2.09" fill="#b4cae4"/>
<rect x="424.77" y="481.84" width="4.24" height="2.09" fill="#b8cee8"/>
<rect x="429.01" y="481.84" width="4.24" height="2.09" fill="#b5cbe5"/>
<rect x="433.25" y="481.84" width="4.24" height="2.09" fill="#acc5e2"/>
<rect x="437.49" y="481.84" width="4.24" height="2.09" fill="#b3cce9"/>
<rect x="441.73" y="481.84" width="4.24" height="2.09" fill="#adc6e3"/>
<rect x="445.98" y="481.84" width="4.24" height="2.09" fill="#c9ddf3"/>
<rect x="450.22" y="481.84" width="4.24" height="2.09" fill="#bdd1e7"/>
<rect x="454.46" y="481.84" width="4.24" height="2.09" fill="#c6daf0"/>
<rect x="407.80" y="483.93" width="4.24" height="2.09" fill="#abc5e2"/>
<rect x="412.04" y="483.93" width="4.24" height="2.09" fill="#b0cae7"/>
<rect x="416.28" y="483.93" width="4.24" height="2.09" fill="#aac4e1"/>
<rect x="420.52" y="483.93" width="4.24" height="2.09" fill="#bcd2ec"/>
<rect x="424.77" y="483.93" width="4.24" height="2.09" fill="#b8cee8"/>
<rect x="429.01" y="483.93" width="4.24" height="2.09" fill="#c1d7f1"/>
<rect x="433.25" y="483.93" width="4.24" height="2.09" fill="#afc8e5"/>
<rect x="437.49" y="483.93" width="4.24" height="2.09" fill="#a9c2df"/>
<rect x="441.73" y="483.93" width="4.24" height="2.09" fill="#a9c2df"/>
<rect x="445.98" y="483.93" width="4.24" height="2.09" fill="#c3d7ed"/>
<rect x="450.22" y="483.93" width="4.24" height="2.09" fill="#cadef4"/>
<rect x="454.46" y="483.93" width="4.24" height="2.09" fill="#c4d8ee"/>
<rect x="407.80" y="486.02" width="4.24" height="2.09" fill="#abc5e2"/>
<rect x="412.04" y="486.02" width="4.24" height="2.09" fill="#a5bfdc"/>
<rect x="416.28" y="486.02" width="4.24" height="2.09" fill="#a8c2df"/>
<rect x="420.52" y="486.02" width="4.24" height="2.09" fill="#bad0ea"/>
<rect x="424.77" y="486.02" width="4.24" height="2.09" fill="#acc2dc"/>
<rect x="429.01" y="486.02" width="4.24" height="2.09" fill="#b4cae4"/>
<rect x="433.25" y="486.02" width="4.24" height="2.09" fill="#bbd4f1"/>
<rect x="437.49" y="486.02" width="4.24" height="2.09" fill="#adc6e3"/>
<rect x="441.73" y="486.02" width="4.24" height="2.09" fill="#afc8e5"/>
<rect x="445.98" y="486.02" width="4.24" height="2.09" fill="#bed2e8"/>
<rect x="450.22" y="486.02" width="4.24" height="2.09" fill="#c0d4ea"/>
<rect x="454.46" y="486.02" width="4.24" height="2.09" fill="#d0e4fa"/>
<rect x="407.80" y="488.11" width="4.24" height="2.09" fill="#adc7e4"/>
<rect x="412.04" y="488.11" width="4.24" height="2.09" fill="#aac4e1"/>
<rect x="416.28" y="488.11" width="4.24" height="2.09" fill="#bad4f1"/>
<rect x="420.52" y="488.11" width="4.24" height="2.09" fill="#a6bcd6"/>
<rect x="424.77" y="488.11" width="4.24" height="2.09" fill="#b7cde7"/>
<rect x="429.01" y="488.11" width="4.24" height="2.09" fill="#c9dff9"/>
<rect x="433.25" y="488.11" width="4.24" height="2.09" fill="#b7d0ed"/>
<rect x="437.49" y="488.11" width="4.24" height="2.09" fill="#b2cbe8"/>
<rect x="441.73" y="488.11" width="4.24" height="2.09" fill="#afc8e5"/>
<rect x="445.98" y="488.11" width="4.24" height="2.09" fill="#bacee4"/>
<rect x="450.22" y="488.11" width="4.24" height="2.09" fill="#c6daf0"/>
<rect x="454.46" y="488.11" width="4.24" height="2.09" fill="#c6daf0"/>
<rect x="407.80" y="490.20" width="4.24" height="2.09" fill="#bad4f1"/>
<rect x="412.04" y="490.20" width="4.24" height="2.09" fill="#b2cce9"/>
<rect x="416.28" y="490.20" width="4.24" height="2.09" fill="#b5cfec"/>
<rect x="420.52" y="490.20" width="4.24" height="2.09" fill="#b6cce6"/>
<rect x="424.77" y="490.20" width="4.24" height="2.09" fill="#bbd1eb"/>
<rect x="429.01" y="490.20" width="4.24" height="2.09" fill="#bdd3ed"/>
<rect x="433.25" y="490.20" width="4.24" height="2.09" fill="#a8c1de"/>
<rect x="437.49" y="490.20" width="4.24" height="2.09" fill="#b7d0ed"/>
<rect x="441.73" y="490.20" width="4.24" height="2.09" fill="#b3cce9"/>
<rect x="445.98" y="490.20" width="4.24" height="2.09" fill="#c3d7ed"/>
<rect x="450.22" y="490.20" width="4.24" height="2.09" fill="#bfd3e9"/>
<rect x="454.46" y="490.20" width="4.24" height="2.09" fill="#c9ddf3"/>
<rect x="407.80" y="492.28" width="4.24" height="2.09" fill="#b7d1ee"/>
<rect x="412.04" y="492.28" width="4.24" height="2.09" fill="#afc9e6"/>
<rect x="416.28" y="492.28" width="4.24" height="2.09" fill="#afc9e6"/>
<rect x="420.52" y="492.28" width="4.24" height="2.09" fill="#bcd2ec"/>
<rect x="424.77" y="492.28" width="4.24" height="2.09" fill="#c3d9f3"/>
<rect x="429.01" y="492.28" width="4.24" height="2.09" fill="#bad0ea"/>
<rect x="433.25" y="492.28" width="4.24" height="2.09" fill="#b2cbe8"/>
<rect x="437.49" y="492.28" width="4.24" height="2.09" fill="#b0c9e6"/>
<rect x="441.73" y="492.28" width="4.24" height="2.09" fill="#abc4e1"/>
<rect x="445.98" y="492.28" width="4.24" height="2.09" fill="#c9ddf3"/>
<rect x="450.22" y="492.28" width="4.24" height="2.09" fill="#c0d4ea"/>
<rect x="454.46" y="492.28" width="4.24" height="2.09" fill="#c9ddf3"/>
<rect x="407.80" y="494.37" width="4.24" height="2.09" fill="#b4ceeb"/>
<rect x="412.04" y="494.37" width="4.24" height="2.09" fill="#c0daf7"/>
<rect x="416.28" y="494.37" width="4.24" height="2.09" fill="#b3cdea"/>
<rect x="420.52" y="494.37" width="4.24" height="2.09" fill="#b5cbe5"/>
<rect x="424.77" y="494.37" width="4.24" height="2.09" fill="#c0d6f0"/>
<rect x="429.01" y="494.37" width="4.24" height="2.09" fill="#bfd5ef"/>
<rect x="433.25" y="494.37" width="4.24" height="2.09" fill="#b6cfec"/>
<rect x="437.49" y="494.37" width="4.24" height="2.09" fill="#b1cae7"/>
<rect x="441.73" y="494.37" width="4.24" height="2.09" fill="#b5ceeb"/>
<rect x="445.98" y="494.37" width="4.24" height="2.09" fill="#c8dcf2"/>
<rect x="450.22" y="494.37" width="4.24" height="2.09" fill="#cadef4"/>
<rect x="454.46" y="494.37" width="4.24" height="2.09" fill="#cce0f6"/>
<rect x="407.80" y="496.46" width="4.24" height="2.09" fill="#b3cdea"/>
<rect x="412.04" y="496.46" width="4.24" height="2.09" fill="#b4ceeb"/>
<rect x="416.28" y="496.46" width="4.24" height="2.09" fill="#c0daf7"/>
<rect x="420.52" y="496.46" width="4.24" height="2.09" fill="#c2d8f2"/>
<rect x="424.77" y="496.46" width="4.24" height="2.09" fill="#c6dcf6"/>
<rect x="429.01" y="496.46" width="4.24" height="2.09" fill="#b4cae4"/>
<rect x="433.25" y="496.46" width="4.24" height="2.09" fill="#abc4e1"/>
<rect x="437.49" y="496.46" width="4.24" height="2.09" fill="#bcd5f2"/>
<rect x="441.73" y="496.46" width="4.24" height="2.09" fill="#b7d0ed"/>
<rect x="445.98" y="496.46" width="4.24" height="2.09" fill="#bed2e8"/>
<rect x="450.22" y="496.46" width="4.24" height="2.09" fill="#cee2f8"/>
<rect x="454.46" y="496.46" width="4.24" height="2.09" fill="#c6daf0"/>
<rect x="407.80" y="498.55" width="4.24" height="2.09" fill="#bad4f1"/>
<rect x="412.04" y="498.55" width="4.24" height="2.09" fill="#bdd7f4"/>
<rect x="416.28" y="498.55" width="4.24" height="2.09" fill="#bbd5f2"/>
<rect x="420.52" y="498.55" width="4.24" height="2.09" fill="#c0d6f0"/>
<rect x="424.77" y="498.55" width="4.24" height="2.09" fill="#bed4ee"/>
<rect x="429.01" y="498.55" width="4.24" height="2.09" fill="#cee4fe"/>
<rect x="433.25" y="498.55" width="4.24" height="2.09" fill="#b6cfec"/>
<rect x="437.49" y="498.55" width="4.24" height="2.09" fill="#b5ceeb"/>
<rect x="441.73" y="498.55" width="4.24" height="2.09" fill="#b8d1ee"/>
<rect x="445.98" y="498.55" width="4.24" height="2.09" fill="#cde1f7"/>
<rect x="450.22" y="498.55" width="4.24" height="2.09" fill="#c6daf0"/>
<rect x="454.46" y="498.55" width="4.24" height="2.09" fill="#d4e8fe"/>
<rect x="407.80" y="500.64" width="4.24" height="2.09" fill="#9fb9d6"/>
<rect x="412.04" y="500.64" width="4.24" height="2.09" fill="#abc5e2"/>
<rect x="416.28" y="500.64" width="4.24" height="2.09" fill="#a8c2df"/>
<rect x="420.52" y="500.64" width="4.24" height="2.09" fill="#b2c8e2"/>
<rect x="424.77" y="500.64" width="4.24" height="2.09" fill="#c0d6f0"/>
<rect x="429.01" y="500.64" width="4.24" height="2.09" fill="#b7cde7"/>
<rect x="433.25" y="500.64" width="4.24" height="2.09" fill="#b0c9e6"/>
<rect x="437.49" y="500.64" width="4.24" height="2.09" fill="#aac3e0"/>
<rect x="441.73" y="500.64" width="4.24" height="2.09" fill="#b0c9e6"/>
<rect x="445.98" y="500.64" width="4.24" height="2.09" fill="#c0d4ea"/>
<rect x="450.22" y="500.64" width="4.24" height="2.09" fill="#c1d5eb"/>
<rect x="454.46" y="500.64" width="4.24" height="2.09" fill="#d2e6fc"/>
<rect x="407.80" y="502.73" width="4.24" height="2.09" fill="#b0cae7"/>
<rect x="412.04" y="502.73" width="4.24" height="2.09" fill="#b7d1ee"/>
<rect x="416.28" y="502.73" width="4.24" height="2.09" fill="#b8d2ef"/>
<rect x="420.52" y="502.73" width="4.24" height="2.09" fill="#c4daf4"/>
<rect x="424.77" y="502.73" width="4.24" height="2.09" fill="#c1d7f1"/>
<rect x="429.01" y="502.73" width="4.24" height="2.09" fill="#bcd2ec"/>
<rect x="433.25" y="502.73" width="4.24" height="2.09" fill="#acc5e2"/>
<rect x="437.49" y="502.73" width="4.24" height="2.09" fill="#b3cce9"/>
<rect x="441.73" y="502.73" width="4.24" height="2.09" fill="#b4cdea"/>
<rect x="445.98" y="502.73" width="4.24" height="2.09" fill="#bed2e8"/>
<rect x="450.22" y="502.73" width="4.24" height="2.09" fill="#c6daf0"/>
<rect x="454.46" y="502.73" width="4.24" height="2.09" fill="#c9ddf3"/>
<rect x="407.80" y="504.82" width="4.24" height="2.09" fill="#afc9e6"/>
<rect x="412.04" y="504.82" width="4.24" height="2.09" fill="#b3cdea"/>
<rect x="416.28" y="504.82" width="4.24" height="2.09" fill="#b1cbe8"/>
<rect x="420.52" y="504.82" width="4.24" height="2.09" fill="#bed4ee"/>
<rect x="424.77" y="504.82" width="4.24" height="2.09" fill="#c2d8f2"/>
<rect x="429.01" y="504.82" width="4.24" height="2.09" fill="#c0d6f0"/>
<rect x="433.25" y="504.82" width="4.24" height="2.09" fill="#abc4e1"/>
<rect x="437.49" y="504.82" width="4.24" height="2.09" fill="#b2cbe8"/>
<rect x="441.73" y="504.82" width="4.24" height="2.09" fill="#a8c1de"/>
<rect x="445.98" y="504.82" width="4.24" height="2.09" fill="#c3d7ed"/>
<rect x="450.22" y="504.82" width="4.24" height="2.09" fill="#c2d6ec"/>
<rect x="454.46" y="504.82" width="4.24" height="2.09" fill="#c5d9ef"/>
<rect x="407.80" y="506.90" width="4.24" height="2.09" fill="#b1cbe8"/>
<rect x="412.04" y="506.90" width="4.24" height="2.09" fill="#b2cce9"/>
<rect x="416.28" y="506.90" width="4.24" height="2.09" fill="#bdd7f4"/>
<rect x="420.52" y="506.90" width="4.24" height="2.09" fill="#bdd3ed"/>
<rect x="424.77" y="506.90" width="4.24" height="2.09" fill="#b9cfe9"/>
<rect x="429.01" y="506.90" width="4.24" height="2.09" fill="#bcd2ec"/>
<rect x="433.25" y="506.90" width="4.24" height="2.09" fill="#bcd5f2"/>
<rect x="437.49" y="506.90" width="4.24" height="2.09" fill="#b4cdea"/>
<rect x="441.73" y="506.90" width="4.24" height="2.09" fill="#a6bfdc"/>
<rect x="445.98" y="506.90" width="4.24" height="2.09" fill="#bbcfe5"/>
<rect x="450.22" y="506.90" width="4.24" height="2.09" fill="#c5d9ef"/>
<rect x="454.46" y="506.90" width="4.24" height="2.09" fill="#c3d7ed"/>
<rect x="407.80" y="508.99" width="4.24" height="2.09" fill="#b5cfec"/>
<rect x="412.04" y="508.99" width="4.24" height="2.09" fill="#b5cfec"/>
<rect x="416.28" y="508.99" width="4.24" height="2.09" fill="#b4ceeb"/>
<rect x="420.52" y="508.99" width="4.24" height="2.09" fill="#b9cfe9"/>
<rect x="424.77" y="508.99" width="4.24" height="2.09" fill="#b9cfe9"/>
<rect x="429.01" y="508.99" width="4.24" height="2.09" fill="#bfd5ef"/>
<rect x="433.25" y="508.99" width="4.24" height="2.09" fill="#b8d1ee"/>
<rect x="437.49" y="508.99" width="4.24" height="2.09" fill="#afc8e5"/>
<rect x="441.73" y="508.99" width="4.24" height="2.09" fill="#b4cdea"/>
<rect x="445.98" y="508.99" width="4.24" height="2.09" fill="#bdd1e7"/>
<rect x="450.22" y="508.99" width="4.24" height="2.09" fill="#c1d5eb"/>
<rect x="454.46" y="508.99" width="4.24" height="2.09" fill="#bed2e8"/>
<rect x="407.80" y="511.08" width="4.24" height="2.09" fill="#bcd6f3"/>
<rect x="412.04" y="511.08" width="4.24" height="2.09" fill="#b6d0ed"/>
<rect x="416.28" y="511.08" width="4.24" height="2.09" fill="#b6d0ed"/>
<rect x="420.52" y="511.08" width="4.24" height="2.09" fill="#c3d9f3"/>
<rect x="424.77" y="511.08" width="4.24" height="2.09" fill="#cbe1fb"/>
<rect x="429.01" y="511.08" width="4.24" height="2.09" fill="#bfd5ef"/>
<rect x="433.25" y="511.08" width="4.24" height="2.09" fill="#afc8e5"/>
<rect x="437.49" y="511.08" width="4.24" height="2.09" fill="#b1cae7"/>
<rect x="441.73" y="511.08" width="4.24" height="2.09" fill="#a6bfdc"/>
<rect x="445.98" y="511.08" width="4.24" height="2.09" fill="#c3d7ed"/>
<rect x="450.22" y="511.08" width="4.24" height="2.09" fill="#cadef4"/>
<rect x="454.46" y="511.08" width="4.24" height="2.09" fill="#cbdff5"/>
<rect x="407.80" y="513.17" width="4.24" height="2.09" fill="#acc6e3"/>
<rect x="412.04" y="513.17" width="4.24" height="2.09" fill="#aec8e5"/>
<rect x="416.28" y="513.17" width="4.24" height="2.09" fill="#a5bfdc"/>
<rect x="420.52" y="513.17" width="4.24" height="2.09" fill="#c0d6f0"/>
<rect x="424.77" y="513.17" width="4.24" height="2.09" fill="#bcd2ec"/>
<rect x="429.01" y="513.17" width="4.24" height="2.09" fill="#b9cfe9"/>
<rect x="433.25" y="513.17" width="4.24" height="2.09" fill="#bbd4f1"/>
<rect x="437.49" y="513.17" width="4.24" height="2.09" fill="#b3cce9"/>
<rect x="441.73" y="513.17" width="4.24" height="2.09" fill="#a8c1de"/>
<rect x="445.98" y="513.17" width="4.24" height="2.09" fill="#c7dbf1"/>
<rect x="450.22" y="513.17" width="4.24" height="2.09" fill="#c1d5eb"/>
<rect x="454.46" y="513.17" width="4.24" height="2.09" fill="#bacee4"/>
<rect x="407.80" y="515.26" width="4.24" height="2.09" fill="#b6d0ed"/>
<rect x="412.04" y="515.26" width="4.24" height="2.09" fill="#b3cdea"/>
<rect x="416.28" y="515.26" width="4.24" height="2.09" fill="#bfd9f6"/>
<rect x="420.52" y="515.26" width="4.24" height="2.09" fill="#bed4ee"/>
<rect x="424.77" y="515.26" width="4.24" height="2.09" fill="#c3d9f3"/>
<rect x="429.01" y="515.26" width="4.24" height="2.09" fill="#bbd1eb"/>
<rect x="433.25" y="515.26" width="4.24" height="2.09" fill="#aac3e0"/>
<rect x="437.49" y="515.26" width="4.24" height="2.09" fill="#acc5e2"/>
<rect x="441.73" y="515.26" width="4.24" height="2.09" fill="#bcd5f2"/>
<rect x="445.98" y="515.26" width="4.24" height="2.09" fill="#c3d7ed"/>
<rect x="450.22" y="515.26" width="4.24" height="2.09" fill="#d9edff"/>
<rect x="454.46" y="515.26" width="4.24" height="2.09" fill="#b9cde3"/>
<rect x="407.80" y="517.35" width="4.24" height="2.09" fill="#adc7e4"/>
<rect x="412.04" y="517.35" width="4.24" height="2.09" fill="#b8d2ef"/>
<rect x="416.28" y="517.35" width="4.24" height="2.09" fill="#b4ceeb"/>
<rect x="420.52" y="517.35" width="4.24" height="2.09" fill="#b8cee8"/>
<rect x="424.77" y="517.35" width="4.24" height="2.09" fill="#c3d9f3"/>
<rect x="429.01" y="517.35" width="4.24" height="2.09" fill="#c5dbf5"/>
<rect x="433.25" y="517.35" width="4.24" height="2.09" fill="#bcd5f2"/>
<rect x="437.49" y="517.35" width="4.24" height="2.09" fill="#bcd5f2"/>
<rect x="441.73" y="517.35" width="4.24" height="2.09" fill="#b8d1ee"/>
<rect x="445.98" y="517.35" width="4.24" height="2.09" fill="#c5d9ef"/>
<rect x="450.22" y="517.35" width="4.24" height="2.09" fill="#cce0f6"/>
<rect x="454.46" y="517.35" width="4.24" height="2.09" fill="#c3d7ed"/>
<rect x="407.80" y="519.43" width="4.24" height="2.09" fill="#a6c0dd"/>
<rect x="412.04" y="519.43" width="4.24" height="2.09" fill="#b5cfec"/>
<rect x="416.28" y="519.43" width="4.24" height="2.09" fill="#b5cfec"/>
<rect x="420.52" y="519.43" width="4.24" height="2.09" fill="#bad0ea"/>
<rect x="424.77" y="519.43" width="4.24" height="2.09" fill="#b5cbe5"/>
<rect x="429.01" y="519.43" width="4.24" height="2.09" fill="#c2d8f2"/>
<rect x="433.25" y="519.43" width="4.24" height="2.09" fill="#b5ceeb"/>
<rect x="437.49" y="519.43" width="4.24" height="2.09" fill="#bcd5f2"/>
<rect x="441.73" y="519.43" width="4.24" height="2.09" fill="#b3cce9"/>
<rect x="445.98" y="519.43" width="4.24" height="2.09" fill="#cadef4"/>
<rect x="450.22" y="519.43" width="4.24" height="2.09" fill="#c3d7ed"/>
<rect x="454.46" y="519.43" width="4.24" height="2.09" fill="#c3d7ed"/>
<rect x="407.80" y="521.52" width="4.24" height="2.09" fill="#b2cce9"/>
<rect x="412.04" y="521.52" width="4.24" height="2.09" fill="#b0cae7"/>
<rect x="416.28" y="521.52" width="4.24" height="2.09" fill="#b6d0ed"/>
<rect x="420.52" y="521.52" width="4.24" height="2.09" fill="#c5dbf5"/>
<rect x="424.77" y="521.52" width="4.24" height="2.09" fill="#bcd2ec"/>
<rect x="429.01" y="521.52" width="4.24" height="2.09" fill="#c5dbf5"/>
<rect x="433.25" y="521.52" width="4.24" height="2.09" fill="#b6cfec"/>
<rect x="437.49" y="521.52" width="4.24" height="2.09" fill="#b3cce9"/>
<rect x="441.73" y="521.52" width="4.24" height="2.09" fill="#b9d2ef"/>
<rect x="445.98" y="521.52" width="4.24" height="2.09" fill="#c2d6ec"/>
<rect x="450.22" y="521.52" width="4.24" height="2.09" fill="#b9cde3"/>
<rect x="454.46" y="521.52" width="4.24" height="2.09" fill="#cadef4"/>
<rect x="407.80" y="523.61" width="4.24" height="2.09" fill="#aec8e5"/>
<rect x="412.04" y="523.61" width="4.24" height="2.09" fill="#b6d0ed"/>
<rect x="416.28" y="523.61" width="4.24" height="2.09" fill="#adc7e4"/>
<rect x="420.52" y="523.61" width="4.24" height="2.09" fill="#c4daf4"/>
<rect x="424.77" y="523.61" width="4.24" height="2.09" fill="#b2c8e2"/>
<rect x="429.01" y="523.61" width="4.24" height="2.09" fill="#bdd3ed"/>
<rect x="433.25" y="523.61" width="4.24" height="2.09" fill="#b7d0ed"/>
<rect x="437.49" y="523.61" width="4.24" height="2.09" fill="#b9d2ef"/>
<rect x="441.73" y="523.61" width="4.24" height="2.09" fill="#b5ceeb"/>
<rect x="445.98" y="523.61" width="4.24" height="2.09" fill="#c2d6ec"/>
<rect x="450.22" y="523.61" width="4.24" height="2.09" fill="#c0d4ea"/>
<rect x="454.46" y="523.61" width="4.24" height="2.09" fill="#c0d4ea"/>
</g>
<rect x="446.00" y="336.60" width="12.80" height="1.30" fill="#f4c4b8" />
<rect x="446.00" y="372.40" width="12.80" height="1.30" fill="#f6cfc6" />
<text x="434.70" y="288.00" font-size="9.0" text-anchor="middle" textLength="42.60" lengthAdjust="spacingAndGlyphs" stroke="#282828" stroke-width="0.25">HL-60 cells</text>
<text x="411.00" y="297.80" font-size="6.3" textLength="19.20" lengthAdjust="spacingAndGlyphs" >c-BiTE</text>
<text x="432.20" y="297.80" font-size="6.3" textLength="28.40" lengthAdjust="spacingAndGlyphs" >AMG 330</text>
<line x1="410.50" y1="299.90" x2="430.80" y2="299.90" stroke="#666" stroke-width="0.9" />
<line x1="432.00" y1="299.90" x2="460.50" y2="299.90" stroke="#666" stroke-width="0.9" />
<text x="384.50" y="308.20" font-size="7.2" textLength="22.30" lengthAdjust="spacingAndGlyphs" >cGAMP</text>
<text x="414.50" y="307.20" font-size="5.5" text-anchor="middle" >–</text>
<text x="427.50" y="307.20" font-size="5.5" text-anchor="middle" >+</text>
<text x="440.50" y="307.20" font-size="5.5" text-anchor="middle" >–</text>
<text x="453.00" y="307.20" font-size="5.5" text-anchor="middle" >+</text>
<path d="M458.90,312.00 L460.50,312.00 L466.00,307.50 L467.40,307.50" fill="none" stroke="#3a3a3a" stroke-width="0.6"/>
<text x="468.40" y="309.85" font-size="6.8" textLength="13.14" lengthAdjust="spacingAndGlyphs" >B2M</text>
<path d="M458.90,318.50 L460.50,318.50 L466.00,313.50 L467.40,313.50" fill="none" stroke="#3a3a3a" stroke-width="0.6"/>
<text x="468.40" y="315.85" font-size="6.8" textLength="18.12" lengthAdjust="spacingAndGlyphs" >ISG15</text>
<path d="M458.90,321.50 L460.50,321.50 L466.00,320.60 L467.40,320.60" fill="none" stroke="#3a3a3a" stroke-width="0.6"/>
<text x="468.40" y="322.95" font-size="6.8" textLength="14.92" lengthAdjust="spacingAndGlyphs" >IFIT3</text>
<path d="M458.90,323.50 L460.50,323.50 L466.00,328.50 L467.40,328.50" fill="none" stroke="#3a3a3a" stroke-width="0.6"/>
<text x="468.40" y="330.85" font-size="6.8" textLength="14.92" lengthAdjust="spacingAndGlyphs" >IFIT2</text>
<path d="M458.90,326.00 L460.50,326.00 L466.00,334.40 L467.40,334.40" fill="none" stroke="#3a3a3a" stroke-width="0.6"/>
<text x="468.40" y="336.75" font-size="6.8" textLength="24.16" lengthAdjust="spacingAndGlyphs" >CXCL10</text>
<path d="M458.90,337.00 L460.50,337.00 L466.00,341.90 L467.40,341.90" fill="none" stroke="#3a3a3a" stroke-width="0.6"/>
<text x="468.40" y="344.25" font-size="6.8" textLength="18.94" lengthAdjust="spacingAndGlyphs" >WARS</text>
<path d="M458.90,348.80 L460.50,348.80 L466.00,348.80 L467.40,348.80" fill="none" stroke="#3a3a3a" stroke-width="0.6"/>
<text x="468.40" y="351.15" font-size="6.8" textLength="18.94" lengthAdjust="spacingAndGlyphs" >STAT1</text>
<path d="M458.90,357.00 L460.50,357.00 L466.00,356.50 L467.40,356.50" fill="none" stroke="#3a3a3a" stroke-width="0.6"/>
<text x="468.40" y="358.85" font-size="6.8" textLength="23.09" lengthAdjust="spacingAndGlyphs" >NFKBIA</text>
<path d="M458.90,360.00 L460.50,360.00 L466.00,362.40 L467.40,362.40" fill="none" stroke="#3a3a3a" stroke-width="0.6"/>
<text x="468.40" y="364.75" font-size="6.8" textLength="17.05" lengthAdjust="spacingAndGlyphs" >GBP2</text>
<path d="M458.90,373.00 L460.50,373.00 L466.00,369.60 L467.40,369.60" fill="none" stroke="#3a3a3a" stroke-width="0.6"/>
<text x="468.40" y="371.95" font-size="6.8" textLength="17.05" lengthAdjust="spacingAndGlyphs" >OASL</text>
<path d="M458.90,376.50 L460.50,376.50 L466.00,376.80 L467.40,376.80" fill="none" stroke="#3a3a3a" stroke-width="0.6"/>
<text x="468.40" y="379.15" font-size="6.8" textLength="14.92" lengthAdjust="spacingAndGlyphs" >IFIT1</text>
<path d="M458.90,378.00 L460.50,378.00 L466.00,384.00 L467.40,384.00" fill="none" stroke="#3a3a3a" stroke-width="0.6"/>
<text x="468.40" y="386.35" font-size="6.8" textLength="23.45" lengthAdjust="spacingAndGlyphs" >PMAIP1</text>
<path d="M458.90,401.00 L460.50,401.00 L466.00,405.20 L467.40,405.20" fill="none" stroke="#3a3a3a" stroke-width="0.6"/>
<text x="468.40" y="407.55" font-size="6.8" textLength="23.69" lengthAdjust="spacingAndGlyphs" >CXCL11</text>
<path d="M458.90,403.00 L460.50,403.00 L466.00,411.80 L467.40,411.80" fill="none" stroke="#3a3a3a" stroke-width="0.6"/>
<text x="468.40" y="414.15" font-size="6.8" textLength="17.05" lengthAdjust="spacingAndGlyphs" >GBP1</text>
<path d="M458.90,436.00 L460.50,436.00 L466.00,428.30 L467.40,428.30" fill="none" stroke="#3a3a3a" stroke-width="0.6"/>
<text x="468.40" y="430.65" font-size="6.8" textLength="13.85" lengthAdjust="spacingAndGlyphs" >IRF1</text>
<path d="M458.90,438.00 L460.50,438.00 L466.00,435.60 L467.40,435.60" fill="none" stroke="#3a3a3a" stroke-width="0.6"/>
<text x="468.40" y="437.95" font-size="6.8" textLength="13.85" lengthAdjust="spacingAndGlyphs" >IRF2</text>
<path d="M458.90,440.00 L460.50,440.00 L466.00,443.00 L467.40,443.00" fill="none" stroke="#3a3a3a" stroke-width="0.6"/>
<text x="468.40" y="445.35" font-size="6.8" textLength="13.85" lengthAdjust="spacingAndGlyphs" >IRF7</text>
<path d="M458.90,452.80 L460.50,452.80 L466.00,452.80 L467.40,452.80" fill="none" stroke="#3a3a3a" stroke-width="0.6"/>
<text x="468.40" y="455.15" font-size="6.8" textLength="15.51" lengthAdjust="spacingAndGlyphs" >SAT1</text>
<path d="M458.90,467.00 L460.50,467.00 L466.00,460.90 L467.40,460.90" fill="none" stroke="#3a3a3a" stroke-width="0.6"/>
<text x="468.40" y="463.25" font-size="6.8" textLength="15.63" lengthAdjust="spacingAndGlyphs" >IFIH1</text>
<path d="M458.90,469.00 L460.50,469.00 L466.00,468.10 L467.40,468.10" fill="none" stroke="#3a3a3a" stroke-width="0.6"/>
<text x="468.40" y="470.45" font-size="6.8" textLength="20.61" lengthAdjust="spacingAndGlyphs" >DDX58</text>
<path d="M458.90,471.00 L460.50,471.00 L466.00,475.30 L467.40,475.30" fill="none" stroke="#3a3a3a" stroke-width="0.6"/>
<text x="468.40" y="477.65" font-size="6.8" textLength="17.05" lengthAdjust="spacingAndGlyphs" >OAS1</text>
<path d="M458.90,511.00 L460.50,511.00 L466.00,499.00 L467.40,499.00" fill="none" stroke="#3a3a3a" stroke-width="0.6"/>
<text x="468.40" y="501.35" font-size="6.8" textLength="21.31" lengthAdjust="spacingAndGlyphs" >RSAD2</text>
<path d="M458.90,512.50 L460.50,512.50 L466.00,506.00 L467.40,506.00" fill="none" stroke="#3a3a3a" stroke-width="0.6"/>
<text x="468.40" y="508.35" font-size="6.8" textLength="25.93" lengthAdjust="spacingAndGlyphs" >FCGR1A</text>
<path d="M458.90,514.00 L460.50,514.00 L466.00,513.00 L467.40,513.00" fill="none" stroke="#3a3a3a" stroke-width="0.6"/>
<text x="468.40" y="515.35" font-size="6.8" textLength="25.93" lengthAdjust="spacingAndGlyphs" >FCGR1B</text>
<path d="M458.90,516.00 L460.50,516.00 L466.00,520.00 L467.40,520.00" fill="none" stroke="#3a3a3a" stroke-width="0.6"/>
<text x="468.40" y="522.35" font-size="6.8" textLength="14.92" lengthAdjust="spacingAndGlyphs" >AIM2</text>
<path d="M458.90,518.00 L460.50,518.00 L466.00,527.00 L467.40,527.00" fill="none" stroke="#3a3a3a" stroke-width="0.6"/>
<text x="468.40" y="529.35" font-size="6.8" textLength="17.05" lengthAdjust="spacingAndGlyphs" >GBP3</text>
<defs><linearGradient id="cbH" x1="0" y1="0" x2="0" y2="1"><stop offset="0.000" stop-color="#cc1818"/><stop offset="0.105" stop-color="#e03a30"/><stop offset="0.250" stop-color="#f2a098"/><stop offset="0.350" stop-color="#f6eaec"/><stop offset="0.568" stop-color="#e2e8f2"/><stop offset="0.640" stop-color="#b8d0ea"/><stop offset="0.685" stop-color="#9cc0e4"/><stop offset="0.800" stop-color="#5a9ad0"/><stop offset="1.000" stop-color="#1a78b4"/></linearGradient></defs>
<rect x="498.10" y="490.20" width="5.30" height="36.20" fill="url(#cbH)"/>
<text x="506.20" y="495.30" font-size="6.5" >11</text>
<text x="506.20" y="505.70" font-size="6.5" >10</text>
<text x="506.20" y="516.10" font-size="6.5" >9</text>
<text x="506.20" y="526.60" font-size="6.5" >8</text>
<path d="M407.40,311.63H406.36V313.72H407.40 M407.40,309.54H405.62V312.68H406.36 M407.40,315.81H406.35V317.90H407.40 M407.40,319.99H406.46V322.07H407.40 M406.46,321.03H405.39V324.16H407.40 M407.40,326.25H406.49V328.34H407.40 M405.39,322.60H404.24V327.30H406.49 M407.40,330.43H406.41V332.52H407.40 M406.41,331.47H405.34V334.61H407.40 M407.40,336.69H406.08V338.78H407.40 M405.34,333.04H403.77V337.74H406.08 M407.40,342.96H406.19V345.05H407.40 M407.40,340.87H405.41V344.00H406.19 M403.77,335.39H402.62V342.44H405.41 M407.40,347.14H406.03V349.23H407.40 M407.40,351.31H406.27V353.40H407.40 M406.03,348.18H404.78V352.36H406.27 M402.62,338.91H400.64V350.27H404.78 M407.40,355.49H406.24V357.58H407.40 M407.40,359.67H406.50V361.76H407.40 M406.24,356.53H404.77V360.71H406.50 M407.40,363.84H406.57V365.93H407.40 M406.57,364.89H405.34V368.02H407.40 M404.77,358.62H403.03V366.45H405.34 M407.40,370.11H406.39V372.20H407.40 M406.39,371.15H405.12V374.29H407.40 M403.03,362.54H401.78V372.72H405.12 M407.40,376.38H406.43V378.46H407.40 M407.40,380.55H406.15V382.64H407.40 M406.43,377.42H404.77V381.60H406.15 M407.40,384.73H406.53V386.82H407.40 M407.40,388.91H406.46V390.99H407.40 M406.53,385.77H404.50V389.95H406.46 M404.77,379.51H402.36V387.86H404.50 M401.78,367.63H399.34V383.68H402.36 M400.64,344.59H396.94V375.66H399.34 M404.24,324.95H396.27V360.12H396.94 M406.35,316.85H395.83V342.54H396.27 M407.40,393.08H406.58V395.17H407.40 M406.58,394.13H405.54V397.26H407.40 M405.54,395.69H404.38V399.35H407.40 M407.40,401.44H406.35V403.53H407.40 M404.38,397.52H403.15V402.48H406.35 M407.40,405.61H406.42V407.70H407.40 M407.40,409.79H406.33V411.88H407.40 M406.42,406.66H404.88V410.83H406.33 M403.15,400.00H401.67V408.75H404.88 M407.40,413.97H406.49V416.06H407.40 M407.40,418.14H406.42V420.23H407.40 M407.40,422.32H406.01V424.41H407.40 M406.42,419.19H404.70V423.37H406.01 M406.49,415.01H403.59V421.28H404.70 M407.40,428.59H406.19V430.68H407.40 M407.40,426.50H405.63V429.63H406.19 M407.40,432.76H406.44V434.85H407.40 M407.40,436.94H406.28V439.03H407.40 M406.28,437.98H405.25V441.12H407.40 M406.44,433.81H404.05V439.55H405.25 M405.63,428.06H402.14V436.68H404.05 M403.59,418.14H400.27V432.37H402.14 M407.40,443.21H406.57V445.29H407.40 M407.40,447.38H406.06V449.47H407.40 M407.40,451.56H406.30V453.65H407.40 M406.06,448.43H404.94V452.60H406.30 M406.57,444.25H403.57V450.52H404.94 M400.27,425.26H398.88V447.38H403.57 M401.67,404.37H397.01V436.32H398.88 M407.40,457.83H406.26V459.91H407.40 M407.40,455.74H405.12V458.87H406.26 M407.40,462.00H406.20V464.09H407.40 M407.40,466.18H406.30V468.27H407.40 M406.30,467.22H405.66V470.36H407.40 M406.20,463.05H404.17V468.79H405.66 M405.12,457.30H402.20V465.92H404.17 M407.40,472.44H406.20V474.53H407.40 M406.20,473.49H405.24V476.62H407.40 M407.40,478.71H406.11V480.80H407.40 M405.24,475.05H403.98V479.75H406.11 M402.20,461.61H400.47V477.40H403.98 M407.40,482.89H406.01V484.98H407.40 M406.01,483.93H405.14V487.06H407.40 M407.40,489.15H406.57V491.24H407.40 M405.14,485.50H403.76V490.20H406.57 M407.40,493.33H406.19V495.42H407.40 M407.40,497.51H406.21V499.59H407.40 M407.40,501.68H406.04V503.77H407.40 M406.04,502.73H405.59V505.86H407.40 M406.21,498.55H404.30V504.29H405.59 M406.19,494.37H402.65V501.42H404.30 M403.76,487.85H401.18V497.90H402.65 M407.40,507.95H406.12V510.04H407.40 M407.40,512.12H406.47V514.21H407.40 M406.47,513.17H405.31V516.30H407.40 M405.31,514.74H404.76V518.39H407.40 M406.12,508.99H403.18V516.56H404.76 M407.40,520.48H406.28V522.57H407.40 M406.28,521.52H405.70V524.66H407.40 M403.18,512.78H402.28V523.09H405.70 M401.18,492.87H398.44V517.93H402.28 M400.47,469.51H396.23V505.40H398.44 M397.01,420.35H392.72V487.46H396.23 M395.83,329.69H390.31V453.90H392.72 M405.62,311.11H390.01V391.80H390.31" fill="none" stroke="#9a9a9a" stroke-width="0.45"/>
<rect x="0.5" y="0.5" width="519" height="537" fill="none" stroke="#5a5a5a" stroke-width="1"/>
</svg></body></html>
